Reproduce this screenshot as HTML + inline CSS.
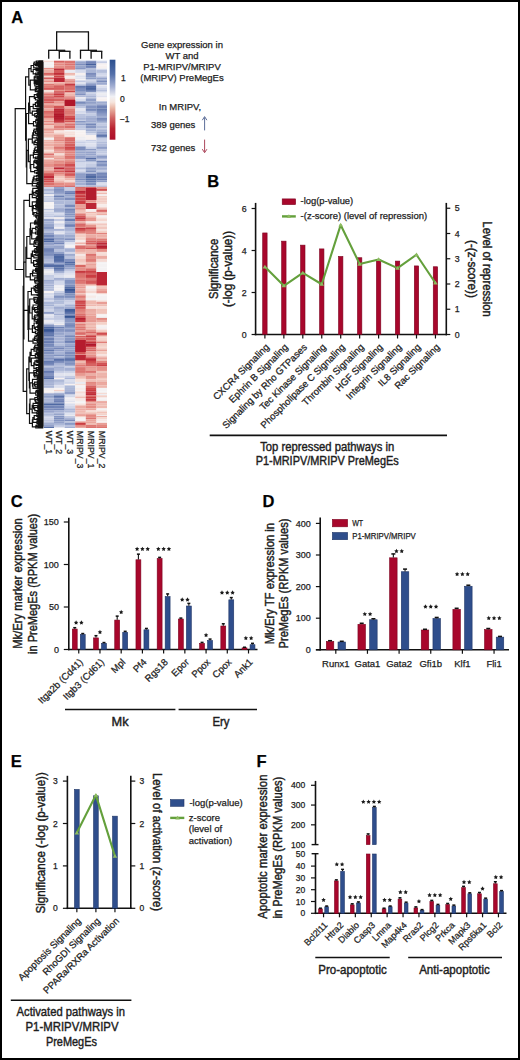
<!DOCTYPE html>
<html><head><meta charset="utf-8"><style>
html,body{margin:0;padding:0;background:#fff;width:520px;height:1060px;overflow:hidden}
svg{display:block}
text{font-family:"Liberation Sans",sans-serif;stroke:#222;stroke-width:0.25px}
</style></head><body>
<svg width="520" height="1060" viewBox="0 0 520 1060" fill="#1a1a1a">
<rect width="520" height="1060" fill="#fff"/>
<rect x="1" y="1" width="518" height="1058" fill="none" stroke="#000" stroke-width="2"/>
<text x="11.20" y="23.00" font-size="16.5" font-weight="bold" fill="#000">A</text>
<text x="207.30" y="187.40" font-size="16.5" font-weight="bold" fill="#000">B</text>
<text x="10.70" y="506.60" font-size="16.5" font-weight="bold" fill="#000">C</text>
<text x="262.50" y="506.60" font-size="16.5" font-weight="bold" fill="#000">D</text>
<text x="10.80" y="766.60" font-size="16.5" font-weight="bold" fill="#000">E</text>
<text x="256.60" y="766.60" font-size="16.5" font-weight="bold" fill="#000">F</text>
<defs><filter id="hb" x="0" y="0" width="1" height="1"><feGaussianBlur stdDeviation="0.2 0.6"/></filter><clipPath id="hc"><rect x="43.4" y="60.4" width="63.6" height="367.7"/></clipPath></defs>
<g clip-path="url(#hc)"><g filter="url(#hb)">
<rect x="43.40" y="60.40" width="10.65" height="1.55" fill="#f5d9d2"/>
<rect x="54.00" y="60.40" width="10.65" height="1.55" fill="#d35757"/>
<rect x="64.60" y="60.40" width="10.65" height="1.55" fill="#da6c69"/>
<rect x="75.20" y="60.40" width="10.65" height="1.55" fill="#acb7d7"/>
<rect x="85.80" y="60.40" width="10.65" height="1.55" fill="#7b8cbc"/>
<rect x="96.40" y="60.40" width="10.65" height="1.55" fill="#d0d6e9"/>
<rect x="43.40" y="61.90" width="10.65" height="1.55" fill="#f5f3f4"/>
<rect x="54.00" y="61.90" width="10.65" height="1.55" fill="#e1827c"/>
<rect x="64.60" y="61.90" width="10.65" height="1.55" fill="#dc7470"/>
<rect x="75.20" y="61.90" width="10.65" height="1.55" fill="#97a5cc"/>
<rect x="85.80" y="61.90" width="10.65" height="1.55" fill="#7385b8"/>
<rect x="96.40" y="61.90" width="10.65" height="1.55" fill="#c6cde4"/>
<rect x="43.40" y="63.40" width="10.65" height="2.05" fill="#f4f2f3"/>
<rect x="54.00" y="63.40" width="10.65" height="2.05" fill="#e48b83"/>
<rect x="64.60" y="63.40" width="10.65" height="2.05" fill="#dc736f"/>
<rect x="75.20" y="63.40" width="10.65" height="2.05" fill="#7d8ebd"/>
<rect x="85.80" y="63.40" width="10.65" height="2.05" fill="#46619d"/>
<rect x="96.40" y="63.40" width="10.65" height="2.05" fill="#f7f1f0"/>
<rect x="43.40" y="65.40" width="10.65" height="2.55" fill="#f4f2f3"/>
<rect x="54.00" y="65.40" width="10.65" height="2.55" fill="#e48e86"/>
<rect x="64.60" y="65.40" width="10.65" height="2.55" fill="#e0807a"/>
<rect x="75.20" y="65.40" width="10.65" height="2.55" fill="#97a5cb"/>
<rect x="85.80" y="65.40" width="10.65" height="2.55" fill="#6e81b5"/>
<rect x="96.40" y="65.40" width="10.65" height="2.55" fill="#f7f1f0"/>
<rect x="43.40" y="67.90" width="10.65" height="1.05" fill="#e2867f"/>
<rect x="54.00" y="67.90" width="10.65" height="1.05" fill="#db6f6c"/>
<rect x="64.60" y="67.90" width="10.65" height="1.05" fill="#de7a74"/>
<rect x="75.20" y="67.90" width="10.65" height="1.05" fill="#7c8dbd"/>
<rect x="85.80" y="67.90" width="10.65" height="1.05" fill="#b0bbd9"/>
<rect x="96.40" y="67.90" width="10.65" height="1.05" fill="#f3f1f3"/>
<rect x="43.40" y="68.90" width="10.65" height="1.05" fill="#f0bdb4"/>
<rect x="54.00" y="68.90" width="10.65" height="1.05" fill="#b51d2e"/>
<rect x="64.60" y="68.90" width="10.65" height="1.05" fill="#e7978f"/>
<rect x="75.20" y="68.90" width="10.65" height="1.05" fill="#b5bfdb"/>
<rect x="85.80" y="68.90" width="10.65" height="1.05" fill="#b2bcda"/>
<rect x="96.40" y="68.90" width="10.65" height="1.05" fill="#d9dded"/>
<rect x="43.40" y="69.90" width="10.65" height="3.05" fill="#ecafa6"/>
<rect x="54.00" y="69.90" width="10.65" height="3.05" fill="#d35858"/>
<rect x="64.60" y="69.90" width="10.65" height="3.05" fill="#eaeaf1"/>
<rect x="75.20" y="69.90" width="10.65" height="3.05" fill="#d6dbec"/>
<rect x="85.80" y="69.90" width="10.65" height="3.05" fill="#a9b5d6"/>
<rect x="96.40" y="69.90" width="10.65" height="3.05" fill="#b4bedb"/>
<rect x="43.40" y="72.90" width="10.65" height="2.05" fill="#d76361"/>
<rect x="54.00" y="72.90" width="10.65" height="2.05" fill="#c02d38"/>
<rect x="64.60" y="72.90" width="10.65" height="2.05" fill="#eeb7ae"/>
<rect x="75.20" y="72.90" width="10.65" height="2.05" fill="#f7f1f0"/>
<rect x="85.80" y="72.90" width="10.65" height="2.05" fill="#7a8bbb"/>
<rect x="96.40" y="72.90" width="10.65" height="2.05" fill="#d0d6e9"/>
<rect x="43.40" y="74.90" width="10.65" height="1.05" fill="#e6928a"/>
<rect x="54.00" y="74.90" width="10.65" height="1.05" fill="#dd7570"/>
<rect x="64.60" y="74.90" width="10.65" height="1.05" fill="#f4d4cb"/>
<rect x="75.20" y="74.90" width="10.65" height="1.05" fill="#ebebf1"/>
<rect x="85.80" y="74.90" width="10.65" height="1.05" fill="#8797c3"/>
<rect x="96.40" y="74.90" width="10.65" height="1.05" fill="#dadeed"/>
<rect x="43.40" y="75.90" width="10.65" height="1.55" fill="#f5d8d1"/>
<rect x="54.00" y="75.90" width="10.65" height="1.55" fill="#cd4447"/>
<rect x="64.60" y="75.90" width="10.65" height="1.55" fill="#f5f2f3"/>
<rect x="75.20" y="75.90" width="10.65" height="1.55" fill="#dee1ee"/>
<rect x="85.80" y="75.90" width="10.65" height="1.55" fill="#8a9ac4"/>
<rect x="96.40" y="75.90" width="10.65" height="1.55" fill="#c9d0e5"/>
<rect x="43.40" y="77.40" width="10.65" height="2.05" fill="#d65f5e"/>
<rect x="54.00" y="77.40" width="10.65" height="2.05" fill="#cb3d42"/>
<rect x="64.60" y="77.40" width="10.65" height="2.05" fill="#f6e6e2"/>
<rect x="75.20" y="77.40" width="10.65" height="2.05" fill="#e4e5ef"/>
<rect x="85.80" y="77.40" width="10.65" height="2.05" fill="#8d9dc6"/>
<rect x="96.40" y="77.40" width="10.65" height="2.05" fill="#95a3cb"/>
<rect x="43.40" y="79.40" width="10.65" height="1.05" fill="#edb2a9"/>
<rect x="54.00" y="79.40" width="10.65" height="1.05" fill="#e59189"/>
<rect x="64.60" y="79.40" width="10.65" height="1.05" fill="#dd7671"/>
<rect x="75.20" y="79.40" width="10.65" height="1.05" fill="#f7f3f2"/>
<rect x="85.80" y="79.40" width="10.65" height="1.05" fill="#bac3de"/>
<rect x="96.40" y="79.40" width="10.65" height="1.05" fill="#9aa7cd"/>
<rect x="43.40" y="80.40" width="10.65" height="2.05" fill="#e58f87"/>
<rect x="54.00" y="80.40" width="10.65" height="2.05" fill="#e5928a"/>
<rect x="64.60" y="80.40" width="10.65" height="2.05" fill="#e48d85"/>
<rect x="75.20" y="80.40" width="10.65" height="2.05" fill="#c0c8e1"/>
<rect x="85.80" y="80.40" width="10.65" height="2.05" fill="#c7cee4"/>
<rect x="96.40" y="80.40" width="10.65" height="2.05" fill="#7b8dbc"/>
<rect x="43.40" y="82.40" width="10.65" height="1.55" fill="#f0c0b7"/>
<rect x="54.00" y="82.40" width="10.65" height="1.55" fill="#ecada4"/>
<rect x="64.60" y="82.40" width="10.65" height="1.55" fill="#e48e86"/>
<rect x="75.20" y="82.40" width="10.65" height="1.55" fill="#e0e3ef"/>
<rect x="85.80" y="82.40" width="10.65" height="1.55" fill="#9facd0"/>
<rect x="96.40" y="82.40" width="10.65" height="1.55" fill="#98a5cc"/>
<rect x="43.40" y="83.90" width="10.65" height="1.05" fill="#db6f6b"/>
<rect x="54.00" y="83.90" width="10.65" height="1.05" fill="#e6978e"/>
<rect x="64.60" y="83.90" width="10.65" height="1.05" fill="#c12f39"/>
<rect x="75.20" y="83.90" width="10.65" height="1.05" fill="#c6cde4"/>
<rect x="85.80" y="83.90" width="10.65" height="1.05" fill="#8999c4"/>
<rect x="96.40" y="83.90" width="10.65" height="1.05" fill="#a4b0d3"/>
<rect x="43.40" y="84.90" width="10.65" height="1.05" fill="#e2867f"/>
<rect x="54.00" y="84.90" width="10.65" height="1.05" fill="#dd7772"/>
<rect x="64.60" y="84.90" width="10.65" height="1.05" fill="#d15051"/>
<rect x="75.20" y="84.90" width="10.65" height="1.05" fill="#b2bcda"/>
<rect x="85.80" y="84.90" width="10.65" height="1.05" fill="#8192c0"/>
<rect x="96.40" y="84.90" width="10.65" height="1.05" fill="#ebebf1"/>
<rect x="43.40" y="85.90" width="10.65" height="2.05" fill="#df7c77"/>
<rect x="54.00" y="85.90" width="10.65" height="2.05" fill="#d55f5e"/>
<rect x="64.60" y="85.90" width="10.65" height="2.05" fill="#da6e6b"/>
<rect x="75.20" y="85.90" width="10.65" height="2.05" fill="#6278ae"/>
<rect x="85.80" y="85.90" width="10.65" height="2.05" fill="#4f68a2"/>
<rect x="96.40" y="85.90" width="10.65" height="2.05" fill="#dde0ee"/>
<rect x="43.40" y="87.90" width="10.65" height="2.05" fill="#d45a5a"/>
<rect x="54.00" y="87.90" width="10.65" height="2.05" fill="#d55e5d"/>
<rect x="64.60" y="87.90" width="10.65" height="2.05" fill="#da6e6a"/>
<rect x="75.20" y="87.90" width="10.65" height="2.05" fill="#788aba"/>
<rect x="85.80" y="87.90" width="10.65" height="2.05" fill="#49639e"/>
<rect x="96.40" y="87.90" width="10.65" height="2.05" fill="#ccd2e7"/>
<rect x="43.40" y="89.90" width="10.65" height="1.05" fill="#f5e1dc"/>
<rect x="54.00" y="89.90" width="10.65" height="1.05" fill="#e6958c"/>
<rect x="64.60" y="89.90" width="10.65" height="1.05" fill="#e48b83"/>
<rect x="75.20" y="89.90" width="10.65" height="1.05" fill="#7386b8"/>
<rect x="85.80" y="89.90" width="10.65" height="1.05" fill="#6177ad"/>
<rect x="96.40" y="89.90" width="10.65" height="1.05" fill="#b1bbd9"/>
<rect x="43.40" y="90.90" width="10.65" height="1.55" fill="#f5ded7"/>
<rect x="54.00" y="90.90" width="10.65" height="1.55" fill="#d96a67"/>
<rect x="64.60" y="90.90" width="10.65" height="1.55" fill="#cd4649"/>
<rect x="75.20" y="90.90" width="10.65" height="1.55" fill="#94a2ca"/>
<rect x="85.80" y="90.90" width="10.65" height="1.55" fill="#7d8fbd"/>
<rect x="96.40" y="90.90" width="10.65" height="1.55" fill="#cfd5e8"/>
<rect x="43.40" y="92.40" width="10.65" height="1.05" fill="#e6968d"/>
<rect x="54.00" y="92.40" width="10.65" height="1.05" fill="#c6373e"/>
<rect x="64.60" y="92.40" width="10.65" height="1.05" fill="#eaa49b"/>
<rect x="75.20" y="92.40" width="10.65" height="1.05" fill="#7e8fbe"/>
<rect x="85.80" y="92.40" width="10.65" height="1.05" fill="#ccd3e7"/>
<rect x="96.40" y="92.40" width="10.65" height="1.05" fill="#dee1ee"/>
<rect x="43.40" y="93.40" width="10.65" height="2.05" fill="#dd7570"/>
<rect x="54.00" y="93.40" width="10.65" height="2.05" fill="#c93b40"/>
<rect x="64.60" y="93.40" width="10.65" height="2.05" fill="#eeb6ac"/>
<rect x="75.20" y="93.40" width="10.65" height="2.05" fill="#8191bf"/>
<rect x="85.80" y="93.40" width="10.65" height="2.05" fill="#c0c8e1"/>
<rect x="96.40" y="93.40" width="10.65" height="2.05" fill="#ececf1"/>
<rect x="43.40" y="95.40" width="10.65" height="2.05" fill="#de7873"/>
<rect x="54.00" y="95.40" width="10.65" height="2.05" fill="#cf4c4d"/>
<rect x="64.60" y="95.40" width="10.65" height="2.05" fill="#e89e96"/>
<rect x="75.20" y="95.40" width="10.65" height="2.05" fill="#b1bbd9"/>
<rect x="85.80" y="95.40" width="10.65" height="2.05" fill="#aab5d6"/>
<rect x="96.40" y="95.40" width="10.65" height="2.05" fill="#e1e3ef"/>
<rect x="43.40" y="97.40" width="10.65" height="1.05" fill="#c5353d"/>
<rect x="54.00" y="97.40" width="10.65" height="1.05" fill="#d35656"/>
<rect x="64.60" y="97.40" width="10.65" height="1.05" fill="#d66260"/>
<rect x="75.20" y="97.40" width="10.65" height="1.05" fill="#f7f1f0"/>
<rect x="85.80" y="97.40" width="10.65" height="1.05" fill="#b5bedb"/>
<rect x="96.40" y="97.40" width="10.65" height="1.05" fill="#f7f1f0"/>
<rect x="43.40" y="98.40" width="10.65" height="3.05" fill="#d45c5b"/>
<rect x="54.00" y="98.40" width="10.65" height="3.05" fill="#d76361"/>
<rect x="64.60" y="98.40" width="10.65" height="3.05" fill="#d86563"/>
<rect x="75.20" y="98.40" width="10.65" height="3.05" fill="#d8dded"/>
<rect x="85.80" y="98.40" width="10.65" height="3.05" fill="#8f9ec7"/>
<rect x="96.40" y="98.40" width="10.65" height="3.05" fill="#f7f1f0"/>
<rect x="43.40" y="101.40" width="10.65" height="2.05" fill="#d55d5c"/>
<rect x="54.00" y="101.40" width="10.65" height="2.05" fill="#e6968d"/>
<rect x="64.60" y="101.40" width="10.65" height="2.05" fill="#d65f5e"/>
<rect x="75.20" y="101.40" width="10.65" height="2.05" fill="#798bbb"/>
<rect x="85.80" y="101.40" width="10.65" height="2.05" fill="#91a0c8"/>
<rect x="96.40" y="101.40" width="10.65" height="2.05" fill="#9dabcf"/>
<rect x="43.40" y="103.40" width="10.65" height="1.05" fill="#e7988f"/>
<rect x="54.00" y="103.40" width="10.65" height="1.05" fill="#e48b83"/>
<rect x="64.60" y="103.40" width="10.65" height="1.05" fill="#dc7470"/>
<rect x="75.20" y="103.40" width="10.65" height="1.05" fill="#6076ad"/>
<rect x="85.80" y="103.40" width="10.65" height="1.05" fill="#7b8cbc"/>
<rect x="96.40" y="103.40" width="10.65" height="1.05" fill="#8f9ec7"/>
<rect x="43.40" y="104.40" width="10.65" height="1.55" fill="#e48c84"/>
<rect x="54.00" y="104.40" width="10.65" height="1.55" fill="#e9a39a"/>
<rect x="64.60" y="104.40" width="10.65" height="1.55" fill="#dc7470"/>
<rect x="75.20" y="104.40" width="10.65" height="1.55" fill="#9eabd0"/>
<rect x="85.80" y="104.40" width="10.65" height="1.55" fill="#9aa7cd"/>
<rect x="96.40" y="104.40" width="10.65" height="1.55" fill="#8393c1"/>
<rect x="43.40" y="105.90" width="10.65" height="2.55" fill="#e1847d"/>
<rect x="54.00" y="105.90" width="10.65" height="2.55" fill="#d25455"/>
<rect x="64.60" y="105.90" width="10.65" height="2.55" fill="#eaa69d"/>
<rect x="75.20" y="105.90" width="10.65" height="2.55" fill="#bcc5df"/>
<rect x="85.80" y="105.90" width="10.65" height="2.55" fill="#8494c1"/>
<rect x="96.40" y="105.90" width="10.65" height="2.55" fill="#6f82b5"/>
<rect x="43.40" y="108.40" width="10.65" height="2.55" fill="#eaa69d"/>
<rect x="54.00" y="108.40" width="10.65" height="2.55" fill="#bb2734"/>
<rect x="64.60" y="108.40" width="10.65" height="2.55" fill="#df7c76"/>
<rect x="75.20" y="108.40" width="10.65" height="2.55" fill="#e5e6f0"/>
<rect x="85.80" y="108.40" width="10.65" height="2.55" fill="#788aba"/>
<rect x="96.40" y="108.40" width="10.65" height="2.55" fill="#677cb0"/>
<rect x="43.40" y="110.90" width="10.65" height="2.05" fill="#d86664"/>
<rect x="54.00" y="110.90" width="10.65" height="2.05" fill="#bc2734"/>
<rect x="64.60" y="110.90" width="10.65" height="2.05" fill="#dd7671"/>
<rect x="75.20" y="110.90" width="10.65" height="2.05" fill="#d3d9eb"/>
<rect x="85.80" y="110.90" width="10.65" height="2.05" fill="#a9b4d5"/>
<rect x="96.40" y="110.90" width="10.65" height="2.05" fill="#7789ba"/>
<rect x="43.40" y="112.90" width="10.65" height="1.05" fill="#db6f6c"/>
<rect x="54.00" y="112.90" width="10.65" height="1.05" fill="#b82332"/>
<rect x="64.60" y="112.90" width="10.65" height="1.05" fill="#db716d"/>
<rect x="75.20" y="112.90" width="10.65" height="1.05" fill="#dee1ee"/>
<rect x="85.80" y="112.90" width="10.65" height="1.05" fill="#c8cfe5"/>
<rect x="96.40" y="112.90" width="10.65" height="1.05" fill="#8292c0"/>
<rect x="43.40" y="113.90" width="10.65" height="2.05" fill="#e07f79"/>
<rect x="54.00" y="113.90" width="10.65" height="2.05" fill="#b0162a"/>
<rect x="64.60" y="113.90" width="10.65" height="2.05" fill="#e2867f"/>
<rect x="75.20" y="113.90" width="10.65" height="2.05" fill="#bac3de"/>
<rect x="85.80" y="113.90" width="10.65" height="2.05" fill="#c3cbe3"/>
<rect x="96.40" y="113.90" width="10.65" height="2.05" fill="#8d9cc6"/>
<rect x="43.40" y="115.90" width="10.65" height="2.05" fill="#d76563"/>
<rect x="54.00" y="115.90" width="10.65" height="2.05" fill="#b0162a"/>
<rect x="64.60" y="115.90" width="10.65" height="2.05" fill="#d14f51"/>
<rect x="75.20" y="115.90" width="10.65" height="2.05" fill="#b8c1dd"/>
<rect x="85.80" y="115.90" width="10.65" height="2.05" fill="#a9b5d6"/>
<rect x="96.40" y="115.90" width="10.65" height="2.05" fill="#a0add1"/>
<rect x="43.40" y="117.90" width="10.65" height="2.05" fill="#eaa49b"/>
<rect x="54.00" y="117.90" width="10.65" height="2.05" fill="#b41c2e"/>
<rect x="64.60" y="117.90" width="10.65" height="2.05" fill="#c93b40"/>
<rect x="75.20" y="117.90" width="10.65" height="2.05" fill="#aab5d6"/>
<rect x="85.80" y="117.90" width="10.65" height="2.05" fill="#9daacf"/>
<rect x="96.40" y="117.90" width="10.65" height="2.05" fill="#7a8bbb"/>
<rect x="43.40" y="119.90" width="10.65" height="1.05" fill="#eeb8af"/>
<rect x="54.00" y="119.90" width="10.65" height="1.05" fill="#bb2734"/>
<rect x="64.60" y="119.90" width="10.65" height="1.05" fill="#de7b75"/>
<rect x="75.20" y="119.90" width="10.65" height="1.05" fill="#cad1e6"/>
<rect x="85.80" y="119.90" width="10.65" height="1.05" fill="#a5b1d4"/>
<rect x="96.40" y="119.90" width="10.65" height="1.05" fill="#8495c1"/>
<rect x="43.40" y="120.90" width="10.65" height="1.55" fill="#e38a82"/>
<rect x="54.00" y="120.90" width="10.65" height="1.55" fill="#c6373e"/>
<rect x="64.60" y="120.90" width="10.65" height="1.55" fill="#d35656"/>
<rect x="75.20" y="120.90" width="10.65" height="1.55" fill="#8898c3"/>
<rect x="85.80" y="120.90" width="10.65" height="1.55" fill="#9ca9cf"/>
<rect x="96.40" y="120.90" width="10.65" height="1.55" fill="#9aa8cd"/>
<rect x="43.40" y="122.40" width="10.65" height="1.05" fill="#ecada4"/>
<rect x="54.00" y="122.40" width="10.65" height="1.05" fill="#c4343c"/>
<rect x="64.60" y="122.40" width="10.65" height="1.05" fill="#e79a91"/>
<rect x="75.20" y="122.40" width="10.65" height="1.05" fill="#8e9ec7"/>
<rect x="85.80" y="122.40" width="10.65" height="1.05" fill="#9facd0"/>
<rect x="96.40" y="122.40" width="10.65" height="1.05" fill="#93a2ca"/>
<rect x="43.40" y="123.40" width="10.65" height="2.05" fill="#e58e86"/>
<rect x="54.00" y="123.40" width="10.65" height="2.05" fill="#e9a097"/>
<rect x="64.60" y="123.40" width="10.65" height="2.05" fill="#dc726e"/>
<rect x="75.20" y="123.40" width="10.65" height="2.05" fill="#95a3ca"/>
<rect x="85.80" y="123.40" width="10.65" height="2.05" fill="#7588b9"/>
<rect x="96.40" y="123.40" width="10.65" height="2.05" fill="#c0c8e1"/>
<rect x="43.40" y="125.40" width="10.65" height="3.05" fill="#f2c8be"/>
<rect x="54.00" y="125.40" width="10.65" height="3.05" fill="#df7d78"/>
<rect x="64.60" y="125.40" width="10.65" height="3.05" fill="#da6d6a"/>
<rect x="75.20" y="125.40" width="10.65" height="3.05" fill="#bbc4df"/>
<rect x="85.80" y="125.40" width="10.65" height="3.05" fill="#8393c0"/>
<rect x="96.40" y="125.40" width="10.65" height="3.05" fill="#afbad8"/>
<rect x="43.40" y="128.40" width="10.65" height="1.55" fill="#e59189"/>
<rect x="54.00" y="128.40" width="10.65" height="1.55" fill="#e0807a"/>
<rect x="64.60" y="128.40" width="10.65" height="1.55" fill="#e59189"/>
<rect x="75.20" y="128.40" width="10.65" height="1.55" fill="#b9c2dd"/>
<rect x="85.80" y="128.40" width="10.65" height="1.55" fill="#a8b4d5"/>
<rect x="96.40" y="128.40" width="10.65" height="1.55" fill="#b8c2dd"/>
<rect x="43.40" y="129.90" width="10.65" height="1.55" fill="#ecada4"/>
<rect x="54.00" y="129.90" width="10.65" height="1.55" fill="#f5dad3"/>
<rect x="64.60" y="129.90" width="10.65" height="1.55" fill="#f4f2f3"/>
<rect x="75.20" y="129.90" width="10.65" height="1.55" fill="#f2f0f3"/>
<rect x="85.80" y="129.90" width="10.65" height="1.55" fill="#a1aed1"/>
<rect x="96.40" y="129.90" width="10.65" height="1.55" fill="#a6b2d4"/>
<rect x="43.40" y="131.40" width="10.65" height="2.05" fill="#ebaaa1"/>
<rect x="54.00" y="131.40" width="10.65" height="2.05" fill="#f5e0db"/>
<rect x="64.60" y="131.40" width="10.65" height="2.05" fill="#f5e2dd"/>
<rect x="75.20" y="131.40" width="10.65" height="2.05" fill="#f7f1f0"/>
<rect x="85.80" y="131.40" width="10.65" height="2.05" fill="#b7c1dc"/>
<rect x="96.40" y="131.40" width="10.65" height="2.05" fill="#92a1c9"/>
<rect x="43.40" y="133.40" width="10.65" height="1.55" fill="#f0bdb4"/>
<rect x="54.00" y="133.40" width="10.65" height="1.55" fill="#f0c1b7"/>
<rect x="64.60" y="133.40" width="10.65" height="1.55" fill="#f5dcd5"/>
<rect x="75.20" y="133.40" width="10.65" height="1.55" fill="#f7f1f0"/>
<rect x="85.80" y="133.40" width="10.65" height="1.55" fill="#cfd5e9"/>
<rect x="96.40" y="133.40" width="10.65" height="1.55" fill="#8394c1"/>
<rect x="43.40" y="134.90" width="10.65" height="2.05" fill="#efbab1"/>
<rect x="54.00" y="134.90" width="10.65" height="2.05" fill="#eaa49b"/>
<rect x="64.60" y="134.90" width="10.65" height="2.05" fill="#f6e8e4"/>
<rect x="75.20" y="134.90" width="10.65" height="2.05" fill="#f7f1f0"/>
<rect x="85.80" y="134.90" width="10.65" height="2.05" fill="#f7f1f0"/>
<rect x="96.40" y="134.90" width="10.65" height="2.05" fill="#6076ac"/>
<rect x="43.40" y="136.90" width="10.65" height="1.05" fill="#f4d4cb"/>
<rect x="54.00" y="136.90" width="10.65" height="1.05" fill="#e58f87"/>
<rect x="64.60" y="136.90" width="10.65" height="1.05" fill="#e38880"/>
<rect x="75.20" y="136.90" width="10.65" height="1.05" fill="#edecf1"/>
<rect x="85.80" y="136.90" width="10.65" height="1.05" fill="#f7f1f0"/>
<rect x="96.40" y="136.90" width="10.65" height="1.05" fill="#9ba9ce"/>
<rect x="43.40" y="137.90" width="10.65" height="2.05" fill="#f4f2f3"/>
<rect x="54.00" y="137.90" width="10.65" height="2.05" fill="#e79a91"/>
<rect x="64.60" y="137.90" width="10.65" height="2.05" fill="#da6b68"/>
<rect x="75.20" y="137.90" width="10.65" height="2.05" fill="#f1eff2"/>
<rect x="85.80" y="137.90" width="10.65" height="2.05" fill="#f7f1f0"/>
<rect x="96.40" y="137.90" width="10.65" height="2.05" fill="#c4cce3"/>
<rect x="43.40" y="139.90" width="10.65" height="1.55" fill="#eeb8ae"/>
<rect x="54.00" y="139.90" width="10.65" height="1.55" fill="#e2847e"/>
<rect x="64.60" y="139.90" width="10.65" height="1.55" fill="#d86865"/>
<rect x="75.20" y="139.90" width="10.65" height="1.55" fill="#dfe2ee"/>
<rect x="85.80" y="139.90" width="10.65" height="1.55" fill="#c7cee5"/>
<rect x="96.40" y="139.90" width="10.65" height="1.55" fill="#c9d0e6"/>
<rect x="43.40" y="141.40" width="10.65" height="2.05" fill="#edb3aa"/>
<rect x="54.00" y="141.40" width="10.65" height="2.05" fill="#e9a198"/>
<rect x="64.60" y="141.40" width="10.65" height="2.05" fill="#d86765"/>
<rect x="75.20" y="141.40" width="10.65" height="2.05" fill="#c9d0e6"/>
<rect x="85.80" y="141.40" width="10.65" height="2.05" fill="#d4daeb"/>
<rect x="96.40" y="141.40" width="10.65" height="2.05" fill="#b4bedb"/>
<rect x="43.40" y="143.40" width="10.65" height="3.05" fill="#ecada4"/>
<rect x="54.00" y="143.40" width="10.65" height="3.05" fill="#e99f97"/>
<rect x="64.60" y="143.40" width="10.65" height="3.05" fill="#d55e5d"/>
<rect x="75.20" y="143.40" width="10.65" height="3.05" fill="#d4d9eb"/>
<rect x="85.80" y="143.40" width="10.65" height="3.05" fill="#dfe2ee"/>
<rect x="96.40" y="143.40" width="10.65" height="3.05" fill="#b1bbda"/>
<rect x="43.40" y="146.40" width="10.65" height="2.55" fill="#eeb6ad"/>
<rect x="54.00" y="146.40" width="10.65" height="2.55" fill="#dc7470"/>
<rect x="64.60" y="146.40" width="10.65" height="2.55" fill="#cd4447"/>
<rect x="75.20" y="146.40" width="10.65" height="2.55" fill="#7b8dbc"/>
<rect x="85.80" y="146.40" width="10.65" height="2.55" fill="#c9d0e6"/>
<rect x="96.40" y="146.40" width="10.65" height="2.55" fill="#8e9dc7"/>
<rect x="43.40" y="148.90" width="10.65" height="1.55" fill="#f3cbc1"/>
<rect x="54.00" y="148.90" width="10.65" height="1.55" fill="#e6968e"/>
<rect x="64.60" y="148.90" width="10.65" height="1.55" fill="#d45959"/>
<rect x="75.20" y="148.90" width="10.65" height="1.55" fill="#7d8ebd"/>
<rect x="85.80" y="148.90" width="10.65" height="1.55" fill="#8a9ac4"/>
<rect x="96.40" y="148.90" width="10.65" height="1.55" fill="#bcc5df"/>
<rect x="43.40" y="150.40" width="10.65" height="1.05" fill="#f5e0db"/>
<rect x="54.00" y="150.40" width="10.65" height="1.05" fill="#de7a75"/>
<rect x="64.60" y="150.40" width="10.65" height="1.05" fill="#d65f5e"/>
<rect x="75.20" y="150.40" width="10.65" height="1.05" fill="#8e9dc7"/>
<rect x="85.80" y="150.40" width="10.65" height="1.05" fill="#a4b0d3"/>
<rect x="96.40" y="150.40" width="10.65" height="1.05" fill="#a1aed1"/>
<rect x="43.40" y="151.40" width="10.65" height="2.05" fill="#f2c9bf"/>
<rect x="54.00" y="151.40" width="10.65" height="2.05" fill="#e9a098"/>
<rect x="64.60" y="151.40" width="10.65" height="2.05" fill="#e1827b"/>
<rect x="75.20" y="151.40" width="10.65" height="2.05" fill="#98a6cc"/>
<rect x="85.80" y="151.40" width="10.65" height="2.05" fill="#95a3ca"/>
<rect x="96.40" y="151.40" width="10.65" height="2.05" fill="#c2cae2"/>
<rect x="43.40" y="153.40" width="10.65" height="2.05" fill="#dc736f"/>
<rect x="54.00" y="153.40" width="10.65" height="2.05" fill="#f5dcd5"/>
<rect x="64.60" y="153.40" width="10.65" height="2.05" fill="#e28780"/>
<rect x="75.20" y="153.40" width="10.65" height="2.05" fill="#9facd0"/>
<rect x="85.80" y="153.40" width="10.65" height="2.05" fill="#97a5cc"/>
<rect x="96.40" y="153.40" width="10.65" height="2.05" fill="#c5cce3"/>
<rect x="43.40" y="155.40" width="10.65" height="2.55" fill="#e89b93"/>
<rect x="54.00" y="155.40" width="10.65" height="2.55" fill="#ecb0a7"/>
<rect x="64.60" y="155.40" width="10.65" height="2.55" fill="#db6f6b"/>
<rect x="75.20" y="155.40" width="10.65" height="2.55" fill="#8b9ac5"/>
<rect x="85.80" y="155.40" width="10.65" height="2.55" fill="#9eabcf"/>
<rect x="96.40" y="155.40" width="10.65" height="2.55" fill="#8a9ac5"/>
<rect x="43.40" y="157.90" width="10.65" height="1.55" fill="#f6e4e0"/>
<rect x="54.00" y="157.90" width="10.65" height="1.55" fill="#e9a097"/>
<rect x="64.60" y="157.90" width="10.65" height="1.55" fill="#de7974"/>
<rect x="75.20" y="157.90" width="10.65" height="1.55" fill="#93a1c9"/>
<rect x="85.80" y="157.90" width="10.65" height="1.55" fill="#556da6"/>
<rect x="96.40" y="157.90" width="10.65" height="1.55" fill="#a6b2d4"/>
<rect x="43.40" y="159.40" width="10.65" height="1.55" fill="#e9a39a"/>
<rect x="54.00" y="159.40" width="10.65" height="1.55" fill="#ebaaa1"/>
<rect x="64.60" y="159.40" width="10.65" height="1.55" fill="#e59087"/>
<rect x="75.20" y="159.40" width="10.65" height="1.55" fill="#c9d0e6"/>
<rect x="85.80" y="159.40" width="10.65" height="1.55" fill="#7d8fbd"/>
<rect x="96.40" y="159.40" width="10.65" height="1.55" fill="#b9c2dd"/>
<rect x="43.40" y="160.90" width="10.65" height="1.05" fill="#eaa39b"/>
<rect x="54.00" y="160.90" width="10.65" height="1.05" fill="#e28780"/>
<rect x="64.60" y="160.90" width="10.65" height="1.05" fill="#e38881"/>
<rect x="75.20" y="160.90" width="10.65" height="1.05" fill="#b3bddb"/>
<rect x="85.80" y="160.90" width="10.65" height="1.05" fill="#afbad9"/>
<rect x="96.40" y="160.90" width="10.65" height="1.05" fill="#667bb0"/>
<rect x="43.40" y="161.90" width="10.65" height="2.05" fill="#e89e96"/>
<rect x="54.00" y="161.90" width="10.65" height="2.05" fill="#e6938b"/>
<rect x="64.60" y="161.90" width="10.65" height="2.05" fill="#dd7772"/>
<rect x="75.20" y="161.90" width="10.65" height="2.05" fill="#d2d8ea"/>
<rect x="85.80" y="161.90" width="10.65" height="2.05" fill="#d0d6e9"/>
<rect x="96.40" y="161.90" width="10.65" height="2.05" fill="#96a4cb"/>
<rect x="43.40" y="163.90" width="10.65" height="2.55" fill="#e59088"/>
<rect x="54.00" y="163.90" width="10.65" height="2.55" fill="#dd7571"/>
<rect x="64.60" y="163.90" width="10.65" height="2.55" fill="#d04e50"/>
<rect x="75.20" y="163.90" width="10.65" height="2.55" fill="#d3d9eb"/>
<rect x="85.80" y="163.90" width="10.65" height="2.55" fill="#c4cce3"/>
<rect x="96.40" y="163.90" width="10.65" height="2.55" fill="#8293c0"/>
<rect x="43.40" y="166.40" width="10.65" height="1.05" fill="#da6e6b"/>
<rect x="54.00" y="166.40" width="10.65" height="1.05" fill="#d6605f"/>
<rect x="64.60" y="166.40" width="10.65" height="1.05" fill="#c93b40"/>
<rect x="75.20" y="166.40" width="10.65" height="1.05" fill="#c8cfe5"/>
<rect x="85.80" y="166.40" width="10.65" height="1.05" fill="#acb7d7"/>
<rect x="96.40" y="166.40" width="10.65" height="1.05" fill="#8c9bc6"/>
<rect x="43.40" y="167.40" width="10.65" height="2.05" fill="#ecafa6"/>
<rect x="54.00" y="167.40" width="10.65" height="2.05" fill="#bc2835"/>
<rect x="64.60" y="167.40" width="10.65" height="2.05" fill="#d45b5b"/>
<rect x="75.20" y="167.40" width="10.65" height="2.05" fill="#b0bad9"/>
<rect x="85.80" y="167.40" width="10.65" height="2.05" fill="#8e9dc7"/>
<rect x="96.40" y="167.40" width="10.65" height="2.05" fill="#9facd0"/>
<rect x="43.40" y="169.40" width="10.65" height="1.05" fill="#eaa49b"/>
<rect x="54.00" y="169.40" width="10.65" height="1.05" fill="#dc736f"/>
<rect x="64.60" y="169.40" width="10.65" height="1.05" fill="#c6373e"/>
<rect x="75.20" y="169.40" width="10.65" height="1.05" fill="#c7cee4"/>
<rect x="85.80" y="169.40" width="10.65" height="1.05" fill="#8696c2"/>
<rect x="96.40" y="169.40" width="10.65" height="1.05" fill="#919fc8"/>
<rect x="43.40" y="170.40" width="10.65" height="2.05" fill="#e48e86"/>
<rect x="54.00" y="170.40" width="10.65" height="2.05" fill="#d45959"/>
<rect x="64.60" y="170.40" width="10.65" height="2.05" fill="#c7393f"/>
<rect x="75.20" y="170.40" width="10.65" height="2.05" fill="#d1d6e9"/>
<rect x="85.80" y="170.40" width="10.65" height="2.05" fill="#8293c0"/>
<rect x="96.40" y="170.40" width="10.65" height="2.05" fill="#bdc6e0"/>
<rect x="43.40" y="172.40" width="10.65" height="1.55" fill="#d76361"/>
<rect x="54.00" y="172.40" width="10.65" height="1.55" fill="#e0807a"/>
<rect x="64.60" y="172.40" width="10.65" height="1.55" fill="#d86664"/>
<rect x="75.20" y="172.40" width="10.65" height="1.55" fill="#9aa7cd"/>
<rect x="85.80" y="172.40" width="10.65" height="1.55" fill="#a5b1d3"/>
<rect x="96.40" y="172.40" width="10.65" height="1.55" fill="#6e82b5"/>
<rect x="43.40" y="173.90" width="10.65" height="2.05" fill="#d25354"/>
<rect x="54.00" y="173.90" width="10.65" height="2.05" fill="#e9a097"/>
<rect x="64.60" y="173.90" width="10.65" height="2.05" fill="#d35656"/>
<rect x="75.20" y="173.90" width="10.65" height="2.05" fill="#8c9cc6"/>
<rect x="85.80" y="173.90" width="10.65" height="2.05" fill="#6277ad"/>
<rect x="96.40" y="173.90" width="10.65" height="2.05" fill="#7a8cbb"/>
<rect x="43.40" y="175.90" width="10.65" height="2.55" fill="#bf2c37"/>
<rect x="54.00" y="175.90" width="10.65" height="2.55" fill="#f2c9bf"/>
<rect x="64.60" y="175.90" width="10.65" height="2.55" fill="#e6968e"/>
<rect x="75.20" y="175.90" width="10.65" height="2.55" fill="#8e9dc7"/>
<rect x="85.80" y="175.90" width="10.65" height="2.55" fill="#4d67a1"/>
<rect x="96.40" y="175.90" width="10.65" height="2.55" fill="#6e81b5"/>
<rect x="43.40" y="178.40" width="10.65" height="2.05" fill="#d04c4e"/>
<rect x="54.00" y="178.40" width="10.65" height="2.05" fill="#f4d0c6"/>
<rect x="64.60" y="178.40" width="10.65" height="2.05" fill="#eeb8ae"/>
<rect x="75.20" y="178.40" width="10.65" height="2.05" fill="#7c8ebd"/>
<rect x="85.80" y="178.40" width="10.65" height="2.05" fill="#5d74ab"/>
<rect x="96.40" y="178.40" width="10.65" height="2.05" fill="#6d80b4"/>
<rect x="43.40" y="180.40" width="10.65" height="2.05" fill="#d15051"/>
<rect x="54.00" y="180.40" width="10.65" height="2.05" fill="#eeb8ae"/>
<rect x="64.60" y="180.40" width="10.65" height="2.05" fill="#f5dad3"/>
<rect x="75.20" y="180.40" width="10.65" height="2.05" fill="#9eabd0"/>
<rect x="85.80" y="180.40" width="10.65" height="2.05" fill="#697eb2"/>
<rect x="96.40" y="180.40" width="10.65" height="2.05" fill="#909fc8"/>
<rect x="43.40" y="182.40" width="10.65" height="3.05" fill="#db6f6b"/>
<rect x="54.00" y="182.40" width="10.65" height="3.05" fill="#e38a82"/>
<rect x="64.60" y="182.40" width="10.65" height="3.05" fill="#e6938b"/>
<rect x="75.20" y="182.40" width="10.65" height="3.05" fill="#a2afd2"/>
<rect x="85.80" y="182.40" width="10.65" height="3.05" fill="#8293c0"/>
<rect x="96.40" y="182.40" width="10.65" height="3.05" fill="#dbdfed"/>
<rect x="43.40" y="185.40" width="10.65" height="1.55" fill="#de7974"/>
<rect x="54.00" y="185.40" width="10.65" height="1.55" fill="#dd7571"/>
<rect x="64.60" y="185.40" width="10.65" height="1.55" fill="#d55d5c"/>
<rect x="75.20" y="185.40" width="10.65" height="1.55" fill="#bbc4de"/>
<rect x="85.80" y="185.40" width="10.65" height="1.55" fill="#aeb9d8"/>
<rect x="96.40" y="185.40" width="10.65" height="1.55" fill="#b8c2dd"/>
<rect x="43.40" y="186.90" width="10.65" height="2.05" fill="#ced4e8"/>
<rect x="54.00" y="186.90" width="10.65" height="2.05" fill="#92a0c9"/>
<rect x="64.60" y="186.90" width="10.65" height="2.05" fill="#c3cbe3"/>
<rect x="75.20" y="186.90" width="10.65" height="2.05" fill="#d96b68"/>
<rect x="85.80" y="186.90" width="10.65" height="2.05" fill="#d76462"/>
<rect x="96.40" y="186.90" width="10.65" height="2.05" fill="#e79b92"/>
<rect x="43.40" y="188.90" width="10.65" height="2.05" fill="#a9b4d5"/>
<rect x="54.00" y="188.90" width="10.65" height="2.05" fill="#7e8fbe"/>
<rect x="64.60" y="188.90" width="10.65" height="2.05" fill="#c4cbe3"/>
<rect x="75.20" y="188.90" width="10.65" height="2.05" fill="#db706c"/>
<rect x="85.80" y="188.90" width="10.65" height="2.05" fill="#d86664"/>
<rect x="96.40" y="188.90" width="10.65" height="2.05" fill="#d15051"/>
<rect x="43.40" y="190.90" width="10.65" height="2.05" fill="#c6cde4"/>
<rect x="54.00" y="190.90" width="10.65" height="2.05" fill="#8898c3"/>
<rect x="64.60" y="190.90" width="10.65" height="2.05" fill="#798abb"/>
<rect x="75.20" y="190.90" width="10.65" height="2.05" fill="#b82231"/>
<rect x="85.80" y="190.90" width="10.65" height="2.05" fill="#e89c94"/>
<rect x="96.40" y="190.90" width="10.65" height="2.05" fill="#f5ddd7"/>
<rect x="43.40" y="192.90" width="10.65" height="1.55" fill="#aab6d6"/>
<rect x="54.00" y="192.90" width="10.65" height="1.55" fill="#98a5cc"/>
<rect x="64.60" y="192.90" width="10.65" height="1.55" fill="#687cb1"/>
<rect x="75.20" y="192.90" width="10.65" height="1.55" fill="#c7383e"/>
<rect x="85.80" y="192.90" width="10.65" height="1.55" fill="#eeb6ad"/>
<rect x="96.40" y="192.90" width="10.65" height="1.55" fill="#efbbb2"/>
<rect x="43.40" y="194.40" width="10.65" height="1.55" fill="#f3f1f3"/>
<rect x="54.00" y="194.40" width="10.65" height="1.55" fill="#9ba9ce"/>
<rect x="64.60" y="194.40" width="10.65" height="1.55" fill="#91a0c8"/>
<rect x="75.20" y="194.40" width="10.65" height="1.55" fill="#cd4447"/>
<rect x="85.80" y="194.40" width="10.65" height="1.55" fill="#f6e2dd"/>
<rect x="96.40" y="194.40" width="10.65" height="1.55" fill="#f4f2f3"/>
<rect x="43.40" y="195.90" width="10.65" height="1.55" fill="#c0c8e1"/>
<rect x="54.00" y="195.90" width="10.65" height="1.55" fill="#6d81b4"/>
<rect x="64.60" y="195.90" width="10.65" height="1.55" fill="#a8b4d5"/>
<rect x="75.20" y="195.90" width="10.65" height="1.55" fill="#c8393f"/>
<rect x="85.80" y="195.90" width="10.65" height="1.55" fill="#df7b76"/>
<rect x="96.40" y="195.90" width="10.65" height="1.55" fill="#f3cac0"/>
<rect x="43.40" y="197.40" width="10.65" height="3.05" fill="#ced4e8"/>
<rect x="54.00" y="197.40" width="10.65" height="3.05" fill="#91a0c8"/>
<rect x="64.60" y="197.40" width="10.65" height="3.05" fill="#7d8ebd"/>
<rect x="75.20" y="197.40" width="10.65" height="3.05" fill="#cd4447"/>
<rect x="85.80" y="197.40" width="10.65" height="3.05" fill="#d86563"/>
<rect x="96.40" y="197.40" width="10.65" height="3.05" fill="#f3cbc2"/>
<rect x="43.40" y="200.40" width="10.65" height="1.55" fill="#b6c0dc"/>
<rect x="54.00" y="200.40" width="10.65" height="1.55" fill="#abb6d7"/>
<rect x="64.60" y="200.40" width="10.65" height="1.55" fill="#adb8d8"/>
<rect x="75.20" y="200.40" width="10.65" height="1.55" fill="#c7383f"/>
<rect x="85.80" y="200.40" width="10.65" height="1.55" fill="#e38880"/>
<rect x="96.40" y="200.40" width="10.65" height="1.55" fill="#f2c8be"/>
<rect x="43.40" y="201.90" width="10.65" height="2.55" fill="#f7f3f3"/>
<rect x="54.00" y="201.90" width="10.65" height="2.55" fill="#aeb9d8"/>
<rect x="64.60" y="201.90" width="10.65" height="2.55" fill="#aeb9d8"/>
<rect x="75.20" y="201.90" width="10.65" height="2.55" fill="#cb3e42"/>
<rect x="85.80" y="201.90" width="10.65" height="2.55" fill="#ebaca3"/>
<rect x="96.40" y="201.90" width="10.65" height="2.55" fill="#f5d9d1"/>
<rect x="43.40" y="204.40" width="10.65" height="3.05" fill="#f4f2f3"/>
<rect x="54.00" y="204.40" width="10.65" height="3.05" fill="#b7c1dd"/>
<rect x="64.60" y="204.40" width="10.65" height="3.05" fill="#798bbb"/>
<rect x="75.20" y="204.40" width="10.65" height="3.05" fill="#e89f96"/>
<rect x="85.80" y="204.40" width="10.65" height="3.05" fill="#f5d9d2"/>
<rect x="96.40" y="204.40" width="10.65" height="3.05" fill="#f6edeb"/>
<rect x="43.40" y="207.40" width="10.65" height="1.55" fill="#f4f1f3"/>
<rect x="54.00" y="207.40" width="10.65" height="1.55" fill="#a3afd2"/>
<rect x="64.60" y="207.40" width="10.65" height="1.55" fill="#9eabcf"/>
<rect x="75.20" y="207.40" width="10.65" height="1.55" fill="#e28780"/>
<rect x="85.80" y="207.40" width="10.65" height="1.55" fill="#f4f2f3"/>
<rect x="96.40" y="207.40" width="10.65" height="1.55" fill="#f1c3ba"/>
<rect x="43.40" y="208.90" width="10.65" height="1.05" fill="#b5bfdc"/>
<rect x="54.00" y="208.90" width="10.65" height="1.05" fill="#98a6cc"/>
<rect x="64.60" y="208.90" width="10.65" height="1.05" fill="#6c7fb3"/>
<rect x="75.20" y="208.90" width="10.65" height="1.05" fill="#e9a39a"/>
<rect x="85.80" y="208.90" width="10.65" height="1.05" fill="#f4f2f3"/>
<rect x="96.40" y="208.90" width="10.65" height="1.05" fill="#edb3aa"/>
<rect x="43.40" y="209.90" width="10.65" height="2.05" fill="#dfe2ee"/>
<rect x="54.00" y="209.90" width="10.65" height="2.05" fill="#9daacf"/>
<rect x="64.60" y="209.90" width="10.65" height="2.05" fill="#8293c0"/>
<rect x="75.20" y="209.90" width="10.65" height="2.05" fill="#f0c0b6"/>
<rect x="85.80" y="209.90" width="10.65" height="2.05" fill="#f7efee"/>
<rect x="96.40" y="209.90" width="10.65" height="2.05" fill="#d96866"/>
<rect x="43.40" y="211.90" width="10.65" height="1.55" fill="#cfd5e9"/>
<rect x="54.00" y="211.90" width="10.65" height="1.55" fill="#c3cbe2"/>
<rect x="64.60" y="211.90" width="10.65" height="1.55" fill="#8797c3"/>
<rect x="75.20" y="211.90" width="10.65" height="1.55" fill="#f2c6bd"/>
<rect x="85.80" y="211.90" width="10.65" height="1.55" fill="#edb4ab"/>
<rect x="96.40" y="211.90" width="10.65" height="1.55" fill="#efbab1"/>
<rect x="43.40" y="213.40" width="10.65" height="2.05" fill="#c9d0e5"/>
<rect x="54.00" y="213.40" width="10.65" height="2.05" fill="#d4d9eb"/>
<rect x="64.60" y="213.40" width="10.65" height="2.05" fill="#8495c1"/>
<rect x="75.20" y="213.40" width="10.65" height="2.05" fill="#e07e78"/>
<rect x="85.80" y="213.40" width="10.65" height="2.05" fill="#f3cac1"/>
<rect x="96.40" y="213.40" width="10.65" height="2.05" fill="#ecaea5"/>
<rect x="43.40" y="215.40" width="10.65" height="2.05" fill="#bfc7e1"/>
<rect x="54.00" y="215.40" width="10.65" height="2.05" fill="#afbad8"/>
<rect x="64.60" y="215.40" width="10.65" height="2.05" fill="#8c9bc5"/>
<rect x="75.20" y="215.40" width="10.65" height="2.05" fill="#d35757"/>
<rect x="85.80" y="215.40" width="10.65" height="2.05" fill="#f1c2b8"/>
<rect x="96.40" y="215.40" width="10.65" height="2.05" fill="#f4f2f3"/>
<rect x="43.40" y="217.40" width="10.65" height="1.55" fill="#e6e7f0"/>
<rect x="54.00" y="217.40" width="10.65" height="1.55" fill="#f7f1f0"/>
<rect x="64.60" y="217.40" width="10.65" height="1.55" fill="#a4b1d3"/>
<rect x="75.20" y="217.40" width="10.65" height="1.55" fill="#bc2835"/>
<rect x="85.80" y="217.40" width="10.65" height="1.55" fill="#e59088"/>
<rect x="96.40" y="217.40" width="10.65" height="1.55" fill="#f6e2dd"/>
<rect x="43.40" y="218.90" width="10.65" height="2.55" fill="#94a2ca"/>
<rect x="54.00" y="218.90" width="10.65" height="2.55" fill="#c3cae2"/>
<rect x="64.60" y="218.90" width="10.65" height="2.55" fill="#6b7fb3"/>
<rect x="75.20" y="218.90" width="10.65" height="2.55" fill="#da6b68"/>
<rect x="85.80" y="218.90" width="10.65" height="2.55" fill="#e89c94"/>
<rect x="96.40" y="218.90" width="10.65" height="2.55" fill="#f5d7cf"/>
<rect x="43.40" y="221.40" width="10.65" height="2.05" fill="#a6b2d4"/>
<rect x="54.00" y="221.40" width="10.65" height="2.05" fill="#efeef2"/>
<rect x="64.60" y="221.40" width="10.65" height="2.05" fill="#9eabcf"/>
<rect x="75.20" y="221.40" width="10.65" height="2.05" fill="#edb2a9"/>
<rect x="85.80" y="221.40" width="10.65" height="2.05" fill="#f6e9e6"/>
<rect x="96.40" y="221.40" width="10.65" height="2.05" fill="#f6ecea"/>
<rect x="43.40" y="223.40" width="10.65" height="1.55" fill="#93a2ca"/>
<rect x="54.00" y="223.40" width="10.65" height="1.55" fill="#cdd3e7"/>
<rect x="64.60" y="223.40" width="10.65" height="1.55" fill="#7d8fbd"/>
<rect x="75.20" y="223.40" width="10.65" height="1.55" fill="#d66160"/>
<rect x="85.80" y="223.40" width="10.65" height="1.55" fill="#efbcb3"/>
<rect x="96.40" y="223.40" width="10.65" height="1.55" fill="#f1c3ba"/>
<rect x="43.40" y="224.90" width="10.65" height="2.05" fill="#95a3ca"/>
<rect x="54.00" y="224.90" width="10.65" height="2.05" fill="#d9dded"/>
<rect x="64.60" y="224.90" width="10.65" height="2.05" fill="#6e81b5"/>
<rect x="75.20" y="224.90" width="10.65" height="2.05" fill="#da6e6b"/>
<rect x="85.80" y="224.90" width="10.65" height="2.05" fill="#e6948c"/>
<rect x="96.40" y="224.90" width="10.65" height="2.05" fill="#f5d9d1"/>
<rect x="43.40" y="226.90" width="10.65" height="1.05" fill="#7d8ebd"/>
<rect x="54.00" y="226.90" width="10.65" height="1.05" fill="#f1eff3"/>
<rect x="64.60" y="226.90" width="10.65" height="1.05" fill="#acb7d7"/>
<rect x="75.20" y="226.90" width="10.65" height="1.05" fill="#e59189"/>
<rect x="85.80" y="226.90" width="10.65" height="1.05" fill="#dc736f"/>
<rect x="96.40" y="226.90" width="10.65" height="1.05" fill="#f2c6bc"/>
<rect x="43.40" y="227.90" width="10.65" height="1.05" fill="#7d8ebd"/>
<rect x="54.00" y="227.90" width="10.65" height="1.05" fill="#f0eff2"/>
<rect x="64.60" y="227.90" width="10.65" height="1.05" fill="#a2afd2"/>
<rect x="75.20" y="227.90" width="10.65" height="1.05" fill="#bd2a36"/>
<rect x="85.80" y="227.90" width="10.65" height="1.05" fill="#c5353c"/>
<rect x="96.40" y="227.90" width="10.65" height="1.05" fill="#f1c3b9"/>
<rect x="43.40" y="228.90" width="10.65" height="2.05" fill="#a6b2d4"/>
<rect x="54.00" y="228.90" width="10.65" height="2.05" fill="#a8b4d5"/>
<rect x="64.60" y="228.90" width="10.65" height="2.05" fill="#a6b2d4"/>
<rect x="75.20" y="228.90" width="10.65" height="2.05" fill="#d04d4e"/>
<rect x="85.80" y="228.90" width="10.65" height="2.05" fill="#dc736f"/>
<rect x="96.40" y="228.90" width="10.65" height="2.05" fill="#f6e2dd"/>
<rect x="43.40" y="230.90" width="10.65" height="2.05" fill="#b7c0dc"/>
<rect x="54.00" y="230.90" width="10.65" height="2.05" fill="#dee1ee"/>
<rect x="64.60" y="230.90" width="10.65" height="2.05" fill="#bfc8e1"/>
<rect x="75.20" y="230.90" width="10.65" height="2.05" fill="#dc7470"/>
<rect x="85.80" y="230.90" width="10.65" height="2.05" fill="#e1817b"/>
<rect x="96.40" y="230.90" width="10.65" height="2.05" fill="#f4d0c6"/>
<rect x="43.40" y="232.90" width="10.65" height="1.55" fill="#92a0c9"/>
<rect x="54.00" y="232.90" width="10.65" height="1.55" fill="#e6e7f0"/>
<rect x="64.60" y="232.90" width="10.65" height="1.55" fill="#b3bddb"/>
<rect x="75.20" y="232.90" width="10.65" height="1.55" fill="#ebaba2"/>
<rect x="85.80" y="232.90" width="10.65" height="1.55" fill="#e2857e"/>
<rect x="96.40" y="232.90" width="10.65" height="1.55" fill="#e1827b"/>
<rect x="43.40" y="234.40" width="10.65" height="3.05" fill="#7386b8"/>
<rect x="54.00" y="234.40" width="10.65" height="3.05" fill="#a0add1"/>
<rect x="64.60" y="234.40" width="10.65" height="3.05" fill="#9dabcf"/>
<rect x="75.20" y="234.40" width="10.65" height="3.05" fill="#f3cdc3"/>
<rect x="85.80" y="234.40" width="10.65" height="3.05" fill="#ebaca3"/>
<rect x="96.40" y="234.40" width="10.65" height="3.05" fill="#edb0a7"/>
<rect x="43.40" y="237.40" width="10.65" height="1.55" fill="#7486b8"/>
<rect x="54.00" y="237.40" width="10.65" height="1.55" fill="#8898c3"/>
<rect x="64.60" y="237.40" width="10.65" height="1.55" fill="#94a2ca"/>
<rect x="75.20" y="237.40" width="10.65" height="1.55" fill="#f4d1c7"/>
<rect x="85.80" y="237.40" width="10.65" height="1.55" fill="#e38881"/>
<rect x="96.40" y="237.40" width="10.65" height="1.55" fill="#ebaaa1"/>
<rect x="43.40" y="238.90" width="10.65" height="1.55" fill="#4d66a1"/>
<rect x="54.00" y="238.90" width="10.65" height="1.55" fill="#96a4cb"/>
<rect x="64.60" y="238.90" width="10.65" height="1.55" fill="#7e8fbe"/>
<rect x="75.20" y="238.90" width="10.65" height="1.55" fill="#f5d7cf"/>
<rect x="85.80" y="238.90" width="10.65" height="1.55" fill="#e1847d"/>
<rect x="96.40" y="238.90" width="10.65" height="1.55" fill="#de7873"/>
<rect x="43.40" y="240.40" width="10.65" height="2.05" fill="#5069a3"/>
<rect x="54.00" y="240.40" width="10.65" height="2.05" fill="#8c9bc6"/>
<rect x="64.60" y="240.40" width="10.65" height="2.05" fill="#b4bedb"/>
<rect x="75.20" y="240.40" width="10.65" height="2.05" fill="#f6edeb"/>
<rect x="85.80" y="240.40" width="10.65" height="2.05" fill="#d76462"/>
<rect x="96.40" y="240.40" width="10.65" height="2.05" fill="#d55e5d"/>
<rect x="43.40" y="242.40" width="10.65" height="2.05" fill="#8d9cc6"/>
<rect x="54.00" y="242.40" width="10.65" height="2.05" fill="#7587b9"/>
<rect x="64.60" y="242.40" width="10.65" height="2.05" fill="#e0e3ef"/>
<rect x="75.20" y="242.40" width="10.65" height="2.05" fill="#eeb5ac"/>
<rect x="85.80" y="242.40" width="10.65" height="2.05" fill="#d55e5d"/>
<rect x="96.40" y="242.40" width="10.65" height="2.05" fill="#be2b37"/>
<rect x="43.40" y="244.40" width="10.65" height="1.05" fill="#7587b9"/>
<rect x="54.00" y="244.40" width="10.65" height="1.05" fill="#a6b2d4"/>
<rect x="64.60" y="244.40" width="10.65" height="1.05" fill="#e2e4ef"/>
<rect x="75.20" y="244.40" width="10.65" height="1.05" fill="#f5e1dc"/>
<rect x="85.80" y="244.40" width="10.65" height="1.05" fill="#de7873"/>
<rect x="96.40" y="244.40" width="10.65" height="1.05" fill="#b41c2e"/>
<rect x="43.40" y="245.40" width="10.65" height="2.55" fill="#9daacf"/>
<rect x="54.00" y="245.40" width="10.65" height="2.55" fill="#95a3ca"/>
<rect x="64.60" y="245.40" width="10.65" height="2.55" fill="#f5f2f4"/>
<rect x="75.20" y="245.40" width="10.65" height="2.55" fill="#da6d6a"/>
<rect x="85.80" y="245.40" width="10.65" height="2.55" fill="#e2857e"/>
<rect x="96.40" y="245.40" width="10.65" height="2.55" fill="#b41c2e"/>
<rect x="43.40" y="247.90" width="10.65" height="1.05" fill="#7789ba"/>
<rect x="54.00" y="247.90" width="10.65" height="1.05" fill="#8f9ec7"/>
<rect x="64.60" y="247.90" width="10.65" height="1.05" fill="#b9c2de"/>
<rect x="75.20" y="247.90" width="10.65" height="1.05" fill="#d55e5d"/>
<rect x="85.80" y="247.90" width="10.65" height="1.05" fill="#cc4245"/>
<rect x="96.40" y="247.90" width="10.65" height="1.05" fill="#bc2835"/>
<rect x="43.40" y="248.90" width="10.65" height="3.05" fill="#6f82b5"/>
<rect x="54.00" y="248.90" width="10.65" height="3.05" fill="#b6c0dc"/>
<rect x="64.60" y="248.90" width="10.65" height="3.05" fill="#a6b2d4"/>
<rect x="75.20" y="248.90" width="10.65" height="3.05" fill="#ebaba2"/>
<rect x="85.80" y="248.90" width="10.65" height="3.05" fill="#edb3aa"/>
<rect x="96.40" y="248.90" width="10.65" height="3.05" fill="#e58e86"/>
<rect x="43.40" y="251.90" width="10.65" height="2.05" fill="#7f90be"/>
<rect x="54.00" y="251.90" width="10.65" height="2.05" fill="#91a0c8"/>
<rect x="64.60" y="251.90" width="10.65" height="2.05" fill="#d2d7ea"/>
<rect x="75.20" y="251.90" width="10.65" height="2.05" fill="#f1c4ba"/>
<rect x="85.80" y="251.90" width="10.65" height="2.05" fill="#eeb6ad"/>
<rect x="96.40" y="251.90" width="10.65" height="2.05" fill="#f5ded8"/>
<rect x="43.40" y="253.90" width="10.65" height="2.05" fill="#7b8dbc"/>
<rect x="54.00" y="253.90" width="10.65" height="2.05" fill="#5f75ac"/>
<rect x="64.60" y="253.90" width="10.65" height="2.05" fill="#9eabcf"/>
<rect x="75.20" y="253.90" width="10.65" height="2.05" fill="#f6e8e5"/>
<rect x="85.80" y="253.90" width="10.65" height="2.05" fill="#db716d"/>
<rect x="96.40" y="253.90" width="10.65" height="2.05" fill="#f5dbd5"/>
<rect x="43.40" y="255.90" width="10.65" height="3.05" fill="#9eabd0"/>
<rect x="54.00" y="255.90" width="10.65" height="3.05" fill="#4c66a1"/>
<rect x="64.60" y="255.90" width="10.65" height="3.05" fill="#b9c2dd"/>
<rect x="75.20" y="255.90" width="10.65" height="3.05" fill="#f5d9d2"/>
<rect x="85.80" y="255.90" width="10.65" height="3.05" fill="#e48d85"/>
<rect x="96.40" y="255.90" width="10.65" height="3.05" fill="#ebaaa1"/>
<rect x="43.40" y="258.90" width="10.65" height="3.05" fill="#b0bad9"/>
<rect x="54.00" y="258.90" width="10.65" height="3.05" fill="#516aa4"/>
<rect x="64.60" y="258.90" width="10.65" height="3.05" fill="#8091bf"/>
<rect x="75.20" y="258.90" width="10.65" height="3.05" fill="#f2c6bd"/>
<rect x="85.80" y="258.90" width="10.65" height="3.05" fill="#df7c77"/>
<rect x="96.40" y="258.90" width="10.65" height="3.05" fill="#f5dad3"/>
<rect x="43.40" y="261.90" width="10.65" height="1.55" fill="#bcc5df"/>
<rect x="54.00" y="261.90" width="10.65" height="1.55" fill="#7e8fbe"/>
<rect x="64.60" y="261.90" width="10.65" height="1.55" fill="#516aa4"/>
<rect x="75.20" y="261.90" width="10.65" height="1.55" fill="#f4d3ca"/>
<rect x="85.80" y="261.90" width="10.65" height="1.55" fill="#eeb8af"/>
<rect x="96.40" y="261.90" width="10.65" height="1.55" fill="#f4f2f3"/>
<rect x="43.40" y="263.40" width="10.65" height="1.55" fill="#677bb0"/>
<rect x="54.00" y="263.40" width="10.65" height="1.55" fill="#8192c0"/>
<rect x="64.60" y="263.40" width="10.65" height="1.55" fill="#576fa7"/>
<rect x="75.20" y="263.40" width="10.65" height="1.55" fill="#f4cfc5"/>
<rect x="85.80" y="263.40" width="10.65" height="1.55" fill="#e89e95"/>
<rect x="96.40" y="263.40" width="10.65" height="1.55" fill="#f4f2f3"/>
<rect x="43.40" y="264.90" width="10.65" height="2.55" fill="#546ca5"/>
<rect x="54.00" y="264.90" width="10.65" height="2.55" fill="#516aa3"/>
<rect x="64.60" y="264.90" width="10.65" height="2.55" fill="#8999c4"/>
<rect x="75.20" y="264.90" width="10.65" height="2.55" fill="#d86764"/>
<rect x="85.80" y="264.90" width="10.65" height="2.55" fill="#edb1a8"/>
<rect x="96.40" y="264.90" width="10.65" height="2.55" fill="#f4f2f3"/>
<rect x="43.40" y="267.40" width="10.65" height="1.55" fill="#a2aed2"/>
<rect x="54.00" y="267.40" width="10.65" height="1.55" fill="#4d67a1"/>
<rect x="64.60" y="267.40" width="10.65" height="1.55" fill="#8d9cc6"/>
<rect x="75.20" y="267.40" width="10.65" height="1.55" fill="#e2867f"/>
<rect x="85.80" y="267.40" width="10.65" height="1.55" fill="#e48e86"/>
<rect x="96.40" y="267.40" width="10.65" height="1.55" fill="#f4f2f3"/>
<rect x="43.40" y="268.90" width="10.65" height="2.05" fill="#e1e3ef"/>
<rect x="54.00" y="268.90" width="10.65" height="2.05" fill="#7184b7"/>
<rect x="64.60" y="268.90" width="10.65" height="2.05" fill="#bac3de"/>
<rect x="75.20" y="268.90" width="10.65" height="2.05" fill="#e59189"/>
<rect x="85.80" y="268.90" width="10.65" height="2.05" fill="#da6c69"/>
<rect x="96.40" y="268.90" width="10.65" height="2.05" fill="#f4f2f3"/>
<rect x="43.40" y="270.90" width="10.65" height="2.05" fill="#efeef2"/>
<rect x="54.00" y="270.90" width="10.65" height="2.05" fill="#9facd0"/>
<rect x="64.60" y="270.90" width="10.65" height="2.05" fill="#d3d9eb"/>
<rect x="75.20" y="270.90" width="10.65" height="2.05" fill="#c6373e"/>
<rect x="85.80" y="270.90" width="10.65" height="2.05" fill="#cc4144"/>
<rect x="96.40" y="270.90" width="10.65" height="2.05" fill="#f6f3f4"/>
<rect x="43.40" y="272.90" width="10.65" height="2.05" fill="#e3e5ef"/>
<rect x="54.00" y="272.90" width="10.65" height="2.05" fill="#cdd3e8"/>
<rect x="64.60" y="272.90" width="10.65" height="2.05" fill="#e0e2ee"/>
<rect x="75.20" y="272.90" width="10.65" height="2.05" fill="#d96967"/>
<rect x="85.80" y="272.90" width="10.65" height="2.05" fill="#d65f5e"/>
<rect x="96.40" y="272.90" width="10.65" height="2.05" fill="#f4f2f3"/>
<rect x="43.40" y="274.90" width="10.65" height="3.05" fill="#c4cce3"/>
<rect x="54.00" y="274.90" width="10.65" height="3.05" fill="#dbdfed"/>
<rect x="64.60" y="274.90" width="10.65" height="3.05" fill="#eaeaf1"/>
<rect x="75.20" y="274.90" width="10.65" height="3.05" fill="#db6f6b"/>
<rect x="85.80" y="274.90" width="10.65" height="3.05" fill="#cb3e42"/>
<rect x="96.40" y="274.90" width="10.65" height="3.05" fill="#eeb8ae"/>
<rect x="43.40" y="277.90" width="10.65" height="2.05" fill="#c8cfe5"/>
<rect x="54.00" y="277.90" width="10.65" height="2.05" fill="#a3afd2"/>
<rect x="64.60" y="277.90" width="10.65" height="2.05" fill="#a3b0d3"/>
<rect x="75.20" y="277.90" width="10.65" height="2.05" fill="#e2857e"/>
<rect x="85.80" y="277.90" width="10.65" height="2.05" fill="#dd7571"/>
<rect x="96.40" y="277.90" width="10.65" height="2.05" fill="#f0c0b6"/>
<rect x="43.40" y="279.90" width="10.65" height="1.05" fill="#96a4cb"/>
<rect x="54.00" y="279.90" width="10.65" height="1.05" fill="#b8c1dd"/>
<rect x="64.60" y="279.90" width="10.65" height="1.05" fill="#7e8fbe"/>
<rect x="75.20" y="279.90" width="10.65" height="1.05" fill="#d76462"/>
<rect x="85.80" y="279.90" width="10.65" height="1.05" fill="#d86765"/>
<rect x="96.40" y="279.90" width="10.65" height="1.05" fill="#e07e78"/>
<rect x="43.40" y="280.90" width="10.65" height="3.05" fill="#a9b4d5"/>
<rect x="54.00" y="280.90" width="10.65" height="3.05" fill="#d2d8ea"/>
<rect x="64.60" y="280.90" width="10.65" height="3.05" fill="#8394c1"/>
<rect x="75.20" y="280.90" width="10.65" height="3.05" fill="#dd7672"/>
<rect x="85.80" y="280.90" width="10.65" height="3.05" fill="#d35858"/>
<rect x="96.40" y="280.90" width="10.65" height="3.05" fill="#d76462"/>
<rect x="43.40" y="283.90" width="10.65" height="1.05" fill="#bdc6e0"/>
<rect x="54.00" y="283.90" width="10.65" height="1.05" fill="#d0d6e9"/>
<rect x="64.60" y="283.90" width="10.65" height="1.05" fill="#98a6cc"/>
<rect x="75.20" y="283.90" width="10.65" height="1.05" fill="#eaa69d"/>
<rect x="85.80" y="283.90" width="10.65" height="1.05" fill="#e89d94"/>
<rect x="96.40" y="283.90" width="10.65" height="1.05" fill="#e38881"/>
<rect x="43.40" y="284.90" width="10.65" height="1.55" fill="#a5b1d3"/>
<rect x="54.00" y="284.90" width="10.65" height="1.55" fill="#eeedf2"/>
<rect x="64.60" y="284.90" width="10.65" height="1.55" fill="#7b8dbc"/>
<rect x="75.20" y="284.90" width="10.65" height="1.55" fill="#e9a198"/>
<rect x="85.80" y="284.90" width="10.65" height="1.55" fill="#f4cec4"/>
<rect x="96.40" y="284.90" width="10.65" height="1.55" fill="#e38982"/>
<rect x="43.40" y="286.40" width="10.65" height="2.05" fill="#b1bbd9"/>
<rect x="54.00" y="286.40" width="10.65" height="2.05" fill="#ededf2"/>
<rect x="64.60" y="286.40" width="10.65" height="2.05" fill="#556da6"/>
<rect x="75.20" y="286.40" width="10.65" height="2.05" fill="#e89b93"/>
<rect x="85.80" y="286.40" width="10.65" height="2.05" fill="#f4f2f3"/>
<rect x="96.40" y="286.40" width="10.65" height="2.05" fill="#f1c3b9"/>
<rect x="43.40" y="288.40" width="10.65" height="2.55" fill="#b0bbd9"/>
<rect x="54.00" y="288.40" width="10.65" height="2.55" fill="#f3f1f3"/>
<rect x="64.60" y="288.40" width="10.65" height="2.55" fill="#355393"/>
<rect x="75.20" y="288.40" width="10.65" height="2.55" fill="#ecaea5"/>
<rect x="85.80" y="288.40" width="10.65" height="2.55" fill="#f6e6e2"/>
<rect x="96.40" y="288.40" width="10.65" height="2.55" fill="#eba89f"/>
<rect x="43.40" y="290.90" width="10.65" height="2.55" fill="#f7f3f3"/>
<rect x="54.00" y="290.90" width="10.65" height="2.55" fill="#cbd2e7"/>
<rect x="64.60" y="290.90" width="10.65" height="2.55" fill="#5169a3"/>
<rect x="75.20" y="290.90" width="10.65" height="2.55" fill="#e89c94"/>
<rect x="85.80" y="290.90" width="10.65" height="2.55" fill="#f5d9d2"/>
<rect x="96.40" y="290.90" width="10.65" height="2.55" fill="#e6968e"/>
<rect x="43.40" y="293.40" width="10.65" height="1.05" fill="#bec7e0"/>
<rect x="54.00" y="293.40" width="10.65" height="1.05" fill="#8999c4"/>
<rect x="64.60" y="293.40" width="10.65" height="1.05" fill="#7f90bf"/>
<rect x="75.20" y="293.40" width="10.65" height="1.05" fill="#f1c3ba"/>
<rect x="85.80" y="293.40" width="10.65" height="1.05" fill="#f7f3f2"/>
<rect x="96.40" y="293.40" width="10.65" height="1.05" fill="#f5dad3"/>
<rect x="43.40" y="294.40" width="10.65" height="1.05" fill="#ced4e8"/>
<rect x="54.00" y="294.40" width="10.65" height="1.05" fill="#a7b3d5"/>
<rect x="64.60" y="294.40" width="10.65" height="1.05" fill="#546da5"/>
<rect x="75.20" y="294.40" width="10.65" height="1.05" fill="#e7978e"/>
<rect x="85.80" y="294.40" width="10.65" height="1.05" fill="#f4f2f3"/>
<rect x="96.40" y="294.40" width="10.65" height="1.05" fill="#f6f3f4"/>
<rect x="43.40" y="295.40" width="10.65" height="2.55" fill="#d8dcec"/>
<rect x="54.00" y="295.40" width="10.65" height="2.55" fill="#8192bf"/>
<rect x="64.60" y="295.40" width="10.65" height="2.55" fill="#7c8ebd"/>
<rect x="75.20" y="295.40" width="10.65" height="2.55" fill="#de7a75"/>
<rect x="85.80" y="295.40" width="10.65" height="2.55" fill="#f6eae7"/>
<rect x="96.40" y="295.40" width="10.65" height="2.55" fill="#f4f2f3"/>
<rect x="43.40" y="297.90" width="10.65" height="2.55" fill="#bfc7e1"/>
<rect x="54.00" y="297.90" width="10.65" height="2.55" fill="#a1aed1"/>
<rect x="64.60" y="297.90" width="10.65" height="2.55" fill="#aab5d6"/>
<rect x="75.20" y="297.90" width="10.65" height="2.55" fill="#e79991"/>
<rect x="85.80" y="297.90" width="10.65" height="2.55" fill="#f4f2f3"/>
<rect x="96.40" y="297.90" width="10.65" height="2.55" fill="#f4f2f3"/>
<rect x="43.40" y="300.40" width="10.65" height="1.55" fill="#ced4e8"/>
<rect x="54.00" y="300.40" width="10.65" height="1.55" fill="#acb8d7"/>
<rect x="64.60" y="300.40" width="10.65" height="1.55" fill="#c5cce3"/>
<rect x="75.20" y="300.40" width="10.65" height="1.55" fill="#c93b40"/>
<rect x="85.80" y="300.40" width="10.65" height="1.55" fill="#eeb6ac"/>
<rect x="96.40" y="300.40" width="10.65" height="1.55" fill="#f5dbd4"/>
<rect x="43.40" y="301.90" width="10.65" height="2.55" fill="#abb7d7"/>
<rect x="54.00" y="301.90" width="10.65" height="2.55" fill="#b4bedb"/>
<rect x="64.60" y="301.90" width="10.65" height="2.55" fill="#d1d7ea"/>
<rect x="75.20" y="301.90" width="10.65" height="2.55" fill="#d15152"/>
<rect x="85.80" y="301.90" width="10.65" height="2.55" fill="#efb9af"/>
<rect x="96.40" y="301.90" width="10.65" height="2.55" fill="#e89d95"/>
<rect x="43.40" y="304.40" width="10.65" height="2.05" fill="#a4b1d3"/>
<rect x="54.00" y="304.40" width="10.65" height="2.05" fill="#c7cfe5"/>
<rect x="64.60" y="304.40" width="10.65" height="2.05" fill="#a6b2d4"/>
<rect x="75.20" y="304.40" width="10.65" height="2.05" fill="#ca3c41"/>
<rect x="85.80" y="304.40" width="10.65" height="2.05" fill="#efb9b0"/>
<rect x="96.40" y="304.40" width="10.65" height="2.05" fill="#efbdb3"/>
<rect x="43.40" y="306.40" width="10.65" height="2.55" fill="#bec7e0"/>
<rect x="54.00" y="306.40" width="10.65" height="2.55" fill="#9eabd0"/>
<rect x="64.60" y="306.40" width="10.65" height="2.55" fill="#9facd0"/>
<rect x="75.20" y="306.40" width="10.65" height="2.55" fill="#d35657"/>
<rect x="85.80" y="306.40" width="10.65" height="2.55" fill="#f5dfd9"/>
<rect x="96.40" y="306.40" width="10.65" height="2.55" fill="#f5ddd7"/>
<rect x="43.40" y="308.90" width="10.65" height="3.05" fill="#cfd5e8"/>
<rect x="54.00" y="308.90" width="10.65" height="3.05" fill="#b0bbd9"/>
<rect x="64.60" y="308.90" width="10.65" height="3.05" fill="#435e9b"/>
<rect x="75.20" y="308.90" width="10.65" height="3.05" fill="#e07e78"/>
<rect x="85.80" y="308.90" width="10.65" height="3.05" fill="#ebaba2"/>
<rect x="96.40" y="308.90" width="10.65" height="3.05" fill="#f1c3b9"/>
<rect x="43.40" y="311.90" width="10.65" height="2.05" fill="#8e9dc7"/>
<rect x="54.00" y="311.90" width="10.65" height="2.05" fill="#bfc8e1"/>
<rect x="64.60" y="311.90" width="10.65" height="2.05" fill="#5a71a9"/>
<rect x="75.20" y="311.90" width="10.65" height="2.05" fill="#e48c84"/>
<rect x="85.80" y="311.90" width="10.65" height="2.05" fill="#edb1a8"/>
<rect x="96.40" y="311.90" width="10.65" height="2.05" fill="#f1c4ba"/>
<rect x="43.40" y="313.90" width="10.65" height="1.55" fill="#dfe2ee"/>
<rect x="54.00" y="313.90" width="10.65" height="1.55" fill="#a3afd2"/>
<rect x="64.60" y="313.90" width="10.65" height="1.55" fill="#8595c2"/>
<rect x="75.20" y="313.90" width="10.65" height="1.55" fill="#db6f6c"/>
<rect x="85.80" y="313.90" width="10.65" height="1.55" fill="#eaa59c"/>
<rect x="96.40" y="313.90" width="10.65" height="1.55" fill="#f7f1f0"/>
<rect x="43.40" y="315.40" width="10.65" height="2.55" fill="#dee1ee"/>
<rect x="54.00" y="315.40" width="10.65" height="2.55" fill="#c0c8e1"/>
<rect x="64.60" y="315.40" width="10.65" height="2.55" fill="#345292"/>
<rect x="75.20" y="315.40" width="10.65" height="2.55" fill="#d35657"/>
<rect x="85.80" y="315.40" width="10.65" height="2.55" fill="#e89d94"/>
<rect x="96.40" y="315.40" width="10.65" height="2.55" fill="#f4f2f3"/>
<rect x="43.40" y="317.90" width="10.65" height="2.05" fill="#c8cfe5"/>
<rect x="54.00" y="317.90" width="10.65" height="2.05" fill="#c1c9e2"/>
<rect x="64.60" y="317.90" width="10.65" height="2.05" fill="#8091bf"/>
<rect x="75.20" y="317.90" width="10.65" height="2.05" fill="#b61f2f"/>
<rect x="85.80" y="317.90" width="10.65" height="2.05" fill="#e89c94"/>
<rect x="96.40" y="317.90" width="10.65" height="2.05" fill="#e2877f"/>
<rect x="43.40" y="319.90" width="10.65" height="2.55" fill="#edecf2"/>
<rect x="54.00" y="319.90" width="10.65" height="2.55" fill="#d8dcec"/>
<rect x="64.60" y="319.90" width="10.65" height="2.55" fill="#8999c4"/>
<rect x="75.20" y="319.90" width="10.65" height="2.55" fill="#c8393f"/>
<rect x="85.80" y="319.90" width="10.65" height="2.55" fill="#e79a92"/>
<rect x="96.40" y="319.90" width="10.65" height="2.55" fill="#eba9a0"/>
<rect x="43.40" y="322.40" width="10.65" height="1.55" fill="#dde0ee"/>
<rect x="54.00" y="322.40" width="10.65" height="1.55" fill="#e0e3ee"/>
<rect x="64.60" y="322.40" width="10.65" height="1.55" fill="#8192c0"/>
<rect x="75.20" y="322.40" width="10.65" height="1.55" fill="#ecafa6"/>
<rect x="85.80" y="322.40" width="10.65" height="1.55" fill="#eeb7ae"/>
<rect x="96.40" y="322.40" width="10.65" height="1.55" fill="#f4d0c6"/>
<rect x="43.40" y="323.90" width="10.65" height="1.05" fill="#b3bdda"/>
<rect x="54.00" y="323.90" width="10.65" height="1.05" fill="#f7f2f2"/>
<rect x="64.60" y="323.90" width="10.65" height="1.05" fill="#798bbb"/>
<rect x="75.20" y="323.90" width="10.65" height="1.05" fill="#dd7570"/>
<rect x="85.80" y="323.90" width="10.65" height="1.05" fill="#ecafa6"/>
<rect x="96.40" y="323.90" width="10.65" height="1.05" fill="#f4d4cc"/>
<rect x="43.40" y="324.90" width="10.65" height="2.05" fill="#8696c2"/>
<rect x="54.00" y="324.90" width="10.65" height="2.05" fill="#adb8d7"/>
<rect x="64.60" y="324.90" width="10.65" height="2.05" fill="#7587b9"/>
<rect x="75.20" y="324.90" width="10.65" height="2.05" fill="#e6968e"/>
<rect x="85.80" y="324.90" width="10.65" height="2.05" fill="#f1c2b8"/>
<rect x="96.40" y="324.90" width="10.65" height="2.05" fill="#f7f1f0"/>
<rect x="43.40" y="326.90" width="10.65" height="1.55" fill="#4b65a0"/>
<rect x="54.00" y="326.90" width="10.65" height="1.55" fill="#7184b7"/>
<rect x="64.60" y="326.90" width="10.65" height="1.55" fill="#8a9ac4"/>
<rect x="75.20" y="326.90" width="10.65" height="1.55" fill="#dd7671"/>
<rect x="85.80" y="326.90" width="10.65" height="1.55" fill="#edb3aa"/>
<rect x="96.40" y="326.90" width="10.65" height="1.55" fill="#f2f0f3"/>
<rect x="43.40" y="328.40" width="10.65" height="1.55" fill="#345292"/>
<rect x="54.00" y="328.40" width="10.65" height="1.55" fill="#7e8fbe"/>
<rect x="64.60" y="328.40" width="10.65" height="1.55" fill="#8797c3"/>
<rect x="75.20" y="328.40" width="10.65" height="1.55" fill="#db706c"/>
<rect x="85.80" y="328.40" width="10.65" height="1.55" fill="#edb2a8"/>
<rect x="96.40" y="328.40" width="10.65" height="1.55" fill="#f6e6e3"/>
<rect x="43.40" y="329.90" width="10.65" height="2.05" fill="#395695"/>
<rect x="54.00" y="329.90" width="10.65" height="2.05" fill="#8696c2"/>
<rect x="64.60" y="329.90" width="10.65" height="2.05" fill="#8091bf"/>
<rect x="75.20" y="329.90" width="10.65" height="2.05" fill="#e9a299"/>
<rect x="85.80" y="329.90" width="10.65" height="2.05" fill="#e59189"/>
<rect x="96.40" y="329.90" width="10.65" height="2.05" fill="#f4d0c6"/>
<rect x="43.40" y="331.90" width="10.65" height="1.05" fill="#576ea7"/>
<rect x="54.00" y="331.90" width="10.65" height="1.05" fill="#a1add1"/>
<rect x="64.60" y="331.90" width="10.65" height="1.05" fill="#a4b0d3"/>
<rect x="75.20" y="331.90" width="10.65" height="1.05" fill="#de7873"/>
<rect x="85.80" y="331.90" width="10.65" height="1.05" fill="#d45a5a"/>
<rect x="96.40" y="331.90" width="10.65" height="1.05" fill="#e6958d"/>
<rect x="43.40" y="332.90" width="10.65" height="2.05" fill="#657aaf"/>
<rect x="54.00" y="332.90" width="10.65" height="2.05" fill="#96a4cb"/>
<rect x="64.60" y="332.90" width="10.65" height="2.05" fill="#a5b1d3"/>
<rect x="75.20" y="332.90" width="10.65" height="2.05" fill="#da6c69"/>
<rect x="85.80" y="332.90" width="10.65" height="2.05" fill="#e79890"/>
<rect x="96.40" y="332.90" width="10.65" height="2.05" fill="#d04e4f"/>
<rect x="43.40" y="334.90" width="10.65" height="1.05" fill="#556da6"/>
<rect x="54.00" y="334.90" width="10.65" height="1.05" fill="#acb7d7"/>
<rect x="64.60" y="334.90" width="10.65" height="1.05" fill="#8c9cc6"/>
<rect x="75.20" y="334.90" width="10.65" height="1.05" fill="#f1c2b8"/>
<rect x="85.80" y="334.90" width="10.65" height="1.05" fill="#d96b68"/>
<rect x="96.40" y="334.90" width="10.65" height="1.05" fill="#e58f87"/>
<rect x="43.40" y="335.90" width="10.65" height="1.55" fill="#8a99c4"/>
<rect x="54.00" y="335.90" width="10.65" height="1.55" fill="#9daacf"/>
<rect x="64.60" y="335.90" width="10.65" height="1.55" fill="#788aba"/>
<rect x="75.20" y="335.90" width="10.65" height="1.55" fill="#d55e5d"/>
<rect x="85.80" y="335.90" width="10.65" height="1.55" fill="#ca3d42"/>
<rect x="96.40" y="335.90" width="10.65" height="1.55" fill="#f3cbc1"/>
<rect x="43.40" y="337.40" width="10.65" height="3.05" fill="#6c80b3"/>
<rect x="54.00" y="337.40" width="10.65" height="3.05" fill="#a9b4d5"/>
<rect x="64.60" y="337.40" width="10.65" height="3.05" fill="#8898c3"/>
<rect x="75.20" y="337.40" width="10.65" height="3.05" fill="#d76563"/>
<rect x="85.80" y="337.40" width="10.65" height="3.05" fill="#d45959"/>
<rect x="96.40" y="337.40" width="10.65" height="3.05" fill="#f4d5cc"/>
<rect x="43.40" y="340.40" width="10.65" height="1.55" fill="#6a7eb3"/>
<rect x="54.00" y="340.40" width="10.65" height="1.55" fill="#a4b0d3"/>
<rect x="64.60" y="340.40" width="10.65" height="1.55" fill="#6479af"/>
<rect x="75.20" y="340.40" width="10.65" height="1.55" fill="#dc736f"/>
<rect x="85.80" y="340.40" width="10.65" height="1.55" fill="#d65f5e"/>
<rect x="96.40" y="340.40" width="10.65" height="1.55" fill="#eeb5ac"/>
<rect x="43.40" y="341.90" width="10.65" height="1.55" fill="#687cb1"/>
<rect x="54.00" y="341.90" width="10.65" height="1.55" fill="#9facd0"/>
<rect x="64.60" y="341.90" width="10.65" height="1.55" fill="#7688b9"/>
<rect x="75.20" y="341.90" width="10.65" height="1.55" fill="#e48d85"/>
<rect x="85.80" y="341.90" width="10.65" height="1.55" fill="#c2303a"/>
<rect x="96.40" y="341.90" width="10.65" height="1.55" fill="#e07f79"/>
<rect x="43.40" y="343.40" width="10.65" height="2.55" fill="#7587b9"/>
<rect x="54.00" y="343.40" width="10.65" height="2.55" fill="#b3bedb"/>
<rect x="64.60" y="343.40" width="10.65" height="2.55" fill="#99a7cd"/>
<rect x="75.20" y="343.40" width="10.65" height="2.55" fill="#ebaaa1"/>
<rect x="85.80" y="343.40" width="10.65" height="2.55" fill="#b0162a"/>
<rect x="96.40" y="343.40" width="10.65" height="2.55" fill="#f3cdc3"/>
<rect x="43.40" y="345.90" width="10.65" height="1.55" fill="#7d8fbd"/>
<rect x="54.00" y="345.90" width="10.65" height="1.55" fill="#92a1c9"/>
<rect x="64.60" y="345.90" width="10.65" height="1.55" fill="#8494c1"/>
<rect x="75.20" y="345.90" width="10.65" height="1.55" fill="#cc4245"/>
<rect x="85.80" y="345.90" width="10.65" height="1.55" fill="#cd4346"/>
<rect x="96.40" y="345.90" width="10.65" height="1.55" fill="#f4d5cd"/>
<rect x="43.40" y="347.40" width="10.65" height="2.05" fill="#8595c2"/>
<rect x="54.00" y="347.40" width="10.65" height="2.05" fill="#7688b9"/>
<rect x="64.60" y="347.40" width="10.65" height="2.05" fill="#96a4cb"/>
<rect x="75.20" y="347.40" width="10.65" height="2.05" fill="#d04f50"/>
<rect x="85.80" y="347.40" width="10.65" height="2.05" fill="#da6d6a"/>
<rect x="96.40" y="347.40" width="10.65" height="2.05" fill="#f4cec4"/>
<rect x="43.40" y="349.40" width="10.65" height="2.05" fill="#6278ae"/>
<rect x="54.00" y="349.40" width="10.65" height="2.05" fill="#92a0c9"/>
<rect x="64.60" y="349.40" width="10.65" height="2.05" fill="#92a1c9"/>
<rect x="75.20" y="349.40" width="10.65" height="2.05" fill="#d25454"/>
<rect x="85.80" y="349.40" width="10.65" height="2.05" fill="#d86663"/>
<rect x="96.40" y="349.40" width="10.65" height="2.05" fill="#e9a299"/>
<rect x="43.40" y="351.40" width="10.65" height="3.05" fill="#8293c0"/>
<rect x="54.00" y="351.40" width="10.65" height="3.05" fill="#a6b2d4"/>
<rect x="64.60" y="351.40" width="10.65" height="3.05" fill="#7d8ebd"/>
<rect x="75.20" y="351.40" width="10.65" height="3.05" fill="#d25455"/>
<rect x="85.80" y="351.40" width="10.65" height="3.05" fill="#e89c93"/>
<rect x="96.40" y="351.40" width="10.65" height="3.05" fill="#f4cfc5"/>
<rect x="43.40" y="354.40" width="10.65" height="2.05" fill="#8d9cc6"/>
<rect x="54.00" y="354.40" width="10.65" height="2.05" fill="#8293c0"/>
<rect x="64.60" y="354.40" width="10.65" height="2.05" fill="#7a8cbb"/>
<rect x="75.20" y="354.40" width="10.65" height="2.05" fill="#db706d"/>
<rect x="85.80" y="354.40" width="10.65" height="2.05" fill="#e58f87"/>
<rect x="96.40" y="354.40" width="10.65" height="2.05" fill="#f6e2de"/>
<rect x="43.40" y="356.40" width="10.65" height="1.05" fill="#7a8cbb"/>
<rect x="54.00" y="356.40" width="10.65" height="1.05" fill="#afbad9"/>
<rect x="64.60" y="356.40" width="10.65" height="1.05" fill="#7487b8"/>
<rect x="75.20" y="356.40" width="10.65" height="1.05" fill="#efbbb1"/>
<rect x="85.80" y="356.40" width="10.65" height="1.05" fill="#d86866"/>
<rect x="96.40" y="356.40" width="10.65" height="1.05" fill="#eeb4ab"/>
<rect x="43.40" y="357.40" width="10.65" height="1.55" fill="#7c8dbd"/>
<rect x="54.00" y="357.40" width="10.65" height="1.55" fill="#8797c3"/>
<rect x="64.60" y="357.40" width="10.65" height="1.55" fill="#6278ae"/>
<rect x="75.20" y="357.40" width="10.65" height="1.55" fill="#ecb0a7"/>
<rect x="85.80" y="357.40" width="10.65" height="1.55" fill="#cc4044"/>
<rect x="96.40" y="357.40" width="10.65" height="1.55" fill="#e89e95"/>
<rect x="43.40" y="358.90" width="10.65" height="2.05" fill="#93a2ca"/>
<rect x="54.00" y="358.90" width="10.65" height="2.05" fill="#5a71a9"/>
<rect x="64.60" y="358.90" width="10.65" height="2.05" fill="#5b72a9"/>
<rect x="75.20" y="358.90" width="10.65" height="2.05" fill="#e0807a"/>
<rect x="85.80" y="358.90" width="10.65" height="2.05" fill="#bd2935"/>
<rect x="96.40" y="358.90" width="10.65" height="2.05" fill="#efbdb3"/>
<rect x="43.40" y="360.90" width="10.65" height="2.05" fill="#647aaf"/>
<rect x="54.00" y="360.90" width="10.65" height="2.05" fill="#798bbb"/>
<rect x="64.60" y="360.90" width="10.65" height="2.05" fill="#8898c3"/>
<rect x="75.20" y="360.90" width="10.65" height="2.05" fill="#efb9af"/>
<rect x="85.80" y="360.90" width="10.65" height="2.05" fill="#ce4649"/>
<rect x="96.40" y="360.90" width="10.65" height="2.05" fill="#e1847d"/>
<rect x="43.40" y="362.90" width="10.65" height="2.05" fill="#7083b6"/>
<rect x="54.00" y="362.90" width="10.65" height="2.05" fill="#a6b2d4"/>
<rect x="64.60" y="362.90" width="10.65" height="2.05" fill="#8091bf"/>
<rect x="75.20" y="362.90" width="10.65" height="2.05" fill="#e89e96"/>
<rect x="85.80" y="362.90" width="10.65" height="2.05" fill="#d55d5c"/>
<rect x="96.40" y="362.90" width="10.65" height="2.05" fill="#d15152"/>
<rect x="43.40" y="364.90" width="10.65" height="1.55" fill="#98a6cc"/>
<rect x="54.00" y="364.90" width="10.65" height="1.55" fill="#b4bedb"/>
<rect x="64.60" y="364.90" width="10.65" height="1.55" fill="#9facd0"/>
<rect x="75.20" y="364.90" width="10.65" height="1.55" fill="#df7b76"/>
<rect x="85.80" y="364.90" width="10.65" height="1.55" fill="#d76361"/>
<rect x="96.40" y="364.90" width="10.65" height="1.55" fill="#cc4145"/>
<rect x="43.40" y="366.40" width="10.65" height="1.55" fill="#aeb9d8"/>
<rect x="54.00" y="366.40" width="10.65" height="1.55" fill="#9daacf"/>
<rect x="64.60" y="366.40" width="10.65" height="1.55" fill="#c3cbe2"/>
<rect x="75.20" y="366.40" width="10.65" height="1.55" fill="#df7d77"/>
<rect x="85.80" y="366.40" width="10.65" height="1.55" fill="#e59189"/>
<rect x="96.40" y="366.40" width="10.65" height="1.55" fill="#e38981"/>
<rect x="43.40" y="367.90" width="10.65" height="3.05" fill="#91a0c9"/>
<rect x="54.00" y="367.90" width="10.65" height="3.05" fill="#acb7d7"/>
<rect x="64.60" y="367.90" width="10.65" height="3.05" fill="#a4b0d3"/>
<rect x="75.20" y="367.90" width="10.65" height="3.05" fill="#dd7772"/>
<rect x="85.80" y="367.90" width="10.65" height="3.05" fill="#e89f96"/>
<rect x="96.40" y="367.90" width="10.65" height="3.05" fill="#e59189"/>
<rect x="43.40" y="370.90" width="10.65" height="2.05" fill="#657ab0"/>
<rect x="54.00" y="370.90" width="10.65" height="2.05" fill="#c5cce3"/>
<rect x="64.60" y="370.90" width="10.65" height="2.05" fill="#cbd1e6"/>
<rect x="75.20" y="370.90" width="10.65" height="2.05" fill="#dc746f"/>
<rect x="85.80" y="370.90" width="10.65" height="2.05" fill="#dc736f"/>
<rect x="96.40" y="370.90" width="10.65" height="2.05" fill="#f2c8be"/>
<rect x="43.40" y="372.90" width="10.65" height="3.05" fill="#8494c1"/>
<rect x="54.00" y="372.90" width="10.65" height="3.05" fill="#e1e3ef"/>
<rect x="64.60" y="372.90" width="10.65" height="3.05" fill="#e3e5ef"/>
<rect x="75.20" y="372.90" width="10.65" height="3.05" fill="#e79a91"/>
<rect x="85.80" y="372.90" width="10.65" height="3.05" fill="#ecaea5"/>
<rect x="96.40" y="372.90" width="10.65" height="3.05" fill="#edb4ab"/>
<rect x="43.40" y="375.90" width="10.65" height="2.05" fill="#6e81b5"/>
<rect x="54.00" y="375.90" width="10.65" height="2.05" fill="#d2d7ea"/>
<rect x="64.60" y="375.90" width="10.65" height="2.05" fill="#c4cbe3"/>
<rect x="75.20" y="375.90" width="10.65" height="2.05" fill="#eeb8af"/>
<rect x="85.80" y="375.90" width="10.65" height="2.05" fill="#e58f87"/>
<rect x="96.40" y="375.90" width="10.65" height="2.05" fill="#ecafa6"/>
<rect x="43.40" y="377.90" width="10.65" height="1.55" fill="#516aa4"/>
<rect x="54.00" y="377.90" width="10.65" height="1.55" fill="#f7f1f0"/>
<rect x="64.60" y="377.90" width="10.65" height="1.55" fill="#abb6d7"/>
<rect x="75.20" y="377.90" width="10.65" height="1.55" fill="#f3cbc1"/>
<rect x="85.80" y="377.90" width="10.65" height="1.55" fill="#e79991"/>
<rect x="96.40" y="377.90" width="10.65" height="1.55" fill="#f2c9bf"/>
<rect x="43.40" y="379.40" width="10.65" height="2.55" fill="#a0acd0"/>
<rect x="54.00" y="379.40" width="10.65" height="2.55" fill="#adb8d7"/>
<rect x="64.60" y="379.40" width="10.65" height="2.55" fill="#dadeed"/>
<rect x="75.20" y="379.40" width="10.65" height="2.55" fill="#f5e1db"/>
<rect x="85.80" y="379.40" width="10.65" height="2.55" fill="#f0beb5"/>
<rect x="96.40" y="379.40" width="10.65" height="2.55" fill="#f0c1b8"/>
<rect x="43.40" y="381.90" width="10.65" height="2.05" fill="#a9b5d6"/>
<rect x="54.00" y="381.90" width="10.65" height="2.05" fill="#bdc6e0"/>
<rect x="64.60" y="381.90" width="10.65" height="2.05" fill="#d0d6e9"/>
<rect x="75.20" y="381.90" width="10.65" height="2.05" fill="#e9eaf1"/>
<rect x="85.80" y="381.90" width="10.65" height="2.05" fill="#e2877f"/>
<rect x="96.40" y="381.90" width="10.65" height="2.05" fill="#eaa59c"/>
<rect x="43.40" y="383.90" width="10.65" height="1.55" fill="#a5b1d3"/>
<rect x="54.00" y="383.90" width="10.65" height="1.55" fill="#c6cde4"/>
<rect x="64.60" y="383.90" width="10.65" height="1.55" fill="#f7f1f0"/>
<rect x="75.20" y="383.90" width="10.65" height="1.55" fill="#f5ddd6"/>
<rect x="85.80" y="383.90" width="10.65" height="1.55" fill="#e58f87"/>
<rect x="96.40" y="383.90" width="10.65" height="1.55" fill="#eba89f"/>
<rect x="43.40" y="385.40" width="10.65" height="2.55" fill="#a9b5d6"/>
<rect x="54.00" y="385.40" width="10.65" height="2.55" fill="#dcdfed"/>
<rect x="64.60" y="385.40" width="10.65" height="2.55" fill="#aeb9d8"/>
<rect x="75.20" y="385.40" width="10.65" height="2.55" fill="#f4f2f3"/>
<rect x="85.80" y="385.40" width="10.65" height="2.55" fill="#d76462"/>
<rect x="96.40" y="385.40" width="10.65" height="2.55" fill="#eeb6ad"/>
<rect x="43.40" y="387.90" width="10.65" height="2.05" fill="#f0eff2"/>
<rect x="54.00" y="387.90" width="10.65" height="2.05" fill="#f7f3f2"/>
<rect x="64.60" y="387.90" width="10.65" height="2.05" fill="#aab6d6"/>
<rect x="75.20" y="387.90" width="10.65" height="2.05" fill="#f6ebe8"/>
<rect x="85.80" y="387.90" width="10.65" height="2.05" fill="#ce484a"/>
<rect x="96.40" y="387.90" width="10.65" height="2.05" fill="#f4f2f3"/>
<rect x="43.40" y="389.90" width="10.65" height="1.55" fill="#f7f1f0"/>
<rect x="54.00" y="389.90" width="10.65" height="1.55" fill="#f4d1c8"/>
<rect x="64.60" y="389.90" width="10.65" height="1.55" fill="#a6b2d4"/>
<rect x="75.20" y="389.90" width="10.65" height="1.55" fill="#f4f2f3"/>
<rect x="85.80" y="389.90" width="10.65" height="1.55" fill="#c93b40"/>
<rect x="96.40" y="389.90" width="10.65" height="1.55" fill="#f4f2f3"/>
<rect x="43.40" y="391.40" width="10.65" height="1.55" fill="#f7f1f0"/>
<rect x="54.00" y="391.40" width="10.65" height="1.55" fill="#e4e5ef"/>
<rect x="64.60" y="391.40" width="10.65" height="1.55" fill="#8b9ac5"/>
<rect x="75.20" y="391.40" width="10.65" height="1.55" fill="#f5dad3"/>
<rect x="85.80" y="391.40" width="10.65" height="1.55" fill="#c2313a"/>
<rect x="96.40" y="391.40" width="10.65" height="1.55" fill="#f4f2f3"/>
<rect x="43.40" y="392.90" width="10.65" height="1.05" fill="#b8c1dd"/>
<rect x="54.00" y="392.90" width="10.65" height="1.05" fill="#a7b3d5"/>
<rect x="64.60" y="392.90" width="10.65" height="1.05" fill="#8797c3"/>
<rect x="75.20" y="392.90" width="10.65" height="1.05" fill="#f6e5e1"/>
<rect x="85.80" y="392.90" width="10.65" height="1.05" fill="#c4343c"/>
<rect x="96.40" y="392.90" width="10.65" height="1.05" fill="#f5d7cf"/>
<rect x="43.40" y="393.90" width="10.65" height="1.55" fill="#9ca9ce"/>
<rect x="54.00" y="393.90" width="10.65" height="1.55" fill="#98a6cc"/>
<rect x="64.60" y="393.90" width="10.65" height="1.55" fill="#c7cee4"/>
<rect x="75.20" y="393.90" width="10.65" height="1.55" fill="#f6e9e6"/>
<rect x="85.80" y="393.90" width="10.65" height="1.55" fill="#be2b37"/>
<rect x="96.40" y="393.90" width="10.65" height="1.55" fill="#eeeef2"/>
<rect x="43.40" y="395.40" width="10.65" height="1.55" fill="#8898c3"/>
<rect x="54.00" y="395.40" width="10.65" height="1.55" fill="#516aa4"/>
<rect x="64.60" y="395.40" width="10.65" height="1.55" fill="#ced4e8"/>
<rect x="75.20" y="395.40" width="10.65" height="1.55" fill="#f5d9d2"/>
<rect x="85.80" y="395.40" width="10.65" height="1.55" fill="#d76361"/>
<rect x="96.40" y="395.40" width="10.65" height="1.55" fill="#f3cbc1"/>
<rect x="43.40" y="396.90" width="10.65" height="1.55" fill="#9eabcf"/>
<rect x="54.00" y="396.90" width="10.65" height="1.55" fill="#7385b8"/>
<rect x="64.60" y="396.90" width="10.65" height="1.55" fill="#ececf1"/>
<rect x="75.20" y="396.90" width="10.65" height="1.55" fill="#f0c0b7"/>
<rect x="85.80" y="396.90" width="10.65" height="1.55" fill="#ca3d41"/>
<rect x="96.40" y="396.90" width="10.65" height="1.55" fill="#f6e9e7"/>
<rect x="43.40" y="398.40" width="10.65" height="2.55" fill="#a8b4d5"/>
<rect x="54.00" y="398.40" width="10.65" height="2.55" fill="#7688b9"/>
<rect x="64.60" y="398.40" width="10.65" height="2.55" fill="#eeedf2"/>
<rect x="75.20" y="398.40" width="10.65" height="2.55" fill="#f6e9e6"/>
<rect x="85.80" y="398.40" width="10.65" height="2.55" fill="#c6373e"/>
<rect x="96.40" y="398.40" width="10.65" height="2.55" fill="#f4f2f3"/>
<rect x="43.40" y="400.90" width="10.65" height="1.55" fill="#aeb9d8"/>
<rect x="54.00" y="400.90" width="10.65" height="1.55" fill="#6d80b4"/>
<rect x="64.60" y="400.90" width="10.65" height="1.55" fill="#e1e3ef"/>
<rect x="75.20" y="400.90" width="10.65" height="1.55" fill="#f4f2f3"/>
<rect x="85.80" y="400.90" width="10.65" height="1.55" fill="#e38880"/>
<rect x="96.40" y="400.90" width="10.65" height="1.55" fill="#edb1a8"/>
<rect x="43.40" y="402.40" width="10.65" height="1.05" fill="#7b8dbc"/>
<rect x="54.00" y="402.40" width="10.65" height="1.05" fill="#7184b7"/>
<rect x="64.60" y="402.40" width="10.65" height="1.05" fill="#f7f1f0"/>
<rect x="75.20" y="402.40" width="10.65" height="1.05" fill="#f4f2f3"/>
<rect x="85.80" y="402.40" width="10.65" height="1.05" fill="#e9a299"/>
<rect x="96.40" y="402.40" width="10.65" height="1.05" fill="#e38a82"/>
<rect x="43.40" y="403.40" width="10.65" height="2.05" fill="#5069a3"/>
<rect x="54.00" y="403.40" width="10.65" height="2.05" fill="#5069a3"/>
<rect x="64.60" y="403.40" width="10.65" height="2.05" fill="#dadeed"/>
<rect x="75.20" y="403.40" width="10.65" height="2.05" fill="#f6e4e0"/>
<rect x="85.80" y="403.40" width="10.65" height="2.05" fill="#e48d85"/>
<rect x="96.40" y="403.40" width="10.65" height="2.05" fill="#f0bdb4"/>
<rect x="43.40" y="405.40" width="10.65" height="3.05" fill="#7083b6"/>
<rect x="54.00" y="405.40" width="10.65" height="3.05" fill="#7386b8"/>
<rect x="64.60" y="405.40" width="10.65" height="3.05" fill="#d1d6e9"/>
<rect x="75.20" y="405.40" width="10.65" height="3.05" fill="#ebaca3"/>
<rect x="85.80" y="405.40" width="10.65" height="3.05" fill="#e48c84"/>
<rect x="96.40" y="405.40" width="10.65" height="3.05" fill="#efb9b0"/>
<rect x="43.40" y="408.40" width="10.65" height="2.05" fill="#7d8ebd"/>
<rect x="54.00" y="408.40" width="10.65" height="2.05" fill="#7688b9"/>
<rect x="64.60" y="408.40" width="10.65" height="2.05" fill="#acb7d7"/>
<rect x="75.20" y="408.40" width="10.65" height="2.05" fill="#ebaca3"/>
<rect x="85.80" y="408.40" width="10.65" height="2.05" fill="#eaa69d"/>
<rect x="96.40" y="408.40" width="10.65" height="2.05" fill="#f4f2f3"/>
<rect x="43.40" y="410.40" width="10.65" height="1.55" fill="#909ec8"/>
<rect x="54.00" y="410.40" width="10.65" height="1.55" fill="#9eabd0"/>
<rect x="64.60" y="410.40" width="10.65" height="1.55" fill="#acb7d7"/>
<rect x="75.20" y="410.40" width="10.65" height="1.55" fill="#eeb5ac"/>
<rect x="85.80" y="410.40" width="10.65" height="1.55" fill="#f5ded7"/>
<rect x="96.40" y="410.40" width="10.65" height="1.55" fill="#f5dcd5"/>
<rect x="43.40" y="411.90" width="10.65" height="1.55" fill="#abb6d6"/>
<rect x="54.00" y="411.90" width="10.65" height="1.55" fill="#b9c2de"/>
<rect x="64.60" y="411.90" width="10.65" height="1.55" fill="#ccd3e7"/>
<rect x="75.20" y="411.90" width="10.65" height="1.55" fill="#f1c1b8"/>
<rect x="85.80" y="411.90" width="10.65" height="1.55" fill="#f3cdc3"/>
<rect x="96.40" y="411.90" width="10.65" height="1.55" fill="#f1c3b9"/>
<rect x="43.40" y="413.40" width="10.65" height="1.55" fill="#aab5d6"/>
<rect x="54.00" y="413.40" width="10.65" height="1.55" fill="#8b9bc5"/>
<rect x="64.60" y="413.40" width="10.65" height="1.55" fill="#dadeed"/>
<rect x="75.20" y="413.40" width="10.65" height="1.55" fill="#eaa79f"/>
<rect x="85.80" y="413.40" width="10.65" height="1.55" fill="#e9a299"/>
<rect x="96.40" y="413.40" width="10.65" height="1.55" fill="#f3ccc2"/>
<rect x="43.40" y="414.90" width="10.65" height="1.05" fill="#b4bedb"/>
<rect x="54.00" y="414.90" width="10.65" height="1.05" fill="#bfc8e1"/>
<rect x="64.60" y="414.90" width="10.65" height="1.05" fill="#f0eef2"/>
<rect x="75.20" y="414.90" width="10.65" height="1.05" fill="#e79991"/>
<rect x="85.80" y="414.90" width="10.65" height="1.05" fill="#e07f79"/>
<rect x="96.40" y="414.90" width="10.65" height="1.05" fill="#f4f2f3"/>
<rect x="43.40" y="415.90" width="10.65" height="1.55" fill="#cdd3e7"/>
<rect x="54.00" y="415.90" width="10.65" height="1.55" fill="#8596c2"/>
<rect x="64.60" y="415.90" width="10.65" height="1.55" fill="#c3cbe2"/>
<rect x="75.20" y="415.90" width="10.65" height="1.55" fill="#f4d0c7"/>
<rect x="85.80" y="415.90" width="10.65" height="1.55" fill="#e48b83"/>
<rect x="96.40" y="415.90" width="10.65" height="1.55" fill="#eba9a0"/>
<rect x="43.40" y="417.40" width="10.65" height="2.05" fill="#cfd5e8"/>
<rect x="54.00" y="417.40" width="10.65" height="2.05" fill="#7c8ebd"/>
<rect x="64.60" y="417.40" width="10.65" height="2.05" fill="#a9b4d5"/>
<rect x="75.20" y="417.40" width="10.65" height="2.05" fill="#f4f2f3"/>
<rect x="85.80" y="417.40" width="10.65" height="2.05" fill="#dc7470"/>
<rect x="96.40" y="417.40" width="10.65" height="2.05" fill="#f5d7ce"/>
<rect x="43.40" y="419.40" width="10.65" height="2.05" fill="#bec6e0"/>
<rect x="54.00" y="419.40" width="10.65" height="2.05" fill="#8494c1"/>
<rect x="64.60" y="419.40" width="10.65" height="2.05" fill="#7c8dbc"/>
<rect x="75.20" y="419.40" width="10.65" height="2.05" fill="#f4f2f3"/>
<rect x="85.80" y="419.40" width="10.65" height="2.05" fill="#eaa49b"/>
<rect x="96.40" y="419.40" width="10.65" height="2.05" fill="#f6e8e5"/>
<rect x="43.40" y="421.40" width="10.65" height="1.55" fill="#b9c3de"/>
<rect x="54.00" y="421.40" width="10.65" height="1.55" fill="#8c9cc6"/>
<rect x="64.60" y="421.40" width="10.65" height="1.55" fill="#b8c2dd"/>
<rect x="75.20" y="421.40" width="10.65" height="1.55" fill="#e7978f"/>
<rect x="85.80" y="421.40" width="10.65" height="1.55" fill="#e89f96"/>
<rect x="96.40" y="421.40" width="10.65" height="1.55" fill="#f7efed"/>
<rect x="43.40" y="422.90" width="10.65" height="2.05" fill="#a3b0d2"/>
<rect x="54.00" y="422.90" width="10.65" height="2.05" fill="#a8b4d5"/>
<rect x="64.60" y="422.90" width="10.65" height="2.05" fill="#8999c4"/>
<rect x="75.20" y="422.90" width="10.65" height="2.05" fill="#cb3d42"/>
<rect x="85.80" y="422.90" width="10.65" height="2.05" fill="#f0c0b6"/>
<rect x="96.40" y="422.90" width="10.65" height="2.05" fill="#e89e96"/>
<rect x="43.40" y="424.90" width="10.65" height="2.05" fill="#95a3cb"/>
<rect x="54.00" y="424.90" width="10.65" height="2.05" fill="#c0c9e1"/>
<rect x="64.60" y="424.90" width="10.65" height="2.05" fill="#b8c1dd"/>
<rect x="75.20" y="424.90" width="10.65" height="2.05" fill="#e48c84"/>
<rect x="85.80" y="424.90" width="10.65" height="2.05" fill="#dd7772"/>
<rect x="96.40" y="424.90" width="10.65" height="2.05" fill="#e2867f"/>
<rect x="43.40" y="426.90" width="10.65" height="1.25" fill="#5971a8"/>
<rect x="54.00" y="426.90" width="10.65" height="1.25" fill="#e6e7f0"/>
<rect x="64.60" y="426.90" width="10.65" height="1.25" fill="#a2afd2"/>
<rect x="75.20" y="426.90" width="10.65" height="1.25" fill="#ebaba2"/>
<rect x="85.80" y="426.90" width="10.65" height="1.25" fill="#dc726e"/>
<rect x="96.40" y="426.90" width="10.65" height="1.25" fill="#dd7570"/>
<rect x="64.60" y="100.00" width="10.65" height="6.00" fill="#b0162a"/>
<rect x="54.00" y="78.00" width="10.65" height="4.00" fill="#bc2835"/>
<rect x="85.80" y="188.00" width="10.65" height="12.00" fill="#b31a2d"/>
<rect x="85.80" y="203.00" width="10.65" height="6.00" fill="#bc2835"/>
<rect x="75.20" y="340.00" width="10.65" height="12.00" fill="#b61f2f"/>
<rect x="75.20" y="355.00" width="10.65" height="5.00" fill="#bc2835"/>
<rect x="96.40" y="272.00" width="10.65" height="13.00" fill="#bc2835"/>
</g></g>
<line x1="48.70" y1="50.30" x2="48.70" y2="58.80" stroke="#111" stroke-width="1.3"/>
<line x1="59.30" y1="51.30" x2="59.30" y2="58.80" stroke="#111" stroke-width="1.3"/>
<line x1="69.90" y1="51.30" x2="69.90" y2="58.80" stroke="#111" stroke-width="1.3"/>
<line x1="58.70" y1="51.30" x2="70.50" y2="51.30" stroke="#111" stroke-width="1.3"/>
<line x1="64.60" y1="50.30" x2="64.60" y2="51.30" stroke="#111" stroke-width="1.3"/>
<line x1="48.10" y1="50.30" x2="65.20" y2="50.30" stroke="#111" stroke-width="1.3"/>
<line x1="80.50" y1="50.30" x2="80.50" y2="58.80" stroke="#111" stroke-width="1.3"/>
<line x1="91.10" y1="51.30" x2="91.10" y2="58.80" stroke="#111" stroke-width="1.3"/>
<line x1="101.70" y1="51.30" x2="101.70" y2="58.80" stroke="#111" stroke-width="1.3"/>
<line x1="90.50" y1="51.30" x2="102.30" y2="51.30" stroke="#111" stroke-width="1.3"/>
<line x1="96.40" y1="50.30" x2="96.40" y2="51.30" stroke="#111" stroke-width="1.3"/>
<line x1="79.90" y1="50.30" x2="97.00" y2="50.30" stroke="#111" stroke-width="1.3"/>
<line x1="56.65" y1="31.80" x2="56.65" y2="50.30" stroke="#111" stroke-width="1.3"/>
<line x1="88.45" y1="31.80" x2="88.45" y2="50.30" stroke="#111" stroke-width="1.3"/>
<line x1="56.05" y1="31.80" x2="89.05" y2="31.80" stroke="#111" stroke-width="1.3"/>
<g stroke="#111" stroke-width="1.2" fill="none" stroke-linecap="square">
<path d="M42.7 60.8H39.1 M42.7 61.6H39.1 M39.1 60.8V61.6 M42.7 62.3H38.7 M42.7 63.1H38.7 M38.7 62.3V63.1 M39.1 61.2H36.3 M38.7 62.7H36.3 M36.3 61.2V62.7 M42.7 66.0H39.0 M42.7 66.7H39.0 M39.0 66.0V66.7 M42.7 65.4H38.5 M39.0 66.4H38.5 M38.5 65.4V66.4 M42.7 64.7H36.4 M38.5 65.9H36.4 M36.4 64.7V65.9 M42.7 63.9H35.6 M36.4 65.3H35.6 M35.6 63.9V65.3 M36.3 62.0H34.2 M35.6 64.6H34.2 M34.2 62.0V64.6 M42.7 67.4H39.0 M42.7 68.2H39.0 M39.0 67.4V68.2 M34.2 63.3H33.7 M39.0 67.8H33.7 M33.7 63.3V67.8 M42.7 70.8H39.1 M42.7 71.5H39.1 M39.1 70.8V71.5 M42.7 70.4H38.0 M39.1 71.2H38.0 M38.0 70.4V71.2 M42.7 69.6H36.4 M38.0 70.8H36.4 M36.4 69.6V70.8 M42.7 68.9H35.9 M36.4 70.2H35.9 M35.9 68.9V70.2 M42.7 72.6H37.9 M42.7 73.6H37.9 M37.9 72.6V73.6 M42.7 74.4H39.5 M42.7 75.1H39.5 M39.5 74.4V75.1 M37.9 73.1H35.7 M39.5 74.7H35.7 M35.7 73.1V74.7 M35.9 69.5H33.2 M35.7 73.9H33.2 M33.2 69.5V73.9 M33.7 65.5H31.1 M33.2 71.7H31.1 M31.1 65.5V71.7 M42.7 78.6H39.1 M42.7 79.3H39.1 M39.1 78.6V79.3 M42.7 77.9H37.9 M39.1 78.9H37.9 M37.9 77.9V78.9 M42.7 77.2H37.2 M37.9 78.4H37.2 M37.2 77.2V78.4 M42.7 76.1H35.0 M37.2 77.8H35.0 M35.0 76.1V77.8 M42.7 80.8H39.3 M42.7 81.5H39.3 M39.3 80.8V81.5 M42.7 82.9H38.8 M42.7 83.6H38.8 M38.8 82.9V83.6 M42.7 82.2H36.8 M38.8 83.3H36.8 M36.8 82.2V83.3 M36.8 82.7H36.3 M42.7 84.5H36.3 M36.3 82.7V84.5 M39.3 81.2H35.8 M36.3 83.6H35.8 M35.8 81.2V83.6 M42.7 79.9H35.3 M35.8 82.4H35.3 M35.3 79.9V82.4 M42.7 85.2H39.4 M42.7 86.0H39.4 M39.4 85.2V86.0 M39.4 85.6H38.7 M42.7 86.4H38.7 M38.7 85.6V86.4 M35.3 81.1H34.8 M38.7 86.0H34.8 M34.8 81.1V86.0 M35.0 76.9H34.2 M34.8 83.6H34.2 M34.2 76.9V83.6 M42.7 88.1H38.9 M42.7 88.9H38.9 M38.9 88.1V88.9 M42.7 89.9H39.4 M42.7 90.6H39.4 M39.4 89.9V90.6 M38.9 88.5H36.5 M39.4 90.2H36.5 M36.5 88.5V90.2 M42.7 87.1H36.0 M36.5 89.4H36.0 M36.0 87.1V89.4 M42.7 91.2H38.8 M42.7 92.1H38.8 M38.8 91.2V92.1 M36.0 88.2H35.3 M38.8 91.7H35.3 M35.3 88.2V91.7 M34.2 80.2H30.3 M35.3 89.9H30.3 M30.3 80.2V89.9 M31.1 68.6H28.8 M30.3 85.1H28.8 M28.8 68.6V85.1 M42.7 92.8H38.3 M42.7 93.5H38.3 M38.3 92.8V93.5 M38.3 93.1H37.8 M42.7 94.6H37.8 M37.8 93.1V94.6 M37.8 93.9H36.9 M42.7 95.5H36.9 M36.9 93.9V95.5 M42.7 97.5H38.7 M42.7 98.5H38.7 M38.7 97.5V98.5 M42.7 96.6H37.4 M38.7 98.0H37.4 M37.4 96.6V98.0 M42.7 99.5H39.4 M42.7 100.2H39.4 M39.4 99.5V100.2 M37.4 97.3H35.4 M39.4 99.8H35.4 M35.4 97.3V99.8 M36.9 94.7H34.3 M35.4 98.5H34.3 M34.3 94.7V98.5 M42.7 100.7H39.4 M42.7 101.4H39.4 M39.4 100.7V101.4 M39.4 101.1H37.6 M42.7 102.2H37.6 M37.6 101.1V102.2 M42.7 103.0H39.1 M42.7 103.8H39.1 M39.1 103.0V103.8 M37.6 101.6H37.0 M39.1 103.4H37.0 M37.0 101.6V103.4 M42.7 105.1H38.7 M42.7 105.8H38.7 M38.7 105.1V105.8 M42.7 104.3H37.9 M38.7 105.5H37.9 M37.9 104.3V105.5 M37.9 104.9H37.4 M42.7 106.2H37.4 M37.4 104.9V106.2 M37.4 105.5H36.9 M42.7 107.0H36.9 M36.9 105.5V107.0 M37.0 102.5H35.4 M36.9 106.3H35.4 M35.4 102.5V106.3 M42.7 108.3H39.1 M42.7 109.0H39.1 M39.1 108.3V109.0 M35.4 104.4H33.2 M39.1 108.7H33.2 M33.2 104.4V108.7 M42.7 109.4H39.5 M42.7 110.1H39.5 M39.5 109.4V110.1 M39.5 109.8H37.2 M42.7 111.0H37.2 M37.2 109.8V111.0 M37.2 110.4H36.7 M42.7 112.0H36.7 M36.7 110.4V112.0 M42.7 113.0H37.5 M42.7 114.0H37.5 M37.5 113.0V114.0 M42.7 115.6H39.7 M42.7 116.3H39.7 M39.7 115.6V116.3 M39.7 116.0H38.7 M42.7 117.0H38.7 M38.7 116.0V117.0 M42.7 115.0H37.3 M38.7 116.5H37.3 M37.3 115.0V116.5 M42.7 117.8H38.9 M42.7 118.5H38.9 M38.9 117.8V118.5 M42.7 117.4H38.1 M38.9 118.1H38.1 M38.1 117.4V118.1 M37.3 115.7H36.3 M38.1 117.8H36.3 M36.3 115.7V117.8 M37.5 113.5H34.8 M36.3 116.7H34.8 M34.8 113.5V116.7 M36.7 111.2H32.3 M34.8 115.1H32.3 M32.3 111.2V115.1 M33.2 106.5H30.0 M32.3 113.2H30.0 M30.0 106.5V113.2 M34.3 96.6H29.5 M30.0 109.8H29.5 M29.5 96.6V109.8 M42.7 121.0H38.7 M42.7 121.8H38.7 M38.7 121.0V121.8 M42.7 120.3H37.9 M38.7 121.4H37.9 M37.9 120.3V121.4 M42.7 120.0H37.4 M37.9 120.8H37.4 M37.4 120.0V120.8 M42.7 119.4H36.8 M37.4 120.4H36.8 M36.8 119.4V120.4 M42.7 122.5H37.4 M42.7 123.6H37.4 M37.4 122.5V123.6 M36.8 119.9H35.7 M37.4 123.0H35.7 M35.7 119.9V123.0 M42.7 125.2H37.8 M42.7 126.1H37.8 M37.8 125.2V126.1 M42.7 124.4H36.8 M37.8 125.6H36.8 M36.8 124.4V125.6 M36.8 125.0H36.3 M42.7 126.8H36.3 M36.3 125.0V126.8 M35.7 121.5H33.5 M36.3 125.9H33.5 M33.5 121.5V125.9 M29.5 103.2H28.6 M33.5 123.7H28.6 M28.6 103.2V123.7 M42.7 127.5H38.4 M42.7 128.3H38.4 M38.4 127.5V128.3 M38.4 127.9H37.9 M42.7 129.0H37.9 M37.9 127.9V129.0 M37.9 128.4H36.6 M42.7 129.7H36.6 M36.6 128.4V129.7 M42.7 131.2H37.7 M42.7 132.1H37.7 M37.7 131.2V132.1 M42.7 130.4H37.1 M37.7 131.6H37.1 M37.1 130.4V131.6 M42.7 133.0H38.7 M42.7 133.8H38.7 M38.7 133.0V133.8 M37.1 131.0H35.6 M38.7 133.4H35.6 M35.6 131.0V133.4 M36.6 129.1H34.1 M35.6 132.2H34.1 M34.1 129.1V132.2 M42.7 134.6H37.2 M42.7 135.7H37.2 M37.2 134.6V135.7 M34.1 130.6H33.6 M37.2 135.2H33.6 M33.6 130.6V135.2 M42.7 137.1H39.0 M42.7 137.8H39.0 M39.0 137.1V137.8 M42.7 136.5H38.5 M39.0 137.4H38.5 M38.5 136.5V137.4 M38.5 137.0H36.9 M42.7 138.5H36.9 M36.9 137.0V138.5 M33.6 132.9H32.8 M36.9 137.8H32.8 M32.8 132.9V137.8 M42.7 140.7H38.1 M42.7 141.6H38.1 M38.1 140.7V141.6 M42.7 140.2H37.6 M38.1 141.2H37.6 M37.6 140.2V141.2 M42.7 139.5H37.1 M37.6 140.7H37.1 M37.1 139.5V140.7 M37.1 140.1H35.2 M42.7 142.6H35.2 M35.2 140.1V142.6 M42.7 143.4H37.8 M42.7 144.3H37.8 M37.8 143.4V144.3 M37.8 143.9H37.2 M42.7 145.4H37.2 M37.2 143.9V145.4 M35.2 141.4H34.0 M37.2 144.7H34.0 M34.0 141.4V144.7 M32.8 135.3H32.3 M34.0 143.0H32.3 M32.3 135.3V143.0 M42.7 146.2H39.6 M42.7 146.9H39.6 M39.6 146.2V146.9 M39.6 146.6H37.6 M42.7 147.8H37.6 M37.6 146.6V147.8 M42.7 148.9H37.8 M42.7 149.8H37.8 M37.8 148.9V149.8 M37.8 149.4H37.3 M42.7 150.4H37.3 M37.3 149.4V150.4 M37.3 149.9H36.8 M42.7 151.2H36.8 M36.8 149.9V151.2 M37.6 147.2H35.1 M36.8 150.5H35.1 M35.1 147.2V150.5 M42.7 151.9H38.8 M42.7 152.8H38.8 M38.8 151.9V152.8 M35.1 148.9H34.4 M38.8 152.3H34.4 M34.4 148.9V152.3 M42.7 153.9H38.1 M42.7 154.9H38.1 M38.1 153.9V154.9 M34.4 150.6H33.9 M38.1 154.4H33.9 M33.9 150.6V154.4 M42.7 155.8H38.3 M42.7 157.0H38.3 M38.3 155.8V157.0 M38.3 156.4H37.8 M42.7 157.8H37.8 M37.8 156.4V157.8 M37.8 157.1H35.5 M42.7 158.5H35.5 M35.5 157.1V158.5 M33.9 152.5H33.4 M35.5 157.8H33.4 M33.4 152.5V157.8 M42.7 159.1H39.4 M42.7 159.9H39.4 M39.4 159.1V159.9 M39.4 159.5H38.0 M42.7 160.8H38.0 M38.0 159.5V160.8 M42.7 162.5H39.4 M42.7 163.3H39.4 M39.4 162.5V163.3 M42.7 162.0H37.6 M39.4 162.9H37.6 M37.6 162.0V162.9 M37.6 162.5H37.0 M42.7 164.2H37.0 M37.0 162.5V164.2 M42.7 161.4H36.1 M37.0 163.3H36.1 M36.1 161.4V163.3 M38.0 160.1H34.7 M36.1 162.4H34.7 M34.7 160.1V162.4 M42.7 164.9H38.5 M42.7 165.7H38.5 M38.5 164.9V165.7 M38.5 165.3H37.7 M42.7 166.8H37.7 M37.7 165.3V166.8 M37.7 166.1H37.2 M42.7 167.6H37.2 M37.2 166.1V167.6 M42.7 168.2H39.1 M42.7 168.9H39.1 M39.1 168.2V168.9 M37.2 166.8H36.2 M39.1 168.6H36.2 M36.2 166.8V168.6 M34.7 161.2H33.8 M36.2 167.7H33.8 M33.8 161.2V167.7 M42.7 169.6H39.0 M42.7 170.3H39.0 M39.0 169.6V170.3 M39.0 169.9H37.4 M42.7 171.0H37.4 M37.4 169.9V171.0 M42.7 171.9H38.5 M42.7 172.7H38.5 M38.5 171.9V172.7 M42.7 173.9H38.6 M42.7 174.7H38.6 M38.6 173.9V174.7 M42.7 173.1H38.1 M38.6 174.3H38.1 M38.1 173.1V174.3 M38.5 172.3H36.6 M38.1 173.7H36.6 M36.6 172.3V173.7 M37.4 170.5H34.7 M36.6 173.0H34.7 M34.7 170.5V173.0 M33.8 164.5H30.7 M34.7 171.7H30.7 M30.7 164.5V171.7 M33.4 155.2H30.2 M30.7 168.1H30.2 M30.2 155.2V168.1 M32.3 139.2H28.4 M30.2 161.6H28.4 M28.4 139.2V161.6 M42.7 175.1H38.4 M42.7 175.9H38.4 M38.4 175.1V175.9 M38.4 175.5H36.7 M42.7 177.0H36.7 M36.7 175.5V177.0 M42.7 178.0H38.8 M42.7 178.9H38.8 M38.8 178.0V178.9 M38.8 178.5H36.3 M42.7 179.8H36.3 M36.3 178.5V179.8 M36.7 176.2H34.0 M36.3 179.1H34.0 M34.0 176.2V179.1 M34.0 177.7H33.3 M42.7 181.0H33.3 M33.3 177.7V181.0 M42.7 182.2H39.1 M42.7 183.0H39.1 M39.1 182.2V183.0 M42.7 183.7H38.8 M42.7 184.4H38.8 M38.8 183.7V184.4 M39.1 182.6H37.3 M38.8 184.1H37.3 M37.3 182.6V184.1 M33.3 179.4H32.8 M37.3 183.3H32.8 M32.8 179.4V183.3 M42.7 184.9H38.9 M42.7 185.6H38.9 M38.9 184.9V185.6 M42.7 186.3H39.2 M42.7 187.1H39.2 M39.2 186.3V187.1 M38.9 185.2H36.4 M39.2 186.7H36.4 M36.4 185.2V186.7 M32.8 181.3H32.3 M36.4 186.0H32.3 M32.3 181.3V186.0 M28.4 150.4H26.8 M32.3 183.7H26.8 M26.8 150.4V183.7 M28.6 113.5H26.3 M26.8 167.0H26.3 M26.3 113.5V167.0 M28.8 76.9H25.6 M26.3 140.2H25.6 M25.6 76.9V140.2 M42.7 188.4H38.5 M42.7 189.2H38.5 M38.5 188.4V189.2 M42.7 187.8H37.4 M38.5 188.8H37.4 M37.4 187.8V188.8 M42.7 189.7H39.5 M42.7 190.4H39.5 M39.5 189.7V190.4 M39.5 190.1H38.6 M42.7 191.1H38.6 M38.6 190.1V191.1 M42.7 191.5H38.3 M42.7 192.4H38.3 M38.3 191.5V192.4 M38.6 190.6H36.3 M38.3 191.9H36.3 M36.3 190.6V191.9 M36.3 191.3H35.8 M42.7 193.3H35.8 M35.8 191.3V193.3 M42.7 194.1H38.7 M42.7 195.0H38.7 M38.7 194.1V195.0 M38.7 194.6H37.7 M42.7 195.7H37.7 M37.7 194.6V195.7 M35.8 192.3H33.8 M37.7 195.1H33.8 M33.8 192.3V195.1 M37.4 188.3H32.8 M33.8 193.7H32.8 M32.8 188.3V193.7 M42.7 197.5H38.7 M42.7 198.3H38.7 M38.7 197.5V198.3 M38.7 197.9H38.2 M42.7 198.8H38.2 M38.2 197.9V198.8 M38.2 198.3H37.3 M42.7 199.3H37.3 M37.3 198.3V199.3 M42.7 196.5H36.3 M37.3 198.8H36.3 M36.3 196.5V198.8 M32.8 191.0H32.3 M36.3 197.7H32.3 M32.3 191.0V197.7 M42.7 199.9H38.8 M42.7 200.6H38.8 M38.8 199.9V200.6 M42.7 201.4H39.3 M42.7 202.0H39.3 M39.3 201.4V202.0 M38.8 200.3H36.8 M39.3 201.7H36.8 M36.8 200.3V201.7 M36.8 201.0H36.3 M42.7 202.6H36.3 M36.3 201.0V202.6 M42.7 204.1H39.1 M42.7 204.9H39.1 M39.1 204.1V204.9 M42.7 203.3H37.6 M39.1 204.5H37.6 M37.6 203.3V204.5 M37.6 203.9H36.3 M42.7 205.6H36.3 M36.3 203.9V205.6 M36.3 204.8H35.5 M42.7 206.3H35.5 M35.5 204.8V206.3 M42.7 207.7H38.9 M42.7 208.4H38.9 M38.9 207.7V208.4 M42.7 207.1H37.0 M38.9 208.1H37.0 M37.0 207.1V208.1 M42.7 210.2H38.9 M42.7 211.1H38.9 M38.9 210.2V211.1 M42.7 209.2H37.9 M38.9 210.6H37.9 M37.9 209.2V210.6 M37.0 207.6H36.1 M37.9 209.9H36.1 M36.1 207.6V209.9 M35.5 205.5H33.3 M36.1 208.7H33.3 M33.3 205.5V208.7 M42.7 213.0H39.0 M42.7 213.9H39.0 M39.0 213.0V213.9 M42.7 212.0H36.6 M39.0 213.5H36.6 M36.6 212.0V213.5 M42.7 215.7H38.7 M42.7 216.6H38.7 M38.7 215.7V216.6 M42.7 217.7H38.4 M42.7 218.6H38.4 M38.4 217.7V218.6 M38.7 216.1H36.5 M38.4 218.1H36.5 M36.5 216.1V218.1 M42.7 214.8H35.7 M36.5 217.1H35.7 M35.7 214.8V217.1 M36.6 212.7H34.0 M35.7 216.0H34.0 M34.0 212.7V216.0 M33.3 207.1H32.8 M34.0 214.3H32.8 M32.8 207.1V214.3 M36.3 201.8H32.3 M32.8 210.7H32.3 M32.3 201.8V210.7 M32.3 194.3H29.5 M32.3 206.3H29.5 M29.5 194.3V206.3 M42.7 220.2H38.3 M42.7 221.0H38.3 M38.3 220.2V221.0 M42.7 219.5H37.8 M38.3 220.6H37.8 M37.8 219.5V220.6 M37.8 220.0H35.8 M42.7 221.8H35.8 M35.8 220.0V221.8 M35.8 220.9H35.0 M42.7 222.8H35.0 M35.0 220.9V222.8 M42.7 224.2H38.3 M42.7 225.0H38.3 M38.3 224.2V225.0 M42.7 223.7H37.8 M38.3 224.6H37.8 M37.8 223.7V224.6 M35.0 221.8H34.5 M37.8 224.1H34.5 M34.5 221.8V224.1 M42.7 227.9H39.6 M42.7 228.6H39.6 M39.6 227.9V228.6 M42.7 226.9H37.8 M39.6 228.3H37.8 M37.8 226.9V228.3 M42.7 226.0H36.2 M37.8 227.6H36.2 M36.2 226.0V227.6 M42.7 229.4H38.6 M42.7 230.1H38.6 M38.6 229.4V230.1 M36.2 226.8H35.7 M38.6 229.8H35.7 M35.7 226.8V229.8 M42.7 230.8H37.8 M42.7 231.8H37.8 M37.8 230.8V231.8 M37.8 231.3H37.3 M42.7 232.8H37.3 M37.3 231.3V232.8 M42.7 235.1H38.9 M42.7 235.8H38.9 M38.9 235.1V235.8 M42.7 234.5H38.3 M38.9 235.4H38.3 M38.3 234.5V235.4 M42.7 234.1H37.8 M38.3 235.0H37.8 M37.8 234.1V235.0 M42.7 233.5H37.3 M37.8 234.5H37.3 M37.3 233.5V234.5 M37.3 232.0H35.5 M37.3 234.0H35.5 M35.5 232.0V234.0 M35.7 228.3H32.2 M35.5 233.0H32.2 M32.2 228.3V233.0 M42.7 237.4H38.9 M42.7 238.1H38.9 M38.9 237.4V238.1 M38.9 237.8H38.4 M42.7 238.6H38.4 M38.4 237.8V238.6 M42.7 236.9H37.9 M38.4 238.2H37.9 M37.9 236.9V238.2 M42.7 236.4H37.2 M37.9 237.5H37.2 M37.2 236.4V237.5 M37.2 237.0H36.7 M42.7 239.1H36.7 M36.7 237.0V239.1 M36.7 238.0H35.9 M42.7 239.7H35.9 M35.9 238.0V239.7 M32.2 230.7H31.7 M35.9 238.9H31.7 M31.7 230.7V238.9 M34.5 223.0H30.5 M31.7 234.8H30.5 M30.5 223.0V234.8 M42.7 240.4H38.8 M42.7 241.1H38.8 M38.8 240.4V241.1 M42.7 241.7H39.0 M42.7 242.5H39.0 M39.0 241.7V242.5 M42.7 243.6H38.5 M42.7 244.7H38.5 M38.5 243.6V244.7 M39.0 242.1H35.5 M38.5 244.2H35.5 M35.5 242.1V244.2 M38.8 240.7H34.6 M35.5 243.1H34.6 M34.6 240.7V243.1 M42.7 245.8H37.9 M42.7 246.7H37.9 M37.9 245.8V246.7 M34.6 241.9H34.0 M37.9 246.3H34.0 M34.0 241.9V246.3 M30.5 228.9H30.0 M34.0 244.1H30.0 M30.0 228.9V244.1 M42.7 248.8H37.9 M42.7 249.7H37.9 M37.9 248.8V249.7 M37.9 249.3H37.1 M42.7 250.3H37.1 M37.1 249.3V250.3 M42.7 247.6H36.6 M37.1 249.8H36.6 M36.6 247.6V249.8 M42.7 251.1H38.7 M42.7 251.8H38.7 M38.7 251.1V251.8 M36.6 248.7H35.0 M38.7 251.4H35.0 M35.0 248.7V251.4 M35.0 250.1H34.3 M42.7 252.4H34.3 M34.3 250.1V252.4 M42.7 253.5H39.0 M42.7 254.3H39.0 M39.0 253.5V254.3 M42.7 255.8H39.7 M42.7 256.5H39.7 M39.7 255.8V256.5 M42.7 255.1H37.9 M39.7 256.2H37.9 M37.9 255.1V256.2 M39.0 253.9H35.8 M37.9 255.6H35.8 M35.8 253.9V255.6 M42.7 257.4H38.7 M42.7 258.3H38.7 M38.7 257.4V258.3 M35.8 254.7H33.9 M38.7 257.9H33.9 M33.9 254.7V257.9 M34.3 251.2H32.4 M33.9 256.3H32.4 M32.4 251.2V256.3 M42.7 259.3H37.9 M42.7 260.3H37.9 M37.9 259.3V260.3 M42.7 261.0H38.8 M42.7 261.7H38.8 M38.8 261.0V261.7 M37.9 259.8H36.2 M38.8 261.4H36.2 M36.2 259.8V261.4 M42.7 262.9H38.3 M42.7 263.7H38.3 M38.3 262.9V263.7 M42.7 262.2H37.8 M38.3 263.3H37.8 M37.8 262.2V263.3 M37.8 262.8H37.3 M42.7 264.3H37.3 M37.3 262.8V264.3 M37.3 263.5H36.8 M42.7 265.0H36.8 M36.8 263.5V265.0 M42.7 266.4H39.6 M42.7 267.1H39.6 M39.6 266.4V267.1 M42.7 265.8H38.5 M39.6 266.7H38.5 M38.5 265.8V266.7 M36.8 264.3H34.2 M38.5 266.3H34.2 M34.2 264.3V266.3 M36.2 260.6H33.6 M34.2 265.3H33.6 M33.6 260.6V265.3 M32.4 253.8H31.2 M33.6 262.9H31.2 M31.2 253.8V262.9 M30.0 236.5H26.8 M31.2 258.3H26.8 M26.8 236.5V258.3 M42.7 268.7H39.4 M42.7 269.4H39.4 M39.4 268.7V269.4 M39.4 269.0H36.6 M42.7 270.2H36.6 M36.6 269.0V270.2 M42.7 267.8H36.1 M36.6 269.6H36.1 M36.1 267.8V269.6 M36.1 268.7H35.6 M42.7 271.4H35.6 M35.6 268.7V271.4 M42.7 273.4H37.5 M42.7 274.6H37.5 M37.5 273.4V274.6 M42.7 272.5H37.0 M37.5 274.0H37.0 M37.0 272.5V274.0 M35.6 270.1H33.0 M37.0 273.2H33.0 M33.0 270.1V273.2 M42.7 275.4H39.1 M42.7 276.1H39.1 M39.1 275.4V276.1 M33.0 271.6H32.5 M39.1 275.8H32.5 M32.5 271.6V275.8 M42.7 278.2H38.0 M42.7 279.2H38.0 M38.0 278.2V279.2 M42.7 277.1H37.2 M38.0 278.7H37.2 M37.2 277.1V278.7 M42.7 281.1H39.3 M42.7 281.9H39.3 M39.3 281.1V281.9 M42.7 280.7H38.7 M39.3 281.5H38.7 M38.7 280.7V281.5 M42.7 280.1H36.5 M38.7 281.1H36.5 M36.5 280.1V281.1 M42.7 282.8H38.3 M42.7 283.6H38.3 M38.3 282.8V283.6 M36.5 280.6H35.2 M38.3 283.2H35.2 M35.2 280.6V283.2 M37.2 277.9H34.7 M35.2 281.9H34.7 M34.7 277.9V281.9 M32.5 273.7H30.3 M34.7 279.9H30.3 M30.3 273.7V279.9 M26.8 247.4H25.9 M30.3 276.8H25.9 M25.9 247.4V276.8 M42.7 284.3H38.5 M42.7 285.1H38.5 M38.5 284.3V285.1 M38.5 284.7H37.3 M42.7 285.9H37.3 M37.3 284.7V285.9 M42.7 286.4H38.5 M42.7 287.1H38.5 M38.5 286.4V287.1 M38.5 286.8H37.3 M42.7 287.9H37.3 M37.3 286.8V287.9 M37.3 285.3H35.6 M37.3 287.3H35.6 M35.6 285.3V287.3 M42.7 290.0H38.0 M42.7 291.2H38.0 M38.0 290.0V291.2 M42.7 292.5H39.6 M42.7 293.1H39.6 M39.6 292.5V293.1 M42.7 291.9H38.7 M39.6 292.8H38.7 M38.7 291.9V292.8 M38.0 290.6H35.7 M38.7 292.4H35.7 M35.7 290.6V292.4 M42.7 288.9H35.2 M35.7 291.5H35.2 M35.2 288.9V291.5 M35.6 286.3H34.1 M35.2 290.2H34.1 M34.1 286.3V290.2 M42.7 293.8H38.7 M42.7 294.5H38.7 M38.7 293.8V294.5 M38.7 294.1H37.2 M42.7 295.5H37.2 M37.2 294.1V295.5 M34.1 288.2H31.4 M37.2 294.8H31.4 M31.4 288.2V294.8 M42.7 296.6H38.8 M42.7 297.3H38.8 M38.8 296.6V297.3 M38.8 296.9H38.3 M42.7 297.7H38.3 M38.3 296.9V297.7 M42.7 298.3H39.1 M42.7 299.0H39.1 M39.1 298.3V299.0 M39.1 298.6H37.6 M42.7 299.7H37.6 M37.6 298.6V299.7 M42.7 302.1H38.7 M42.7 302.8H38.7 M38.7 302.1V302.8 M42.7 301.2H37.5 M38.7 302.5H37.5 M37.5 301.2V302.5 M42.7 300.5H37.0 M37.5 301.8H37.0 M37.0 300.5V301.8 M42.7 303.0H39.4 M42.7 303.7H39.4 M39.4 303.0V303.7 M37.0 301.2H36.0 M39.4 303.4H36.0 M36.0 301.2V303.4 M37.6 299.2H34.4 M36.0 302.3H34.4 M34.4 299.2V302.3 M38.3 297.3H33.9 M34.4 300.7H33.9 M33.9 297.3V300.7 M42.7 305.1H38.9 M42.7 305.9H38.9 M38.9 305.1V305.9 M42.7 304.5H38.1 M38.9 305.5H38.1 M38.1 304.5V305.5 M42.7 306.4H39.1 M42.7 307.1H39.1 M39.1 306.4V307.1 M42.7 308.2H38.3 M42.7 309.0H38.3 M38.3 308.2V309.0 M39.1 306.7H37.5 M38.3 308.6H37.5 M37.5 306.7V308.6 M42.7 310.7H39.4 M42.7 311.4H39.4 M39.4 310.7V311.4 M39.4 311.1H37.6 M42.7 312.2H37.6 M37.6 311.1V312.2 M37.6 311.6H36.9 M42.7 313.1H36.9 M36.9 311.6V313.1 M42.7 309.7H35.1 M36.9 312.4H35.1 M35.1 309.7V312.4 M37.5 307.6H34.5 M35.1 311.1H34.5 M34.5 307.6V311.1 M38.1 305.0H33.1 M34.5 309.4H33.1 M33.1 305.0V309.4 M42.7 314.1H38.6 M42.7 314.8H38.6 M38.6 314.1V314.8 M38.6 314.5H37.3 M42.7 315.7H37.3 M37.3 314.5V315.7 M42.7 317.2H39.6 M42.7 317.9H39.6 M39.6 317.2V317.9 M42.7 316.5H38.9 M39.6 317.5H38.9 M38.9 316.5V317.5 M42.7 318.4H38.9 M42.7 319.1H38.9 M38.9 318.4V319.1 M38.9 318.8H37.6 M42.7 320.1H37.6 M37.6 318.8V320.1 M38.9 317.0H35.2 M37.6 319.4H35.2 M35.2 317.0V319.4 M37.3 315.1H34.7 M35.2 318.2H34.7 M34.7 315.1V318.2 M42.7 320.8H39.1 M42.7 321.5H39.1 M39.1 320.8V321.5 M34.7 316.6H34.2 M39.1 321.2H34.2 M34.2 316.6V321.2 M33.1 307.2H32.2 M34.2 318.9H32.2 M32.2 307.2V318.9 M33.9 299.0H29.7 M32.2 313.0H29.7 M29.7 299.0V313.0 M42.7 324.0H39.4 M42.7 324.6H39.4 M39.4 324.0V324.6 M42.7 323.1H38.3 M39.4 324.3H38.3 M38.3 323.1V324.3 M42.7 322.3H36.6 M38.3 323.7H36.6 M36.6 322.3V323.7 M42.7 325.2H38.5 M42.7 326.0H38.5 M38.5 325.2V326.0 M38.5 325.6H38.0 M42.7 326.6H38.0 M38.0 325.6V326.6 M38.0 326.1H37.5 M42.7 327.0H37.5 M37.5 326.1V327.0 M37.5 326.5H37.0 M42.7 327.5H37.0 M37.0 326.5V327.5 M42.7 328.1H39.0 M42.7 328.9H39.0 M39.0 328.1V328.9 M39.0 328.5H38.3 M42.7 329.6H38.3 M38.3 328.5V329.6 M38.3 329.0H37.6 M42.7 330.1H37.6 M37.6 329.0V330.1 M37.0 327.0H35.3 M37.6 329.5H35.3 M35.3 327.0V329.5 M36.6 323.0H34.1 M35.3 328.3H34.1 M34.1 323.0V328.3 M42.7 330.7H38.8 M42.7 331.3H38.8 M38.8 330.7V331.3 M42.7 332.0H39.6 M42.7 332.7H39.6 M39.6 332.0V332.7 M39.6 332.4H38.0 M42.7 333.2H38.0 M38.0 332.4V333.2 M42.7 334.1H38.9 M42.7 334.9H38.9 M38.9 334.1V334.9 M38.0 332.8H37.3 M38.9 334.5H37.3 M37.3 332.8V334.5 M38.8 331.0H35.4 M37.3 333.6H35.4 M35.4 331.0V333.6 M34.1 325.7H32.4 M35.4 332.3H32.4 M32.4 325.7V332.3 M29.7 306.0H29.0 M32.4 329.0H29.0 M29.0 306.0V329.0 M42.7 336.1H39.7 M42.7 336.8H39.7 M39.7 336.1V336.8 M39.7 336.5H38.0 M42.7 337.6H38.0 M38.0 336.5V337.6 M42.7 335.4H36.3 M38.0 337.0H36.3 M36.3 335.4V337.0 M36.3 336.2H34.9 M42.7 338.8H34.9 M34.9 336.2V338.8 M42.7 340.2H39.0 M42.7 340.9H39.0 M39.0 340.2V340.9 M39.0 340.5H37.5 M42.7 341.8H37.5 M37.5 340.5V341.8 M42.7 339.7H37.0 M37.5 341.2H37.0 M37.0 339.7V341.2 M34.9 337.5H34.4 M37.0 340.5H34.4 M34.4 337.5V340.5 M42.7 342.8H38.8 M42.7 343.6H38.8 M38.8 342.8V343.6 M34.4 339.0H33.0 M38.8 343.2H33.0 M33.0 339.0V343.2 M29.0 317.5H28.5 M33.0 341.1H28.5 M28.5 317.5V341.1 M31.4 291.5H28.0 M28.5 329.3H28.0 M28.0 291.5V329.3 M25.9 262.1H23.7 M28.0 310.4H23.7 M23.7 262.1V310.4 M42.7 344.3H38.6 M42.7 345.0H38.6 M38.6 344.3V345.0 M38.6 344.6H37.6 M42.7 345.5H37.6 M37.6 344.6V345.5 M42.7 346.4H38.8 M42.7 347.1H38.8 M38.8 346.4V347.1 M38.8 346.8H38.2 M42.7 347.5H38.2 M38.2 346.8V347.5 M38.2 347.1H37.0 M42.7 348.0H37.0 M37.0 347.1V348.0 M37.6 345.1H35.0 M37.0 347.6H35.0 M35.0 345.1V347.6 M35.0 346.3H34.5 M42.7 349.0H34.5 M34.5 346.3V349.0 M42.7 349.8H38.8 M42.7 350.5H38.8 M38.8 349.8V350.5 M42.7 351.3H39.3 M42.7 352.0H39.3 M39.3 351.3V352.0 M39.3 351.7H38.8 M42.7 352.6H38.8 M38.8 351.7V352.6 M38.8 350.1H36.8 M38.8 352.1H36.8 M36.8 350.1V352.1 M34.5 347.7H34.0 M36.8 351.1H34.0 M34.0 347.7V351.1 M42.7 355.6H38.5 M42.7 356.3H38.5 M38.5 355.6V356.3 M42.7 354.9H38.0 M38.5 356.0H38.0 M38.0 354.9V356.0 M42.7 354.1H37.5 M38.0 355.4H37.5 M37.5 354.1V355.4 M42.7 353.1H36.2 M37.5 354.7H36.2 M36.2 353.1V354.7 M36.2 353.9H35.3 M42.7 357.1H35.3 M35.3 353.9V357.1 M34.0 349.4H31.2 M35.3 355.5H31.2 M31.2 349.4V355.5 M42.7 358.2H38.9 M42.7 359.0H38.9 M38.9 358.2V359.0 M42.7 357.7H38.2 M38.9 358.6H38.2 M38.2 357.7V358.6 M42.7 361.8H38.7 M42.7 362.7H38.7 M38.7 361.8V362.7 M42.7 361.1H36.9 M38.7 362.3H36.9 M36.9 361.1V362.3 M42.7 360.2H36.4 M36.9 361.7H36.4 M36.4 360.2V361.7 M42.7 363.9H38.9 M42.7 364.7H38.9 M38.9 363.9V364.7 M42.7 365.1H38.8 M42.7 365.8H38.8 M38.8 365.1V365.8 M38.9 364.3H36.3 M38.8 365.4H36.3 M36.3 364.3V365.4 M36.4 360.9H34.9 M36.3 364.9H34.9 M34.9 360.9V364.9 M42.7 366.6H39.1 M42.7 367.4H39.1 M39.1 366.6V367.4 M39.1 367.0H38.6 M42.7 367.9H38.6 M38.6 367.0V367.9 M42.7 368.6H39.3 M42.7 369.2H39.3 M39.3 368.6V369.2 M39.3 368.9H38.6 M42.7 369.6H38.6 M38.6 368.9V369.6 M38.6 367.5H36.3 M38.6 369.2H36.3 M36.3 367.5V369.2 M34.9 362.9H33.9 M36.3 368.3H33.9 M33.9 362.9V368.3 M38.2 358.1H31.3 M33.9 365.6H31.3 M31.3 358.1V365.6 M31.2 352.4H30.0 M31.3 361.9H30.0 M30.0 352.4V361.9 M42.7 370.1H39.4 M42.7 370.7H39.4 M39.4 370.1V370.7 M42.7 371.7H39.3 M42.7 372.4H39.3 M39.3 371.7V372.4 M42.7 371.3H38.6 M39.3 372.1H38.6 M38.6 371.3V372.1 M42.7 373.4H39.1 M42.7 374.1H39.1 M39.1 373.4V374.1 M38.6 371.7H36.4 M39.1 373.8H36.4 M36.4 371.7V373.8 M42.7 374.5H38.9 M42.7 375.3H38.9 M38.9 374.5V375.3 M38.9 374.9H38.4 M42.7 375.9H38.4 M38.4 374.9V375.9 M36.4 372.7H34.8 M38.4 375.4H34.8 M34.8 372.7V375.4 M42.7 377.0H38.0 M42.7 377.8H38.0 M38.0 377.0V377.8 M42.7 376.2H37.5 M38.0 377.4H37.5 M37.5 376.2V377.4 M34.8 374.1H34.3 M37.5 376.8H34.3 M34.3 374.1V376.8 M39.4 370.4H33.8 M34.3 375.4H33.8 M33.8 370.4V375.4 M42.7 379.6H38.8 M42.7 380.3H38.8 M38.8 379.6V380.3 M42.7 378.7H37.2 M38.8 380.0H37.2 M37.2 378.7V380.0 M42.7 381.0H37.9 M42.7 381.9H37.9 M37.9 381.0V381.9 M37.9 381.5H37.4 M42.7 382.8H37.4 M37.4 381.5V382.8 M42.7 384.7H37.7 M42.7 385.8H37.7 M37.7 384.7V385.8 M42.7 383.6H37.2 M37.7 385.3H37.2 M37.2 383.6V385.3 M37.2 384.4H35.1 M42.7 386.9H35.1 M35.1 384.4V386.9 M37.4 382.1H34.6 M35.1 385.7H34.6 M34.6 382.1V385.7 M42.7 388.5H39.2 M42.7 389.3H39.2 M39.2 388.5V389.3 M42.7 388.0H37.7 M39.2 388.9H37.7 M37.7 388.0V388.9 M34.6 383.9H33.0 M37.7 388.4H33.0 M33.0 383.9V388.4 M37.2 379.3H32.5 M33.0 386.2H32.5 M32.5 379.3V386.2 M42.7 391.0H38.8 M42.7 391.7H38.8 M38.8 391.0V391.7 M42.7 392.7H38.2 M42.7 393.6H38.2 M38.2 392.7V393.6 M38.8 391.4H37.6 M38.2 393.1H37.6 M37.6 391.4V393.1 M42.7 390.3H36.3 M37.6 392.2H36.3 M36.3 390.3V392.2 M42.7 394.0H38.8 M42.7 394.8H38.8 M38.8 394.0V394.8 M38.8 394.4H37.7 M42.7 395.7H37.7 M37.7 394.4V395.7 M36.3 391.3H35.8 M37.7 395.1H35.8 M35.8 391.3V395.1 M32.5 382.8H30.0 M35.8 393.2H30.0 M30.0 382.8V393.2 M33.8 372.9H29.4 M30.0 388.0H29.4 M29.4 372.9V388.0 M30.0 357.2H28.9 M29.4 380.4H28.9 M28.9 357.2V380.4 M42.7 396.4H39.2 M42.7 397.1H39.2 M39.2 396.4V397.1 M39.2 396.7H37.3 M42.7 398.2H37.3 M37.3 396.7V398.2 M42.7 399.9H38.4 M42.7 400.7H38.4 M38.4 399.9V400.7 M42.7 399.2H37.8 M38.4 400.3H37.8 M37.8 399.2V400.3 M42.7 401.8H38.9 M42.7 402.6H38.9 M38.9 401.8V402.6 M37.8 399.7H35.7 M38.9 402.2H35.7 M35.7 399.7V402.2 M37.3 397.5H34.9 M35.7 401.0H34.9 M34.9 397.5V401.0 M42.7 403.3H38.9 M42.7 404.0H38.9 M38.9 403.3V404.0 M42.7 402.9H38.0 M38.9 403.7H38.0 M38.0 402.9V403.7 M42.7 405.0H37.8 M42.7 405.9H37.8 M37.8 405.0V405.9 M42.7 408.0H39.3 M42.7 408.7H39.3 M39.3 408.0V408.7 M42.7 407.4H37.9 M39.3 408.3H37.9 M37.9 407.4V408.3 M42.7 406.8H37.4 M37.9 407.9H37.4 M37.4 406.8V407.9 M42.7 409.7H38.5 M42.7 410.5H38.5 M38.5 409.7V410.5 M38.5 410.1H37.6 M42.7 411.2H37.6 M37.6 410.1V411.2 M37.4 407.3H34.8 M37.6 410.7H34.8 M34.8 407.3V410.7 M37.8 405.5H33.6 M34.8 409.0H33.6 M33.6 405.5V409.0 M38.0 403.3H33.1 M33.6 407.2H33.1 M33.1 403.3V407.2 M42.7 413.1H38.7 M42.7 414.1H38.7 M38.7 413.1V414.1 M42.7 412.1H36.8 M38.7 413.6H36.8 M36.8 412.1V413.6 M33.1 405.3H32.2 M36.8 412.9H32.2 M32.2 405.3V412.9 M34.9 399.2H30.0 M32.2 409.1H30.0 M30.0 399.2V409.1 M42.7 416.6H38.3 M42.7 417.5H38.3 M38.3 416.6V417.5 M42.7 415.8H37.7 M38.3 417.1H37.7 M37.7 415.8V417.1 M42.7 415.0H36.8 M37.7 416.4H36.8 M36.8 415.0V416.4 M42.7 418.6H37.0 M42.7 419.9H37.0 M37.0 418.6V419.9 M36.8 415.7H34.2 M37.0 419.3H34.2 M34.2 415.7V419.3 M42.7 421.6H38.3 M42.7 422.3H38.3 M38.3 421.6V422.3 M42.7 420.7H37.8 M38.3 421.9H37.8 M37.8 420.7V421.9 M42.7 422.9H38.8 M42.7 423.7H38.8 M38.8 422.9V423.7 M37.8 421.3H36.9 M38.8 423.3H36.9 M36.9 421.3V423.3 M34.2 417.5H32.9 M36.9 422.3H32.9 M32.9 417.5V422.3 M42.7 424.7H38.1 M42.7 425.5H38.1 M38.1 424.7V425.5 M42.7 426.1H38.1 M42.7 426.9H38.1 M38.1 426.1V426.9 M38.1 425.1H36.3 M38.1 426.5H36.3 M36.3 425.1V426.5 M36.3 425.8H35.8 M42.7 427.8H35.8 M35.8 425.8V427.8 M32.9 419.9H32.4 M35.8 426.8H32.4 M32.4 419.9V426.8 M30.0 404.1H29.5 M32.4 423.3H29.5 M29.5 404.1V423.3 M28.9 368.8H26.7 M29.5 413.7H26.7 M26.7 368.8V413.7 M23.7 286.3H23.2 M26.7 391.3H23.2 M23.2 286.3V391.3 M29.5 200.3H23.9 M23.2 338.8H23.9 M23.9 200.3V338.8 M25.6 108.6H15.2 M23.9 269.5H15.2 M15.2 108.6V269.5"/>
</g>
<rect x="39.60" y="61.90" width="3.80" height="364.70" fill="#111"/>
<defs><linearGradient id="cb" x1="0" y1="0" x2="0" y2="1"><stop offset="0" stop-color="#2c4f8e"/><stop offset="0.18" stop-color="#5470aa"/><stop offset="0.34" stop-color="#a6b1d4"/><stop offset="0.46" stop-color="#f0f0f4"/><stop offset="0.53" stop-color="#f6e6de"/><stop offset="0.61" stop-color="#e9b3a2"/><stop offset="0.73" stop-color="#d06262"/><stop offset="0.86" stop-color="#b92331"/><stop offset="1" stop-color="#ad0e2a"/></linearGradient></defs>
<rect x="109.70" y="59.70" width="5.70" height="80.00" fill="url(#cb)"/>
<text x="121.00" y="80.60" font-size="8.5">1</text>
<text x="119.90" y="102.00" font-size="8.5">0</text>
<text x="119.90" y="122.00" font-size="8.5">−1</text>
<text x="182.00" y="48.10" font-size="9.5" text-anchor="middle">Gene expression in</text>
<text x="182.00" y="58.90" font-size="9.5" text-anchor="middle">WT and</text>
<text x="182.00" y="70.00" font-size="9.5" text-anchor="middle">P1-MRIPV/MRIPV</text>
<text x="182.00" y="81.10" font-size="9.5" text-anchor="middle">(MRIPV) PreMegEs</text>
<text x="158.80" y="109.90" font-size="9.5">In MRIPV,</text>
<text x="151.00" y="128.10" font-size="9.5">389 genes</text>
<text x="151.00" y="151.20" font-size="9.5">732 genes</text>
<line x1="204.60" y1="117.50" x2="204.60" y2="130.40" stroke="#4a5c8c" stroke-width="0.9"/>
<path d="M202.3 120.2 L204.6 116.6 L206.9 120.2" fill="none" stroke="#4a5c8c" stroke-width="0.9"/>
<line x1="204.60" y1="139.60" x2="204.60" y2="151.80" stroke="#a3324a" stroke-width="0.9"/>
<path d="M202.3 149.2 L204.6 152.7 L206.9 149.2" fill="none" stroke="#a3324a" stroke-width="0.9"/>
<text transform="translate(45.60,430.80) rotate(90)" font-size="8.8">WT_1</text>
<text transform="translate(56.20,430.80) rotate(90)" font-size="8.8">WT_2</text>
<text transform="translate(66.80,430.80) rotate(90)" font-size="8.8">WT_3</text>
<text transform="translate(77.40,430.80) rotate(90)" font-size="8.8">MRIPV_3</text>
<text transform="translate(88.00,430.80) rotate(90)" font-size="8.8">MRIPV_1</text>
<text transform="translate(98.60,430.80) rotate(90)" font-size="8.8">MRIPV_2</text>
<line x1="255.60" y1="202.90" x2="255.60" y2="335.30" stroke="#111" stroke-width="1.6"/>
<line x1="446.30" y1="202.90" x2="446.30" y2="335.30" stroke="#111" stroke-width="1.6"/>
<line x1="254.80" y1="334.50" x2="447.10" y2="334.50" stroke="#111" stroke-width="1.6"/>
<line x1="251.60" y1="334.50" x2="255.60" y2="334.50" stroke="#111" stroke-width="1.2"/>
<text x="246.60" y="337.60" font-size="8.8" text-anchor="end">0</text>
<line x1="251.60" y1="292.50" x2="255.60" y2="292.50" stroke="#111" stroke-width="1.2"/>
<text x="246.60" y="295.60" font-size="8.8" text-anchor="end">2</text>
<line x1="251.60" y1="250.50" x2="255.60" y2="250.50" stroke="#111" stroke-width="1.2"/>
<text x="246.60" y="253.60" font-size="8.8" text-anchor="end">4</text>
<line x1="251.60" y1="208.50" x2="255.60" y2="208.50" stroke="#111" stroke-width="1.2"/>
<text x="246.60" y="211.60" font-size="8.8" text-anchor="end">6</text>
<line x1="446.30" y1="334.50" x2="450.30" y2="334.50" stroke="#111" stroke-width="1.2"/>
<text x="454.80" y="337.60" font-size="8.8">0</text>
<line x1="446.30" y1="309.25" x2="450.30" y2="309.25" stroke="#111" stroke-width="1.2"/>
<text x="454.80" y="312.35" font-size="8.8">1</text>
<line x1="446.30" y1="284.00" x2="450.30" y2="284.00" stroke="#111" stroke-width="1.2"/>
<text x="454.80" y="287.10" font-size="8.8">2</text>
<line x1="446.30" y1="258.75" x2="450.30" y2="258.75" stroke="#111" stroke-width="1.2"/>
<text x="454.80" y="261.85" font-size="8.8">3</text>
<line x1="446.30" y1="233.50" x2="450.30" y2="233.50" stroke="#111" stroke-width="1.2"/>
<text x="454.80" y="236.60" font-size="8.8">4</text>
<line x1="446.30" y1="208.25" x2="450.30" y2="208.25" stroke="#111" stroke-width="1.2"/>
<text x="454.80" y="211.35" font-size="8.8">5</text>
<rect x="262.70" y="232.95" width="4.40" height="101.55" fill="#a8072c" stroke="#7c0420" stroke-width="0.6"/>
<line x1="264.90" y1="334.50" x2="264.90" y2="338.50" stroke="#111" stroke-width="1.2"/>
<text transform="translate(269.70,347.80) rotate(-45)" font-size="9.6" text-anchor="end">CXCR4 Signaling</text>
<rect x="281.65" y="241.14" width="4.40" height="93.36" fill="#a8072c" stroke="#7c0420" stroke-width="0.6"/>
<line x1="283.85" y1="334.50" x2="283.85" y2="338.50" stroke="#111" stroke-width="1.2"/>
<text transform="translate(288.65,347.80) rotate(-45)" font-size="9.6" text-anchor="end">Ephrin B Signaling</text>
<rect x="300.60" y="245.13" width="4.40" height="89.37" fill="#a8072c" stroke="#7c0420" stroke-width="0.6"/>
<line x1="302.80" y1="334.50" x2="302.80" y2="338.50" stroke="#111" stroke-width="1.2"/>
<text transform="translate(307.60,347.80) rotate(-45)" font-size="9.6" text-anchor="end">Signaling by Rho GTPases</text>
<rect x="319.55" y="248.91" width="4.40" height="85.59" fill="#a8072c" stroke="#7c0420" stroke-width="0.6"/>
<line x1="321.75" y1="334.50" x2="321.75" y2="338.50" stroke="#111" stroke-width="1.2"/>
<text transform="translate(326.55,347.80) rotate(-45)" font-size="9.6" text-anchor="end">Tec Kinase Signaling</text>
<rect x="338.50" y="256.47" width="4.40" height="78.03" fill="#a8072c" stroke="#7c0420" stroke-width="0.6"/>
<line x1="340.70" y1="334.50" x2="340.70" y2="338.50" stroke="#111" stroke-width="1.2"/>
<text transform="translate(345.50,347.80) rotate(-45)" font-size="9.6" text-anchor="end">Phospholipase C Signaling</text>
<rect x="357.45" y="257.73" width="4.40" height="76.77" fill="#a8072c" stroke="#7c0420" stroke-width="0.6"/>
<line x1="359.65" y1="334.50" x2="359.65" y2="338.50" stroke="#111" stroke-width="1.2"/>
<text transform="translate(364.45,347.80) rotate(-45)" font-size="9.6" text-anchor="end">Thrombin Signaling</text>
<rect x="376.40" y="260.04" width="4.40" height="74.46" fill="#a8072c" stroke="#7c0420" stroke-width="0.6"/>
<line x1="378.60" y1="334.50" x2="378.60" y2="338.50" stroke="#111" stroke-width="1.2"/>
<text transform="translate(383.40,347.80) rotate(-45)" font-size="9.6" text-anchor="end">HGF Signaling</text>
<rect x="395.35" y="261.09" width="4.40" height="73.41" fill="#a8072c" stroke="#7c0420" stroke-width="0.6"/>
<line x1="397.55" y1="334.50" x2="397.55" y2="338.50" stroke="#111" stroke-width="1.2"/>
<text transform="translate(402.35,347.80) rotate(-45)" font-size="9.6" text-anchor="end">Integrin Signaling</text>
<rect x="414.30" y="265.92" width="4.40" height="68.58" fill="#a8072c" stroke="#7c0420" stroke-width="0.6"/>
<line x1="416.50" y1="334.50" x2="416.50" y2="338.50" stroke="#111" stroke-width="1.2"/>
<text transform="translate(421.30,347.80) rotate(-45)" font-size="9.6" text-anchor="end">IL8 Signaling</text>
<rect x="433.25" y="266.76" width="4.40" height="67.74" fill="#a8072c" stroke="#7c0420" stroke-width="0.6"/>
<line x1="435.45" y1="334.50" x2="435.45" y2="338.50" stroke="#111" stroke-width="1.2"/>
<text transform="translate(440.25,347.80) rotate(-45)" font-size="9.6" text-anchor="end">Rac Signaling</text>
<polyline points="264.90,266.83 283.85,285.77 302.80,272.89 321.75,284.25 340.70,224.92 359.65,264.05 378.60,259.51 397.55,268.09 416.50,254.71 435.45,282.99" fill="none" stroke="#64a03c" stroke-width="2.1" stroke-linejoin="round"/>
<path d="M262.60 268.43 L264.90 264.63 L267.20 268.43 Z" fill="#8dbb60"/>
<path d="M281.55 287.37 L283.85 283.57 L286.15 287.37 Z" fill="#8dbb60"/>
<path d="M300.50 274.49 L302.80 270.69 L305.10 274.49 Z" fill="#8dbb60"/>
<path d="M319.45 285.85 L321.75 282.05 L324.05 285.85 Z" fill="#8dbb60"/>
<path d="M338.40 226.52 L340.70 222.72 L343.00 226.52 Z" fill="#8dbb60"/>
<path d="M357.35 265.65 L359.65 261.85 L361.95 265.65 Z" fill="#8dbb60"/>
<path d="M376.30 261.11 L378.60 257.31 L380.90 261.11 Z" fill="#8dbb60"/>
<path d="M395.25 269.69 L397.55 265.89 L399.85 269.69 Z" fill="#8dbb60"/>
<path d="M414.20 256.31 L416.50 252.51 L418.80 256.31 Z" fill="#8dbb60"/>
<path d="M433.15 284.59 L435.45 280.79 L437.75 284.59 Z" fill="#8dbb60"/>
<rect x="282.20" y="198.90" width="13.40" height="5.70" fill="#a8072c" stroke="#7c0420" stroke-width="0.6"/>
<text x="300.60" y="204.20" font-size="9.5" textLength="52.6" lengthAdjust="spacingAndGlyphs">-log(p-value)</text>
<line x1="282.00" y1="216.40" x2="295.80" y2="216.40" stroke="#64a03c" stroke-width="2.4"/>
<path d="M286.6 218 L288.9 214.2 L291.2 218 Z" fill="#8dbb60"/>
<text x="300.60" y="219.00" font-size="9.5" textLength="126.5" lengthAdjust="spacingAndGlyphs">-(z-score) (level of repression)</text>
<text transform="translate(218.10,268.90) rotate(-90)" font-size="12.2" text-anchor="middle" style="stroke-width:0.42px" textLength="60" lengthAdjust="spacingAndGlyphs">Significance</text>
<text transform="translate(232.40,269.00) rotate(-90)" font-size="12.2" text-anchor="middle" style="stroke-width:0.42px" textLength="76" lengthAdjust="spacingAndGlyphs">(-log (p-value))</text>
<text transform="translate(482.70,269.10) rotate(90)" font-size="12.2" text-anchor="middle" style="stroke-width:0.42px" textLength="95.5" lengthAdjust="spacingAndGlyphs">Level of repression</text>
<text transform="translate(468.00,268.90) rotate(90)" font-size="12.2" text-anchor="middle" style="stroke-width:0.42px" textLength="57.8" lengthAdjust="spacingAndGlyphs">(-(z-score))</text>
<line x1="209.70" y1="435.40" x2="447.00" y2="435.40" stroke="#111" stroke-width="1.6"/>
<text x="327.20" y="450.50" font-size="12.8" text-anchor="middle" style="stroke-width:0.42px" textLength="134" lengthAdjust="spacingAndGlyphs">Top repressed pathways in</text>
<text x="327.20" y="464.50" font-size="12.8" text-anchor="middle" style="stroke-width:0.42px" textLength="143" lengthAdjust="spacingAndGlyphs">P1-MRIPV/MRIPV PreMegEs</text>
<line x1="68.80" y1="517.80" x2="68.80" y2="650.30" stroke="#111" stroke-width="1.6"/>
<line x1="68.00" y1="649.50" x2="257.50" y2="649.50" stroke="#111" stroke-width="1.6"/>
<line x1="63.80" y1="649.50" x2="68.80" y2="649.50" stroke="#111" stroke-width="1.2"/>
<text x="58.90" y="652.70" font-size="9" text-anchor="end">0</text>
<line x1="63.80" y1="607.00" x2="68.80" y2="607.00" stroke="#111" stroke-width="1.2"/>
<text x="58.90" y="610.20" font-size="9" text-anchor="end">50</text>
<line x1="63.80" y1="564.50" x2="68.80" y2="564.50" stroke="#111" stroke-width="1.2"/>
<text x="58.90" y="567.70" font-size="9" text-anchor="end">100</text>
<line x1="63.80" y1="522.00" x2="68.80" y2="522.00" stroke="#111" stroke-width="1.2"/>
<text x="58.90" y="525.20" font-size="9" text-anchor="end">150</text>
<rect x="72.30" y="629.06" width="4.90" height="20.44" fill="#a8072c" stroke="#7c0420" stroke-width="0.6"/>
<rect x="80.30" y="634.50" width="4.90" height="15.00" fill="#2f4e8c" stroke="#1f3566" stroke-width="0.6"/>
<line x1="74.75" y1="628.76" x2="74.75" y2="627.49" stroke="#111" stroke-width="1.1"/>
<line x1="73.25" y1="627.69" x2="76.25" y2="627.69" stroke="#111" stroke-width="1.5"/>
<line x1="82.75" y1="634.20" x2="82.75" y2="633.35" stroke="#111" stroke-width="1.1"/>
<line x1="81.25" y1="633.55" x2="84.25" y2="633.55" stroke="#111" stroke-width="1.5"/>
<line x1="78.75" y1="649.50" x2="78.75" y2="653.50" stroke="#111" stroke-width="1.2"/>
<path d="M76.10 620.35 L76.79 621.75 L78.33 621.97 L77.22 623.06 L77.48 624.60 L76.10 623.88 L74.72 624.60 L74.98 623.06 L73.87 621.97 L75.41 621.75ZM81.40 620.35 L82.09 621.75 L83.63 621.97 L82.52 623.06 L82.78 624.60 L81.40 623.88 L80.02 624.60 L80.28 623.06 L79.17 621.97 L80.71 621.75Z" fill="#1a1a1a"/>
<text transform="translate(83.55,662.80) rotate(-45)" font-size="9.6" text-anchor="end">Itga2b (Cd41)</text>
<rect x="93.52" y="637.90" width="4.90" height="11.60" fill="#a8072c" stroke="#7c0420" stroke-width="0.6"/>
<rect x="101.52" y="643.34" width="4.90" height="6.16" fill="#2f4e8c" stroke="#1f3566" stroke-width="0.6"/>
<line x1="95.97" y1="637.60" x2="95.97" y2="635.48" stroke="#111" stroke-width="1.1"/>
<line x1="94.47" y1="635.68" x2="97.47" y2="635.68" stroke="#111" stroke-width="1.5"/>
<line x1="103.97" y1="643.04" x2="103.97" y2="642.36" stroke="#111" stroke-width="1.1"/>
<line x1="102.47" y1="642.56" x2="105.47" y2="642.56" stroke="#111" stroke-width="1.5"/>
<line x1="99.97" y1="649.50" x2="99.97" y2="653.50" stroke="#111" stroke-width="1.2"/>
<path d="M99.97 629.85 L100.66 631.25 L102.20 631.47 L101.09 632.56 L101.35 634.10 L99.97 633.38 L98.59 634.10 L98.85 632.56 L97.74 631.47 L99.28 631.25Z" fill="#1a1a1a"/>
<text transform="translate(104.77,662.80) rotate(-45)" font-size="9.6" text-anchor="end">Itgb3 (Cd61)</text>
<rect x="114.74" y="620.05" width="4.90" height="29.45" fill="#a8072c" stroke="#7c0420" stroke-width="0.6"/>
<rect x="122.74" y="632.29" width="4.90" height="17.21" fill="#2f4e8c" stroke="#1f3566" stroke-width="0.6"/>
<line x1="117.19" y1="619.75" x2="117.19" y2="615.92" stroke="#111" stroke-width="1.1"/>
<line x1="115.69" y1="616.12" x2="118.69" y2="616.12" stroke="#111" stroke-width="1.5"/>
<line x1="125.19" y1="631.99" x2="125.19" y2="631.14" stroke="#111" stroke-width="1.1"/>
<line x1="123.69" y1="631.34" x2="126.69" y2="631.34" stroke="#111" stroke-width="1.5"/>
<line x1="121.19" y1="649.50" x2="121.19" y2="653.50" stroke="#111" stroke-width="1.2"/>
<path d="M121.19 609.85 L121.88 611.25 L123.42 611.47 L122.31 612.56 L122.57 614.10 L121.19 613.38 L119.81 614.10 L120.07 612.56 L118.96 611.47 L120.50 611.25Z" fill="#1a1a1a"/>
<text transform="translate(125.99,662.80) rotate(-45)" font-size="9.6" text-anchor="end">Mpl</text>
<rect x="135.96" y="559.78" width="4.90" height="89.72" fill="#a8072c" stroke="#7c0420" stroke-width="0.6"/>
<rect x="143.96" y="629.82" width="4.90" height="19.67" fill="#2f4e8c" stroke="#1f3566" stroke-width="0.6"/>
<line x1="138.41" y1="559.49" x2="138.41" y2="553.96" stroke="#111" stroke-width="1.1"/>
<line x1="136.91" y1="554.16" x2="139.91" y2="554.16" stroke="#111" stroke-width="1.5"/>
<line x1="146.41" y1="629.52" x2="146.41" y2="628.25" stroke="#111" stroke-width="1.1"/>
<line x1="144.91" y1="628.45" x2="147.91" y2="628.45" stroke="#111" stroke-width="1.5"/>
<line x1="142.41" y1="649.50" x2="142.41" y2="653.50" stroke="#111" stroke-width="1.2"/>
<path d="M137.11 546.65 L137.80 548.05 L139.34 548.27 L138.23 549.36 L138.49 550.90 L137.11 550.17 L135.73 550.90 L135.99 549.36 L134.88 548.27 L136.42 548.05ZM142.41 546.65 L143.10 548.05 L144.64 548.27 L143.53 549.36 L143.79 550.90 L142.41 550.17 L141.03 550.90 L141.29 549.36 L140.18 548.27 L141.72 548.05ZM147.71 546.65 L148.40 548.05 L149.94 548.27 L148.83 549.36 L149.09 550.90 L147.71 550.17 L146.33 550.90 L146.59 549.36 L145.48 548.27 L147.02 548.05Z" fill="#1a1a1a"/>
<text transform="translate(147.21,662.80) rotate(-45)" font-size="9.6" text-anchor="end">Pf4</text>
<rect x="157.18" y="558.51" width="4.90" height="90.99" fill="#a8072c" stroke="#7c0420" stroke-width="0.6"/>
<rect x="165.18" y="596.59" width="4.90" height="52.91" fill="#2f4e8c" stroke="#1f3566" stroke-width="0.6"/>
<line x1="159.63" y1="558.21" x2="159.63" y2="557.19" stroke="#111" stroke-width="1.1"/>
<line x1="158.13" y1="557.39" x2="161.13" y2="557.39" stroke="#111" stroke-width="1.5"/>
<line x1="167.63" y1="596.29" x2="167.63" y2="593.74" stroke="#111" stroke-width="1.1"/>
<line x1="166.13" y1="593.94" x2="169.13" y2="593.94" stroke="#111" stroke-width="1.5"/>
<line x1="163.63" y1="649.50" x2="163.63" y2="653.50" stroke="#111" stroke-width="1.2"/>
<path d="M158.33 546.65 L159.02 548.05 L160.56 548.27 L159.45 549.36 L159.71 550.90 L158.33 550.17 L156.95 550.90 L157.21 549.36 L156.10 548.27 L157.64 548.05ZM163.63 546.65 L164.32 548.05 L165.86 548.27 L164.75 549.36 L165.01 550.90 L163.63 550.17 L162.25 550.90 L162.51 549.36 L161.40 548.27 L162.94 548.05ZM168.93 546.65 L169.62 548.05 L171.16 548.27 L170.05 549.36 L170.31 550.90 L168.93 550.17 L167.55 550.90 L167.81 549.36 L166.70 548.27 L168.24 548.05Z" fill="#1a1a1a"/>
<text transform="translate(168.43,662.80) rotate(-45)" font-size="9.6" text-anchor="end">Rgs18</text>
<rect x="178.40" y="619.03" width="4.90" height="30.47" fill="#a8072c" stroke="#7c0420" stroke-width="0.6"/>
<rect x="186.40" y="606.02" width="4.90" height="43.48" fill="#2f4e8c" stroke="#1f3566" stroke-width="0.6"/>
<line x1="180.85" y1="618.73" x2="180.85" y2="617.88" stroke="#111" stroke-width="1.1"/>
<line x1="179.35" y1="618.08" x2="182.35" y2="618.08" stroke="#111" stroke-width="1.5"/>
<line x1="188.85" y1="605.73" x2="188.85" y2="603.18" stroke="#111" stroke-width="1.1"/>
<line x1="187.35" y1="603.38" x2="190.35" y2="603.38" stroke="#111" stroke-width="1.5"/>
<line x1="184.85" y1="649.50" x2="184.85" y2="653.50" stroke="#111" stroke-width="1.2"/>
<path d="M182.20 597.35 L182.89 598.75 L184.43 598.97 L183.32 600.06 L183.58 601.60 L182.20 600.88 L180.82 601.60 L181.08 600.06 L179.97 598.97 L181.51 598.75ZM187.50 597.35 L188.19 598.75 L189.73 598.97 L188.62 600.06 L188.88 601.60 L187.50 600.88 L186.12 601.60 L186.38 600.06 L185.27 598.97 L186.81 598.75Z" fill="#1a1a1a"/>
<text transform="translate(189.65,662.80) rotate(-45)" font-size="9.6" text-anchor="end">Epor</text>
<rect x="199.62" y="643.34" width="4.90" height="6.16" fill="#a8072c" stroke="#7c0420" stroke-width="0.6"/>
<rect x="207.62" y="640.45" width="4.90" height="9.05" fill="#2f4e8c" stroke="#1f3566" stroke-width="0.6"/>
<line x1="202.07" y1="643.04" x2="202.07" y2="642.19" stroke="#111" stroke-width="1.1"/>
<line x1="200.57" y1="642.39" x2="203.57" y2="642.39" stroke="#111" stroke-width="1.5"/>
<line x1="210.07" y1="640.15" x2="210.07" y2="638.88" stroke="#111" stroke-width="1.1"/>
<line x1="208.57" y1="639.08" x2="211.57" y2="639.08" stroke="#111" stroke-width="1.5"/>
<line x1="206.07" y1="649.50" x2="206.07" y2="653.50" stroke="#111" stroke-width="1.2"/>
<path d="M206.07 632.85 L206.76 634.25 L208.30 634.47 L207.19 635.56 L207.45 637.10 L206.07 636.38 L204.69 637.10 L204.95 635.56 L203.84 634.47 L205.38 634.25Z" fill="#1a1a1a"/>
<text transform="translate(210.87,662.80) rotate(-45)" font-size="9.6" text-anchor="end">Ppox</text>
<rect x="220.84" y="626.00" width="4.90" height="23.50" fill="#a8072c" stroke="#7c0420" stroke-width="0.6"/>
<rect x="228.84" y="599.82" width="4.90" height="49.68" fill="#2f4e8c" stroke="#1f3566" stroke-width="0.6"/>
<line x1="223.29" y1="625.70" x2="223.29" y2="623.58" stroke="#111" stroke-width="1.1"/>
<line x1="221.79" y1="623.78" x2="224.79" y2="623.78" stroke="#111" stroke-width="1.5"/>
<line x1="231.29" y1="599.52" x2="231.29" y2="597.39" stroke="#111" stroke-width="1.1"/>
<line x1="229.79" y1="597.60" x2="232.79" y2="597.60" stroke="#111" stroke-width="1.5"/>
<line x1="227.29" y1="649.50" x2="227.29" y2="653.50" stroke="#111" stroke-width="1.2"/>
<path d="M221.99 590.35 L222.68 591.75 L224.22 591.97 L223.11 593.06 L223.37 594.60 L221.99 593.88 L220.61 594.60 L220.87 593.06 L219.76 591.97 L221.30 591.75ZM227.29 590.35 L227.98 591.75 L229.52 591.97 L228.41 593.06 L228.67 594.60 L227.29 593.88 L225.91 594.60 L226.17 593.06 L225.06 591.97 L226.60 591.75ZM232.59 590.35 L233.28 591.75 L234.82 591.97 L233.71 593.06 L233.97 594.60 L232.59 593.88 L231.21 594.60 L231.47 593.06 L230.36 591.97 L231.90 591.75Z" fill="#1a1a1a"/>
<text transform="translate(232.09,662.80) rotate(-45)" font-size="9.6" text-anchor="end">Cpox</text>
<rect x="242.06" y="647.84" width="4.90" height="1.65" fill="#a8072c" stroke="#7c0420" stroke-width="0.6"/>
<rect x="250.06" y="644.70" width="4.90" height="4.80" fill="#2f4e8c" stroke="#1f3566" stroke-width="0.6"/>
<line x1="244.51" y1="647.54" x2="244.51" y2="647.03" stroke="#111" stroke-width="1.1"/>
<line x1="243.01" y1="647.24" x2="246.01" y2="647.24" stroke="#111" stroke-width="1.5"/>
<line x1="252.51" y1="644.40" x2="252.51" y2="643.12" stroke="#111" stroke-width="1.1"/>
<line x1="251.01" y1="643.33" x2="254.01" y2="643.33" stroke="#111" stroke-width="1.5"/>
<line x1="248.51" y1="649.50" x2="248.51" y2="653.50" stroke="#111" stroke-width="1.2"/>
<path d="M245.86 635.85 L246.55 637.25 L248.09 637.47 L246.98 638.56 L247.24 640.10 L245.86 639.38 L244.48 640.10 L244.74 638.56 L243.63 637.47 L245.17 637.25ZM251.16 635.85 L251.85 637.25 L253.39 637.47 L252.28 638.56 L252.54 640.10 L251.16 639.38 L249.78 640.10 L250.04 638.56 L248.93 637.47 L250.47 637.25Z" fill="#1a1a1a"/>
<text transform="translate(253.31,662.80) rotate(-45)" font-size="9.6" text-anchor="end">Ank1</text>
<text transform="translate(21.90,583.50) rotate(-90)" font-size="12.5" text-anchor="middle" style="stroke-width:0.42px" textLength="130.7" lengthAdjust="spacingAndGlyphs">Mk/Ery marker expression</text>
<text transform="translate(36.50,583.90) rotate(-90)" font-size="12.5" text-anchor="middle" style="stroke-width:0.42px" textLength="140" lengthAdjust="spacingAndGlyphs">in PreMegEs (RPKM values)</text>
<line x1="65.00" y1="709.50" x2="175.40" y2="709.50" stroke="#111" stroke-width="1.6"/>
<line x1="178.60" y1="709.50" x2="257.00" y2="709.50" stroke="#111" stroke-width="1.6"/>
<text x="120.00" y="725.50" font-size="12.8" text-anchor="middle" style="stroke-width:0.42px">Mk</text>
<text x="221.00" y="725.50" font-size="12.8" text-anchor="middle" style="stroke-width:0.42px" textLength="17.2" lengthAdjust="spacingAndGlyphs">Ery</text>
<line x1="320.20" y1="517.60" x2="320.20" y2="650.60" stroke="#111" stroke-width="1.6"/>
<line x1="315.90" y1="649.80" x2="509.00" y2="649.80" stroke="#111" stroke-width="1.6"/>
<line x1="315.90" y1="649.80" x2="320.20" y2="649.80" stroke="#111" stroke-width="1.2"/>
<text x="310.80" y="653.00" font-size="9" text-anchor="end">0</text>
<line x1="315.90" y1="618.20" x2="320.20" y2="618.20" stroke="#111" stroke-width="1.2"/>
<text x="310.80" y="621.40" font-size="9" text-anchor="end">100</text>
<line x1="315.90" y1="586.60" x2="320.20" y2="586.60" stroke="#111" stroke-width="1.2"/>
<text x="310.80" y="589.80" font-size="9" text-anchor="end">200</text>
<line x1="315.90" y1="555.00" x2="320.20" y2="555.00" stroke="#111" stroke-width="1.2"/>
<text x="310.80" y="558.20" font-size="9" text-anchor="end">300</text>
<line x1="315.90" y1="523.40" x2="320.20" y2="523.40" stroke="#111" stroke-width="1.2"/>
<text x="310.80" y="526.60" font-size="9" text-anchor="end">400</text>
<rect x="326.30" y="641.41" width="7.50" height="8.39" fill="#a8072c" stroke="#7c0420" stroke-width="0.6"/>
<rect x="338.00" y="642.01" width="7.50" height="7.79" fill="#2f4e8c" stroke="#1f3566" stroke-width="0.6"/>
<line x1="330.05" y1="641.11" x2="330.05" y2="640.48" stroke="#111" stroke-width="1.1"/>
<line x1="328.05" y1="640.68" x2="332.05" y2="640.68" stroke="#111" stroke-width="1.5"/>
<line x1="341.75" y1="641.71" x2="341.75" y2="641.08" stroke="#111" stroke-width="1.1"/>
<line x1="339.75" y1="641.28" x2="343.75" y2="641.28" stroke="#111" stroke-width="1.5"/>
<line x1="335.80" y1="649.80" x2="335.80" y2="653.80" stroke="#111" stroke-width="1.2"/>
<text x="335.80" y="667.20" font-size="9.5" text-anchor="middle">Runx1</text>
<rect x="357.95" y="624.31" width="7.50" height="25.49" fill="#a8072c" stroke="#7c0420" stroke-width="0.6"/>
<rect x="369.65" y="619.76" width="7.50" height="30.04" fill="#2f4e8c" stroke="#1f3566" stroke-width="0.6"/>
<line x1="361.70" y1="624.01" x2="361.70" y2="623.07" stroke="#111" stroke-width="1.1"/>
<line x1="359.70" y1="623.27" x2="363.70" y2="623.27" stroke="#111" stroke-width="1.5"/>
<line x1="373.40" y1="619.46" x2="373.40" y2="618.52" stroke="#111" stroke-width="1.1"/>
<line x1="371.40" y1="618.72" x2="375.40" y2="618.72" stroke="#111" stroke-width="1.5"/>
<line x1="367.45" y1="649.80" x2="367.45" y2="653.80" stroke="#111" stroke-width="1.2"/>
<path d="M364.80 611.75 L365.49 613.15 L367.03 613.37 L365.92 614.46 L366.18 616.00 L364.80 615.27 L363.42 616.00 L363.68 614.46 L362.57 613.37 L364.11 613.15ZM370.10 611.75 L370.79 613.15 L372.33 613.37 L371.22 614.46 L371.48 616.00 L370.10 615.27 L368.72 616.00 L368.98 614.46 L367.87 613.37 L369.41 613.15Z" fill="#1a1a1a"/>
<text x="367.45" y="667.20" font-size="9.5" text-anchor="middle">Gata1</text>
<rect x="389.60" y="557.83" width="7.50" height="91.97" fill="#a8072c" stroke="#7c0420" stroke-width="0.6"/>
<rect x="401.30" y="571.73" width="7.50" height="78.07" fill="#2f4e8c" stroke="#1f3566" stroke-width="0.6"/>
<line x1="393.35" y1="557.53" x2="393.35" y2="553.74" stroke="#111" stroke-width="1.1"/>
<line x1="391.35" y1="553.94" x2="395.35" y2="553.94" stroke="#111" stroke-width="1.5"/>
<line x1="405.05" y1="571.43" x2="405.05" y2="568.90" stroke="#111" stroke-width="1.1"/>
<line x1="403.05" y1="569.10" x2="407.05" y2="569.10" stroke="#111" stroke-width="1.5"/>
<line x1="399.10" y1="649.80" x2="399.10" y2="653.80" stroke="#111" stroke-width="1.2"/>
<path d="M396.45 548.85 L397.14 550.25 L398.68 550.47 L397.57 551.56 L397.83 553.10 L396.45 552.38 L395.07 553.10 L395.33 551.56 L394.22 550.47 L395.76 550.25ZM401.75 548.85 L402.44 550.25 L403.98 550.47 L402.87 551.56 L403.13 553.10 L401.75 552.38 L400.37 553.10 L400.63 551.56 L399.52 550.47 L401.06 550.25Z" fill="#1a1a1a"/>
<text x="399.10" y="667.20" font-size="9.5" text-anchor="middle">Gata2</text>
<rect x="421.25" y="630.00" width="7.50" height="19.80" fill="#a8072c" stroke="#7c0420" stroke-width="0.6"/>
<rect x="432.95" y="618.50" width="7.50" height="31.30" fill="#2f4e8c" stroke="#1f3566" stroke-width="0.6"/>
<line x1="425.00" y1="629.70" x2="425.00" y2="629.07" stroke="#111" stroke-width="1.1"/>
<line x1="423.00" y1="629.27" x2="427.00" y2="629.27" stroke="#111" stroke-width="1.5"/>
<line x1="436.70" y1="618.20" x2="436.70" y2="617.25" stroke="#111" stroke-width="1.1"/>
<line x1="434.70" y1="617.45" x2="438.70" y2="617.45" stroke="#111" stroke-width="1.5"/>
<line x1="430.75" y1="649.80" x2="430.75" y2="653.80" stroke="#111" stroke-width="1.2"/>
<path d="M425.45 604.35 L426.14 605.75 L427.68 605.97 L426.57 607.06 L426.83 608.60 L425.45 607.88 L424.07 608.60 L424.33 607.06 L423.22 605.97 L424.76 605.75ZM430.75 604.35 L431.44 605.75 L432.98 605.97 L431.87 607.06 L432.13 608.60 L430.75 607.88 L429.37 608.60 L429.63 607.06 L428.52 605.97 L430.06 605.75ZM436.05 604.35 L436.74 605.75 L438.28 605.97 L437.17 607.06 L437.43 608.60 L436.05 607.88 L434.67 608.60 L434.93 607.06 L433.82 605.97 L435.36 605.75Z" fill="#1a1a1a"/>
<text x="430.75" y="667.20" font-size="9.5" text-anchor="middle">Gfi1b</text>
<rect x="452.90" y="609.34" width="7.50" height="40.46" fill="#a8072c" stroke="#7c0420" stroke-width="0.6"/>
<rect x="464.60" y="586.27" width="7.50" height="63.53" fill="#2f4e8c" stroke="#1f3566" stroke-width="0.6"/>
<line x1="456.65" y1="609.04" x2="456.65" y2="608.09" stroke="#111" stroke-width="1.1"/>
<line x1="454.65" y1="608.29" x2="458.65" y2="608.29" stroke="#111" stroke-width="1.5"/>
<line x1="468.35" y1="585.97" x2="468.35" y2="585.02" stroke="#111" stroke-width="1.1"/>
<line x1="466.35" y1="585.22" x2="470.35" y2="585.22" stroke="#111" stroke-width="1.5"/>
<line x1="462.40" y1="649.80" x2="462.40" y2="653.80" stroke="#111" stroke-width="1.2"/>
<path d="M457.10 571.85 L457.79 573.25 L459.33 573.47 L458.22 574.56 L458.48 576.10 L457.10 575.38 L455.72 576.10 L455.98 574.56 L454.87 573.47 L456.41 573.25ZM462.40 571.85 L463.09 573.25 L464.63 573.47 L463.52 574.56 L463.78 576.10 L462.40 575.38 L461.02 576.10 L461.28 574.56 L460.17 573.47 L461.71 573.25ZM467.70 571.85 L468.39 573.25 L469.93 573.47 L468.82 574.56 L469.08 576.10 L467.70 575.38 L466.32 576.10 L466.58 574.56 L465.47 573.47 L467.01 573.25Z" fill="#1a1a1a"/>
<text x="462.40" y="667.20" font-size="9.5" text-anchor="middle">Klf1</text>
<rect x="484.55" y="629.56" width="7.50" height="20.24" fill="#a8072c" stroke="#7c0420" stroke-width="0.6"/>
<rect x="496.25" y="637.14" width="7.50" height="12.66" fill="#2f4e8c" stroke="#1f3566" stroke-width="0.6"/>
<line x1="488.30" y1="629.26" x2="488.30" y2="628.31" stroke="#111" stroke-width="1.1"/>
<line x1="486.30" y1="628.51" x2="490.30" y2="628.51" stroke="#111" stroke-width="1.5"/>
<line x1="500.00" y1="636.84" x2="500.00" y2="636.21" stroke="#111" stroke-width="1.1"/>
<line x1="498.00" y1="636.41" x2="502.00" y2="636.41" stroke="#111" stroke-width="1.5"/>
<line x1="494.05" y1="649.80" x2="494.05" y2="653.80" stroke="#111" stroke-width="1.2"/>
<path d="M488.75 615.85 L489.44 617.25 L490.98 617.47 L489.87 618.56 L490.13 620.10 L488.75 619.38 L487.37 620.10 L487.63 618.56 L486.52 617.47 L488.06 617.25ZM494.05 615.85 L494.74 617.25 L496.28 617.47 L495.17 618.56 L495.43 620.10 L494.05 619.38 L492.67 620.10 L492.93 618.56 L491.82 617.47 L493.36 617.25ZM499.35 615.85 L500.04 617.25 L501.58 617.47 L500.47 618.56 L500.73 620.10 L499.35 619.38 L497.97 620.10 L498.23 618.56 L497.12 617.47 L498.66 617.25Z" fill="#1a1a1a"/>
<text x="494.05" y="667.20" font-size="9.5" text-anchor="middle">Fli1</text>
<rect x="332.40" y="519.40" width="15.20" height="7.40" fill="#a8072c" stroke="#7c0420" stroke-width="0.6"/>
<text x="352.20" y="526.00" font-size="8.5" textLength="11" lengthAdjust="spacingAndGlyphs">WT</text>
<rect x="332.40" y="532.50" width="15.20" height="7.20" fill="#2f4e8c" stroke="#1f3566" stroke-width="0.6"/>
<text x="352.20" y="539.10" font-size="8.5" textLength="63.6" lengthAdjust="spacingAndGlyphs">P1-MRIPV/MRIPV</text>
<text transform="translate(274.00,583.60) rotate(-90)" font-size="12.5" text-anchor="middle" style="stroke-width:0.42px" textLength="121.4" lengthAdjust="spacingAndGlyphs">Mk/Ery TF expression in</text>
<text transform="translate(288.10,583.50) rotate(-90)" font-size="12.5" text-anchor="middle" style="stroke-width:0.42px" textLength="130" lengthAdjust="spacingAndGlyphs">PreMegEs (RPKM values)</text>
<line x1="67.40" y1="775.80" x2="67.40" y2="909.10" stroke="#111" stroke-width="1.6"/>
<line x1="130.80" y1="775.80" x2="130.80" y2="909.10" stroke="#111" stroke-width="1.6"/>
<line x1="66.60" y1="908.30" x2="131.60" y2="908.30" stroke="#111" stroke-width="1.6"/>
<line x1="62.90" y1="908.30" x2="67.40" y2="908.30" stroke="#111" stroke-width="1.2"/>
<text x="57.80" y="911.30" font-size="8.5" text-anchor="end">0</text>
<line x1="130.80" y1="908.30" x2="135.30" y2="908.30" stroke="#111" stroke-width="1.2"/>
<text x="139.40" y="911.30" font-size="8.5">0</text>
<line x1="62.90" y1="865.90" x2="67.40" y2="865.90" stroke="#111" stroke-width="1.2"/>
<text x="57.80" y="868.90" font-size="8.5" text-anchor="end">1</text>
<line x1="130.80" y1="865.90" x2="135.30" y2="865.90" stroke="#111" stroke-width="1.2"/>
<text x="139.40" y="868.90" font-size="8.5">1</text>
<line x1="62.90" y1="823.50" x2="67.40" y2="823.50" stroke="#111" stroke-width="1.2"/>
<text x="57.80" y="826.50" font-size="8.5" text-anchor="end">2</text>
<line x1="130.80" y1="823.50" x2="135.30" y2="823.50" stroke="#111" stroke-width="1.2"/>
<text x="139.40" y="826.50" font-size="8.5">2</text>
<line x1="62.90" y1="781.10" x2="67.40" y2="781.10" stroke="#111" stroke-width="1.2"/>
<text x="57.80" y="784.10" font-size="8.5" text-anchor="end">3</text>
<line x1="130.80" y1="781.10" x2="135.30" y2="781.10" stroke="#111" stroke-width="1.2"/>
<text x="139.40" y="784.10" font-size="8.5">3</text>
<rect x="74.50" y="789.46" width="4.70" height="118.84" fill="#2f4e8c" stroke="#1f3566" stroke-width="0.6"/>
<line x1="76.85" y1="908.30" x2="76.85" y2="912.30" stroke="#111" stroke-width="1.2"/>
<text transform="translate(81.65,921.60) rotate(-45)" font-size="9.6" text-anchor="end">Apoptosis Signaling</text>
<rect x="93.55" y="795.82" width="4.70" height="112.48" fill="#2f4e8c" stroke="#1f3566" stroke-width="0.6"/>
<line x1="95.90" y1="908.30" x2="95.90" y2="912.30" stroke="#111" stroke-width="1.2"/>
<text transform="translate(100.70,921.60) rotate(-45)" font-size="9.6" text-anchor="end">RhoGDI Signaling</text>
<rect x="112.60" y="816.17" width="4.70" height="92.13" fill="#2f4e8c" stroke="#1f3566" stroke-width="0.6"/>
<line x1="114.95" y1="908.30" x2="114.95" y2="912.30" stroke="#111" stroke-width="1.2"/>
<text transform="translate(119.75,921.60) rotate(-45)" font-size="9.6" text-anchor="end">PPARa/RXRa Activation</text>
<polyline points="76.85,832.83 95.90,795.09 114.95,856.15" fill="none" stroke="#64a03c" stroke-width="2.1" stroke-linejoin="round"/>
<path d="M74.55 834.43 L76.85 830.63 L79.15 834.43 Z" fill="#8dbb60"/>
<path d="M93.60 796.69 L95.90 792.89 L98.20 796.69 Z" fill="#8dbb60"/>
<path d="M112.65 857.75 L114.95 853.95 L117.25 857.75 Z" fill="#8dbb60"/>
<rect x="170.50" y="799.60" width="13.50" height="6.70" fill="#2f4e8c" stroke="#1f3566" stroke-width="0.6"/>
<text x="189.40" y="806.00" font-size="9.5">-log(p-value)</text>
<line x1="170.20" y1="817.90" x2="184.30" y2="817.90" stroke="#64a03c" stroke-width="2.4"/>
<path d="M175.3 819.5 L177.6 815.7 L179.9 819.5 Z" fill="#8dbb60"/>
<text x="188.80" y="821.20" font-size="9.5">z-score</text>
<text x="188.80" y="832.40" font-size="9.5">(level of</text>
<text x="188.80" y="843.60" font-size="9.5">activation)</text>
<text transform="translate(45.30,842.80) rotate(-90)" font-size="12.5" text-anchor="middle" style="stroke-width:0.42px" textLength="141.2" lengthAdjust="spacingAndGlyphs">Significance (-log (p-value))</text>
<text transform="translate(152.90,842.00) rotate(90)" font-size="12.5" text-anchor="middle" style="stroke-width:0.42px" textLength="138" lengthAdjust="spacingAndGlyphs">Level of activation (z-score)</text>
<line x1="10.80" y1="1000.20" x2="131.40" y2="1000.20" stroke="#111" stroke-width="1.6"/>
<text x="70.80" y="1015.70" font-size="12.8" text-anchor="middle" style="stroke-width:0.42px" textLength="108.5" lengthAdjust="spacingAndGlyphs">Activated pathways in</text>
<text x="72.00" y="1030.90" font-size="12.8" text-anchor="middle" style="stroke-width:0.42px" textLength="93" lengthAdjust="spacingAndGlyphs">P1-MRIPV/MRIPV</text>
<text x="71.40" y="1046.20" font-size="12.8" text-anchor="middle" style="stroke-width:0.42px" textLength="51" lengthAdjust="spacingAndGlyphs">PreMegEs</text>
<line x1="315.50" y1="780.90" x2="315.50" y2="844.60" stroke="#111" stroke-width="1.6"/>
<line x1="315.50" y1="853.70" x2="315.50" y2="914.10" stroke="#111" stroke-width="1.6"/>
<line x1="311.60" y1="844.60" x2="318.50" y2="844.60" stroke="#111" stroke-width="1.4"/>
<line x1="311.60" y1="853.70" x2="318.50" y2="853.70" stroke="#111" stroke-width="1.4"/>
<line x1="314.70" y1="913.30" x2="506.50" y2="913.30" stroke="#111" stroke-width="1.6"/>
<text x="305.30" y="847.60" font-size="8.5" text-anchor="end">100</text>
<line x1="311.00" y1="824.83" x2="315.50" y2="824.83" stroke="#111" stroke-width="1.2"/>
<text x="305.30" y="827.83" font-size="8.5" text-anchor="end">200</text>
<line x1="311.00" y1="805.06" x2="315.50" y2="805.06" stroke="#111" stroke-width="1.2"/>
<text x="305.30" y="808.06" font-size="8.5" text-anchor="end">300</text>
<line x1="311.00" y1="785.29" x2="315.50" y2="785.29" stroke="#111" stroke-width="1.2"/>
<text x="305.30" y="788.29" font-size="8.5" text-anchor="end">400</text>
<line x1="311.00" y1="913.30" x2="315.50" y2="913.30" stroke="#111" stroke-width="1.2"/>
<text x="305.30" y="916.30" font-size="8.5" text-anchor="end">0</text>
<line x1="311.00" y1="901.50" x2="315.50" y2="901.50" stroke="#111" stroke-width="1.2"/>
<text x="305.30" y="904.50" font-size="8.5" text-anchor="end">10</text>
<line x1="311.00" y1="889.70" x2="315.50" y2="889.70" stroke="#111" stroke-width="1.2"/>
<text x="305.30" y="892.70" font-size="8.5" text-anchor="end">20</text>
<line x1="311.00" y1="877.90" x2="315.50" y2="877.90" stroke="#111" stroke-width="1.2"/>
<text x="305.30" y="880.90" font-size="8.5" text-anchor="end">30</text>
<line x1="311.00" y1="866.10" x2="315.50" y2="866.10" stroke="#111" stroke-width="1.2"/>
<text x="305.30" y="869.10" font-size="8.5" text-anchor="end">40</text>
<text x="305.30" y="857.30" font-size="8.5" text-anchor="end">50</text>
<rect x="318.60" y="908.88" width="3.70" height="4.42" fill="#a8072c" stroke="#7c0420" stroke-width="0.6"/>
<line x1="320.45" y1="908.58" x2="320.45" y2="907.99" stroke="#111" stroke-width="1.1"/>
<line x1="318.95" y1="908.19" x2="321.95" y2="908.19" stroke="#111" stroke-width="1.5"/>
<rect x="324.80" y="906.76" width="3.70" height="6.54" fill="#2f4e8c" stroke="#1f3566" stroke-width="0.6"/>
<line x1="326.65" y1="906.46" x2="326.65" y2="905.87" stroke="#111" stroke-width="1.1"/>
<line x1="325.15" y1="906.07" x2="328.15" y2="906.07" stroke="#111" stroke-width="1.5"/>
<line x1="323.55" y1="913.30" x2="323.55" y2="917.30" stroke="#111" stroke-width="1.2"/>
<path d="M323.55 897.65 L324.24 899.05 L325.78 899.27 L324.67 900.36 L324.93 901.90 L323.55 901.17 L322.17 901.90 L322.43 900.36 L321.32 899.27 L322.86 899.05Z" fill="#1a1a1a"/>
<text transform="translate(328.05,925.80) rotate(-45)" font-size="9.0" text-anchor="end">Bcl2l11</text>
<rect x="334.50" y="880.91" width="3.70" height="32.39" fill="#a8072c" stroke="#7c0420" stroke-width="0.6"/>
<line x1="336.35" y1="880.61" x2="336.35" y2="879.67" stroke="#111" stroke-width="1.1"/>
<line x1="334.85" y1="879.87" x2="337.85" y2="879.87" stroke="#111" stroke-width="1.5"/>
<rect x="340.70" y="871.36" width="3.70" height="41.94" fill="#2f4e8c" stroke="#1f3566" stroke-width="0.6"/>
<line x1="342.55" y1="871.06" x2="342.55" y2="869.17" stroke="#111" stroke-width="1.1"/>
<line x1="341.05" y1="869.37" x2="344.05" y2="869.37" stroke="#111" stroke-width="1.5"/>
<line x1="339.45" y1="913.30" x2="339.45" y2="917.30" stroke="#111" stroke-width="1.2"/>
<path d="M336.80 862.05 L337.49 863.45 L339.03 863.67 L337.92 864.76 L338.18 866.30 L336.80 865.58 L335.42 866.30 L335.68 864.76 L334.57 863.67 L336.11 863.45ZM342.10 862.05 L342.79 863.45 L344.33 863.67 L343.22 864.76 L343.48 866.30 L342.10 865.58 L340.72 866.30 L340.98 864.76 L339.87 863.67 L341.41 863.45Z" fill="#1a1a1a"/>
<text transform="translate(343.95,925.80) rotate(-45)" font-size="9.0" text-anchor="end">Htra2</text>
<rect x="350.40" y="904.87" width="3.70" height="8.43" fill="#a8072c" stroke="#7c0420" stroke-width="0.6"/>
<line x1="352.25" y1="904.57" x2="352.25" y2="903.62" stroke="#111" stroke-width="1.1"/>
<line x1="350.75" y1="903.82" x2="353.75" y2="903.82" stroke="#111" stroke-width="1.5"/>
<rect x="356.60" y="902.98" width="3.70" height="10.32" fill="#2f4e8c" stroke="#1f3566" stroke-width="0.6"/>
<line x1="358.45" y1="902.68" x2="358.45" y2="901.74" stroke="#111" stroke-width="1.1"/>
<line x1="356.95" y1="901.94" x2="359.95" y2="901.94" stroke="#111" stroke-width="1.5"/>
<line x1="355.35" y1="913.30" x2="355.35" y2="917.30" stroke="#111" stroke-width="1.2"/>
<path d="M350.05 894.85 L350.74 896.25 L352.28 896.47 L351.17 897.56 L351.43 899.10 L350.05 898.38 L348.67 899.10 L348.93 897.56 L347.82 896.47 L349.36 896.25ZM355.35 894.85 L356.04 896.25 L357.58 896.47 L356.47 897.56 L356.73 899.10 L355.35 898.38 L353.97 899.10 L354.23 897.56 L353.12 896.47 L354.66 896.25ZM360.65 894.85 L361.34 896.25 L362.88 896.47 L361.77 897.56 L362.03 899.10 L360.65 898.38 L359.27 899.10 L359.53 897.56 L358.42 896.47 L359.96 896.25Z" fill="#1a1a1a"/>
<text transform="translate(359.85,925.80) rotate(-45)" font-size="9.0" text-anchor="end">Diablo</text>
<rect x="366.30" y="854.00" width="3.70" height="59.30" fill="#a8072c" stroke="#7c0420" stroke-width="0.6"/>
<rect x="366.30" y="835.61" width="3.70" height="8.99" fill="#a8072c" stroke="#7c0420" stroke-width="0.6"/>
<line x1="368.15" y1="835.31" x2="368.15" y2="833.73" stroke="#111" stroke-width="1.1"/>
<line x1="366.65" y1="833.93" x2="369.65" y2="833.93" stroke="#111" stroke-width="1.5"/>
<rect x="372.50" y="854.00" width="3.70" height="59.30" fill="#2f4e8c" stroke="#1f3566" stroke-width="0.6"/>
<rect x="372.50" y="807.53" width="3.70" height="37.07" fill="#2f4e8c" stroke="#1f3566" stroke-width="0.6"/>
<line x1="374.35" y1="807.23" x2="374.35" y2="806.25" stroke="#111" stroke-width="1.1"/>
<line x1="372.85" y1="806.45" x2="375.85" y2="806.45" stroke="#111" stroke-width="1.5"/>
<line x1="371.25" y1="913.30" x2="371.25" y2="917.30" stroke="#111" stroke-width="1.2"/>
<path d="M363.30 799.55 L363.99 800.95 L365.53 801.17 L364.42 802.26 L364.68 803.80 L363.30 803.08 L361.92 803.80 L362.18 802.26 L361.07 801.17 L362.61 800.95ZM368.60 799.55 L369.29 800.95 L370.83 801.17 L369.72 802.26 L369.98 803.80 L368.60 803.08 L367.22 803.80 L367.48 802.26 L366.37 801.17 L367.91 800.95ZM373.90 799.55 L374.59 800.95 L376.13 801.17 L375.02 802.26 L375.28 803.80 L373.90 803.08 L372.52 803.80 L372.78 802.26 L371.67 801.17 L373.21 800.95ZM379.20 799.55 L379.89 800.95 L381.43 801.17 L380.32 802.26 L380.58 803.80 L379.20 803.08 L377.82 803.80 L378.08 802.26 L376.97 801.17 L378.51 800.95Z" fill="#1a1a1a"/>
<text transform="translate(375.75,925.80) rotate(-45)" font-size="9.0" text-anchor="end">Casp3</text>
<rect x="382.20" y="908.88" width="3.70" height="4.42" fill="#a8072c" stroke="#7c0420" stroke-width="0.6"/>
<line x1="384.05" y1="908.58" x2="384.05" y2="907.99" stroke="#111" stroke-width="1.1"/>
<line x1="382.55" y1="908.19" x2="385.55" y2="908.19" stroke="#111" stroke-width="1.5"/>
<rect x="388.40" y="906.76" width="3.70" height="6.54" fill="#2f4e8c" stroke="#1f3566" stroke-width="0.6"/>
<line x1="390.25" y1="906.46" x2="390.25" y2="905.87" stroke="#111" stroke-width="1.1"/>
<line x1="388.75" y1="906.07" x2="391.75" y2="906.07" stroke="#111" stroke-width="1.5"/>
<line x1="387.15" y1="913.30" x2="387.15" y2="917.30" stroke="#111" stroke-width="1.2"/>
<path d="M384.50 897.65 L385.19 899.05 L386.73 899.27 L385.62 900.36 L385.88 901.90 L384.50 901.17 L383.12 901.90 L383.38 900.36 L382.27 899.27 L383.81 899.05ZM389.80 897.65 L390.49 899.05 L392.03 899.27 L390.92 900.36 L391.18 901.90 L389.80 901.17 L388.42 901.90 L388.68 900.36 L387.57 899.27 L389.11 899.05Z" fill="#1a1a1a"/>
<text transform="translate(391.65,925.80) rotate(-45)" font-size="9.0" text-anchor="end">Lmna</text>
<rect x="398.10" y="899.09" width="3.70" height="14.21" fill="#a8072c" stroke="#7c0420" stroke-width="0.6"/>
<line x1="399.95" y1="898.79" x2="399.95" y2="897.61" stroke="#111" stroke-width="1.1"/>
<line x1="398.45" y1="897.81" x2="401.45" y2="897.81" stroke="#111" stroke-width="1.5"/>
<rect x="404.30" y="903.10" width="3.70" height="10.20" fill="#2f4e8c" stroke="#1f3566" stroke-width="0.6"/>
<line x1="406.15" y1="902.80" x2="406.15" y2="901.97" stroke="#111" stroke-width="1.1"/>
<line x1="404.65" y1="902.17" x2="407.65" y2="902.17" stroke="#111" stroke-width="1.5"/>
<line x1="403.05" y1="913.30" x2="403.05" y2="917.30" stroke="#111" stroke-width="1.2"/>
<path d="M400.40 889.85 L401.09 891.25 L402.63 891.47 L401.52 892.56 L401.78 894.10 L400.40 893.38 L399.02 894.10 L399.28 892.56 L398.17 891.47 L399.71 891.25ZM405.70 889.85 L406.39 891.25 L407.93 891.47 L406.82 892.56 L407.08 894.10 L405.70 893.38 L404.32 894.10 L404.58 892.56 L403.47 891.47 L405.01 891.25Z" fill="#1a1a1a"/>
<text transform="translate(407.55,925.80) rotate(-45)" font-size="9.0" text-anchor="end">Map4k4</text>
<rect x="414.00" y="907.94" width="3.70" height="5.36" fill="#a8072c" stroke="#7c0420" stroke-width="0.6"/>
<line x1="415.85" y1="907.64" x2="415.85" y2="906.69" stroke="#111" stroke-width="1.1"/>
<line x1="414.35" y1="906.89" x2="417.35" y2="906.89" stroke="#111" stroke-width="1.5"/>
<rect x="420.20" y="910.30" width="3.70" height="3.00" fill="#2f4e8c" stroke="#1f3566" stroke-width="0.6"/>
<line x1="422.05" y1="910.00" x2="422.05" y2="909.41" stroke="#111" stroke-width="1.1"/>
<line x1="420.55" y1="909.61" x2="423.55" y2="909.61" stroke="#111" stroke-width="1.5"/>
<line x1="418.95" y1="913.30" x2="418.95" y2="917.30" stroke="#111" stroke-width="1.2"/>
<path d="M418.95 899.05 L419.64 900.45 L421.18 900.67 L420.07 901.76 L420.33 903.30 L418.95 902.58 L417.57 903.30 L417.83 901.76 L416.72 900.67 L418.26 900.45Z" fill="#1a1a1a"/>
<text transform="translate(423.45,925.80) rotate(-45)" font-size="9.0" text-anchor="end">Rras2</text>
<rect x="429.90" y="901.45" width="3.70" height="11.85" fill="#a8072c" stroke="#7c0420" stroke-width="0.6"/>
<line x1="431.75" y1="901.15" x2="431.75" y2="900.20" stroke="#111" stroke-width="1.1"/>
<line x1="430.25" y1="900.40" x2="433.25" y2="900.40" stroke="#111" stroke-width="1.5"/>
<rect x="436.10" y="905.34" width="3.70" height="7.96" fill="#2f4e8c" stroke="#1f3566" stroke-width="0.6"/>
<line x1="437.95" y1="905.04" x2="437.95" y2="904.21" stroke="#111" stroke-width="1.1"/>
<line x1="436.45" y1="904.41" x2="439.45" y2="904.41" stroke="#111" stroke-width="1.5"/>
<line x1="434.85" y1="913.30" x2="434.85" y2="917.30" stroke="#111" stroke-width="1.2"/>
<path d="M429.55 892.85 L430.24 894.25 L431.78 894.47 L430.67 895.56 L430.93 897.10 L429.55 896.38 L428.17 897.10 L428.43 895.56 L427.32 894.47 L428.86 894.25ZM434.85 892.85 L435.54 894.25 L437.08 894.47 L435.97 895.56 L436.23 897.10 L434.85 896.38 L433.47 897.10 L433.73 895.56 L432.62 894.47 L434.16 894.25ZM440.15 892.85 L440.84 894.25 L442.38 894.47 L441.27 895.56 L441.53 897.10 L440.15 896.38 L438.77 897.10 L439.03 895.56 L437.92 894.47 L439.46 894.25Z" fill="#1a1a1a"/>
<text transform="translate(439.35,925.80) rotate(-45)" font-size="9.0" text-anchor="end">Plcg2</text>
<rect x="445.80" y="904.51" width="3.70" height="8.79" fill="#a8072c" stroke="#7c0420" stroke-width="0.6"/>
<line x1="447.65" y1="904.21" x2="447.65" y2="903.27" stroke="#111" stroke-width="1.1"/>
<line x1="446.15" y1="903.47" x2="449.15" y2="903.47" stroke="#111" stroke-width="1.5"/>
<rect x="452.00" y="906.05" width="3.70" height="7.25" fill="#2f4e8c" stroke="#1f3566" stroke-width="0.6"/>
<line x1="453.85" y1="905.75" x2="453.85" y2="904.92" stroke="#111" stroke-width="1.1"/>
<line x1="452.35" y1="905.12" x2="455.35" y2="905.12" stroke="#111" stroke-width="1.5"/>
<line x1="450.75" y1="913.30" x2="450.75" y2="917.30" stroke="#111" stroke-width="1.2"/>
<path d="M450.75 896.65 L451.44 898.05 L452.98 898.27 L451.87 899.36 L452.13 900.90 L450.75 900.17 L449.37 900.90 L449.63 899.36 L448.52 898.27 L450.06 898.05Z" fill="#1a1a1a"/>
<text transform="translate(455.25,925.80) rotate(-45)" font-size="9.0" text-anchor="end">Prkca</text>
<rect x="461.70" y="887.64" width="3.70" height="25.66" fill="#a8072c" stroke="#7c0420" stroke-width="0.6"/>
<line x1="463.55" y1="887.34" x2="463.55" y2="886.16" stroke="#111" stroke-width="1.1"/>
<line x1="462.05" y1="886.36" x2="465.05" y2="886.36" stroke="#111" stroke-width="1.5"/>
<rect x="467.90" y="893.78" width="3.70" height="19.52" fill="#2f4e8c" stroke="#1f3566" stroke-width="0.6"/>
<line x1="469.75" y1="893.48" x2="469.75" y2="892.65" stroke="#111" stroke-width="1.1"/>
<line x1="468.25" y1="892.85" x2="471.25" y2="892.85" stroke="#111" stroke-width="1.5"/>
<line x1="466.65" y1="913.30" x2="466.65" y2="917.30" stroke="#111" stroke-width="1.2"/>
<path d="M464.00 879.85 L464.69 881.25 L466.23 881.47 L465.12 882.56 L465.38 884.10 L464.00 883.38 L462.62 884.10 L462.88 882.56 L461.77 881.47 L463.31 881.25ZM469.30 879.85 L469.99 881.25 L471.53 881.47 L470.42 882.56 L470.68 884.10 L469.30 883.38 L467.92 884.10 L468.18 882.56 L467.07 881.47 L468.61 881.25Z" fill="#1a1a1a"/>
<text transform="translate(471.15,925.80) rotate(-45)" font-size="9.0" text-anchor="end">Mapk3</text>
<rect x="477.60" y="893.78" width="3.70" height="19.52" fill="#a8072c" stroke="#7c0420" stroke-width="0.6"/>
<line x1="479.45" y1="893.48" x2="479.45" y2="892.30" stroke="#111" stroke-width="1.1"/>
<line x1="477.95" y1="892.50" x2="480.95" y2="892.50" stroke="#111" stroke-width="1.5"/>
<rect x="483.80" y="899.09" width="3.70" height="14.21" fill="#2f4e8c" stroke="#1f3566" stroke-width="0.6"/>
<line x1="485.65" y1="898.79" x2="485.65" y2="897.96" stroke="#111" stroke-width="1.1"/>
<line x1="484.15" y1="898.16" x2="487.15" y2="898.16" stroke="#111" stroke-width="1.5"/>
<line x1="482.55" y1="913.30" x2="482.55" y2="917.30" stroke="#111" stroke-width="1.2"/>
<path d="M482.55 886.35 L483.24 887.75 L484.78 887.97 L483.67 889.06 L483.93 890.60 L482.55 889.88 L481.17 890.60 L481.43 889.06 L480.32 887.97 L481.86 887.75Z" fill="#1a1a1a"/>
<text transform="translate(487.05,925.80) rotate(-45)" font-size="9.0" text-anchor="end">Rps6ka1</text>
<rect x="493.50" y="883.75" width="3.70" height="29.55" fill="#a8072c" stroke="#7c0420" stroke-width="0.6"/>
<line x1="495.35" y1="883.45" x2="495.35" y2="881.56" stroke="#111" stroke-width="1.1"/>
<line x1="493.85" y1="881.76" x2="496.85" y2="881.76" stroke="#111" stroke-width="1.5"/>
<rect x="499.70" y="891.53" width="3.70" height="21.77" fill="#2f4e8c" stroke="#1f3566" stroke-width="0.6"/>
<line x1="501.55" y1="891.23" x2="501.55" y2="890.41" stroke="#111" stroke-width="1.1"/>
<line x1="500.05" y1="890.61" x2="503.05" y2="890.61" stroke="#111" stroke-width="1.5"/>
<line x1="498.45" y1="913.30" x2="498.45" y2="917.30" stroke="#111" stroke-width="1.2"/>
<path d="M495.80 874.85 L496.49 876.25 L498.03 876.47 L496.92 877.56 L497.18 879.10 L495.80 878.38 L494.42 879.10 L494.68 877.56 L493.57 876.47 L495.11 876.25ZM501.10 874.85 L501.79 876.25 L503.33 876.47 L502.22 877.56 L502.48 879.10 L501.10 878.38 L499.72 879.10 L499.98 877.56 L498.87 876.47 L500.41 876.25Z" fill="#1a1a1a"/>
<text transform="translate(502.95,925.80) rotate(-45)" font-size="9.0" text-anchor="end">Bcl2</text>
<text transform="translate(267.20,846.60) rotate(-90)" font-size="12.5" text-anchor="middle" style="stroke-width:0.42px" textLength="144.2" lengthAdjust="spacingAndGlyphs">Apoptotic marker expression</text>
<text transform="translate(281.60,847.70) rotate(-90)" font-size="12.5" text-anchor="middle" style="stroke-width:0.42px" textLength="141.7" lengthAdjust="spacingAndGlyphs">in PreMegEs (RPKM values)</text>
<line x1="315.30" y1="957.50" x2="389.70" y2="957.50" stroke="#111" stroke-width="1.6"/>
<line x1="408.20" y1="957.50" x2="502.00" y2="957.50" stroke="#111" stroke-width="1.6"/>
<text x="352.50" y="974.30" font-size="12.8" text-anchor="middle" style="stroke-width:0.42px" textLength="68.6" lengthAdjust="spacingAndGlyphs">Pro-apoptotic</text>
<text x="454.50" y="974.30" font-size="12.8" text-anchor="middle" style="stroke-width:0.42px" textLength="70.7" lengthAdjust="spacingAndGlyphs">Anti-apoptotic</text>
</svg>
</body></html>
